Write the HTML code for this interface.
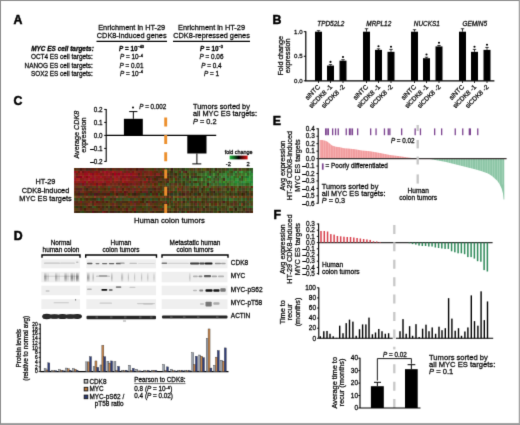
<!DOCTYPE html>
<html><head><meta charset="utf-8"><style>
html,body{margin:0;padding:0;background:#fff;}
body{width:520px;height:425px;overflow:hidden;position:relative;}
svg{position:absolute;left:0;top:0;font-family:"Liberation Sans", sans-serif;will-change:transform;}
text{stroke:currentColor;stroke-width:0.26px;}
</style></head><body>
<svg width="520" height="425" viewBox="0 0 520 425">
<defs><filter id="gbl" x="0" y="0" width="520" height="425" filterUnits="userSpaceOnUse" color-interpolation-filters="sRGB"><feConvolveMatrix order="3" kernelMatrix="0.0183 0.1353 0.0183 0.1353 1 0.1353 0.0183 0.1353 0.0183" divisor="1.6146" edgeMode="duplicate"/></filter></defs>
<g filter="url(#gbl)">
<rect x="0" y="0" width="520" height="425" fill="#fff"/>
<text x="13.4" y="24.4" font-size="12.3" font-weight="bold" fill="#000" style="stroke-width:0.5px">A</text>
<text x="131.7" y="30.4" font-size="7.35" text-anchor="middle" fill="#1a1a1a">Enrichment in HT-29</text>
<text x="131.7" y="37.8" font-size="7.35" text-anchor="middle" fill="#1a1a1a">CDK8-induced genes</text>
<text x="211.5" y="30.4" font-size="7.35" text-anchor="middle" fill="#1a1a1a">Enrichment in HT-29</text>
<text x="211.5" y="37.8" font-size="7.35" text-anchor="middle" fill="#1a1a1a">CDK8-repressed genes</text>
<line x1="96.50" y1="41.30" x2="167.00" y2="41.30" stroke="#000" stroke-width="1.3"/>
<line x1="173.00" y1="41.30" x2="250.00" y2="41.30" stroke="#000" stroke-width="1.3"/>
<text x="93.8" y="51.0" font-size="6.45" text-anchor="end" font-weight="bold" font-style="italic" fill="#000">MYC ES cell targets:</text>
<text x="92.8" y="59.400000000000006" font-size="6.4" text-anchor="end" fill="#1a1a1a">OCT4 ES cell targets:</text>
<text x="92.8" y="67.8" font-size="6.4" text-anchor="end" fill="#1a1a1a">NANOG ES cell targets:</text>
<text x="92.8" y="76.0" font-size="6.4" text-anchor="end" fill="#1a1a1a">SOX2 ES cell targets:</text>
<text x="131.5" y="51.0" font-size="6.35" text-anchor="middle" font-weight="bold" fill="#000"><tspan font-style="italic">P</tspan> = 10<tspan dy="-2.6" font-size="3.9">–40</tspan></text>
<text x="131.5" y="59.2" font-size="6.35" text-anchor="middle" fill="#1a1a1a"><tspan font-style="italic">P</tspan> = 10<tspan dy="-2.6" font-size="3.9">–4</tspan></text>
<text x="131.5" y="67.6" font-size="6.35" text-anchor="middle" fill="#1a1a1a"><tspan font-style="italic">P</tspan> = 0.01</text>
<text x="131.5" y="75.8" font-size="6.35" text-anchor="middle" fill="#1a1a1a"><tspan font-style="italic">P</tspan> = 10<tspan dy="-2.6" font-size="3.9">–4</tspan></text>
<text x="211.5" y="51.0" font-size="6.35" text-anchor="middle" font-weight="bold" fill="#000"><tspan font-style="italic">P</tspan> = 10<tspan dy="-2.6" font-size="3.9">–3</tspan></text>
<text x="211.5" y="59.2" font-size="6.35" text-anchor="middle" fill="#1a1a1a"><tspan font-style="italic">P</tspan> = 0.06</text>
<text x="211.5" y="67.6" font-size="6.35" text-anchor="middle" fill="#1a1a1a"><tspan font-style="italic">P</tspan> = 0.4</text>
<text x="211.5" y="75.8" font-size="6.35" text-anchor="middle" fill="#1a1a1a"><tspan font-style="italic">P</tspan> = 1</text>
<text x="272.5" y="24.0" font-size="12.3" font-weight="bold" fill="#000" style="stroke-width:0.5px">B</text>
<line x1="305.80" y1="31.20" x2="305.80" y2="80.80" stroke="#000" stroke-width="1.2"/>
<line x1="305.20" y1="80.80" x2="494.40" y2="80.80" stroke="#000" stroke-width="1.2"/>
<line x1="303.80" y1="31.70" x2="305.80" y2="31.70" stroke="#000" stroke-width="1"/>
<text x="302.6" y="33.8" font-size="6.1" text-anchor="end" fill="#1a1a1a">1.0</text>
<line x1="303.80" y1="56.25" x2="305.80" y2="56.25" stroke="#000" stroke-width="1"/>
<text x="302.6" y="58.35" font-size="6.1" text-anchor="end" fill="#1a1a1a">0.5</text>
<line x1="303.80" y1="80.80" x2="305.80" y2="80.80" stroke="#000" stroke-width="1"/>
<text x="302.6" y="82.89999999999999" font-size="6.1" text-anchor="end" fill="#1a1a1a">0.0</text>
<text transform="translate(282.7,55.8) rotate(-90)" font-size="7.2" text-anchor="middle" fill="#1a1a1a">Fold change</text>
<text transform="translate(289.7,55.8) rotate(-90)" font-size="7.2" text-anchor="middle" fill="#1a1a1a">expression</text>
<text x="330.8" y="25.5" font-size="6.4" text-anchor="middle" font-style="italic" fill="#1a1a1a">TPD52L2</text>
<rect x="315.00" y="31.70" width="7.00" height="49.10" fill="#000"/>
<line x1="318.50" y1="30.72" x2="318.50" y2="31.70" stroke="#000" stroke-width="0.8"/>
<line x1="316.80" y1="30.72" x2="320.20" y2="30.72" stroke="#000" stroke-width="0.8"/>
<line x1="318.50" y1="80.80" x2="318.50" y2="83.00" stroke="#000" stroke-width="0.8"/>
<text transform="translate(320.5,87.4) rotate(-45)" font-size="6.55" text-anchor="end" fill="#1a1a1a">siNTC</text>
<rect x="327.00" y="65.58" width="7.00" height="15.22" fill="#000"/>
<line x1="330.50" y1="64.60" x2="330.50" y2="65.58" stroke="#000" stroke-width="0.8"/>
<line x1="328.80" y1="64.60" x2="332.20" y2="64.60" stroke="#000" stroke-width="0.8"/>
<circle cx="330.50" cy="61.90" r="1.05" fill="#000"/>
<line x1="330.50" y1="80.80" x2="330.50" y2="83.00" stroke="#000" stroke-width="0.8"/>
<text transform="translate(332.5,87.4) rotate(-45)" font-size="6.55" text-anchor="end" fill="#1a1a1a">siCDK8 -1</text>
<rect x="339.50" y="60.67" width="7.00" height="20.13" fill="#000"/>
<line x1="343.00" y1="59.69" x2="343.00" y2="60.67" stroke="#000" stroke-width="0.8"/>
<line x1="341.30" y1="59.69" x2="344.70" y2="59.69" stroke="#000" stroke-width="0.8"/>
<circle cx="343.00" cy="56.99" r="1.05" fill="#000"/>
<line x1="343.00" y1="80.80" x2="343.00" y2="83.00" stroke="#000" stroke-width="0.8"/>
<text transform="translate(345.0,87.4) rotate(-45)" font-size="6.55" text-anchor="end" fill="#1a1a1a">siCDK8 -2</text>
<text x="378.8" y="25.5" font-size="6.4" text-anchor="middle" font-style="italic" fill="#1a1a1a">MRPL12</text>
<rect x="363.00" y="31.70" width="7.00" height="49.10" fill="#000"/>
<line x1="366.50" y1="28.75" x2="366.50" y2="31.70" stroke="#000" stroke-width="0.8"/>
<line x1="364.80" y1="28.75" x2="368.20" y2="28.75" stroke="#000" stroke-width="0.8"/>
<line x1="366.50" y1="80.80" x2="366.50" y2="83.00" stroke="#000" stroke-width="0.8"/>
<text transform="translate(368.5,87.4) rotate(-45)" font-size="6.55" text-anchor="end" fill="#1a1a1a">siNTC</text>
<rect x="375.00" y="49.87" width="7.00" height="30.93" fill="#000"/>
<line x1="378.50" y1="48.88" x2="378.50" y2="49.87" stroke="#000" stroke-width="0.8"/>
<line x1="376.80" y1="48.88" x2="380.20" y2="48.88" stroke="#000" stroke-width="0.8"/>
<circle cx="378.50" cy="46.18" r="1.05" fill="#000"/>
<line x1="378.50" y1="80.80" x2="378.50" y2="83.00" stroke="#000" stroke-width="0.8"/>
<text transform="translate(380.5,87.4) rotate(-45)" font-size="6.55" text-anchor="end" fill="#1a1a1a">siCDK8 -1</text>
<rect x="387.50" y="51.83" width="7.00" height="28.97" fill="#000"/>
<line x1="391.00" y1="49.38" x2="391.00" y2="51.83" stroke="#000" stroke-width="0.8"/>
<line x1="389.30" y1="49.38" x2="392.70" y2="49.38" stroke="#000" stroke-width="0.8"/>
<circle cx="391.00" cy="46.68" r="1.05" fill="#000"/>
<line x1="391.00" y1="80.80" x2="391.00" y2="83.00" stroke="#000" stroke-width="0.8"/>
<text transform="translate(393.0,87.4) rotate(-45)" font-size="6.55" text-anchor="end" fill="#1a1a1a">siCDK8 -2</text>
<text x="426.8" y="25.5" font-size="6.4" text-anchor="middle" font-style="italic" fill="#1a1a1a">NUCKS1</text>
<rect x="411.00" y="31.70" width="7.00" height="49.10" fill="#000"/>
<line x1="414.50" y1="29.74" x2="414.50" y2="31.70" stroke="#000" stroke-width="0.8"/>
<line x1="412.80" y1="29.74" x2="416.20" y2="29.74" stroke="#000" stroke-width="0.8"/>
<line x1="414.50" y1="80.80" x2="414.50" y2="83.00" stroke="#000" stroke-width="0.8"/>
<text transform="translate(416.5,87.4) rotate(-45)" font-size="6.55" text-anchor="end" fill="#1a1a1a">siNTC</text>
<rect x="423.00" y="58.21" width="7.00" height="22.59" fill="#000"/>
<line x1="426.50" y1="57.23" x2="426.50" y2="58.21" stroke="#000" stroke-width="0.8"/>
<line x1="424.80" y1="57.23" x2="428.20" y2="57.23" stroke="#000" stroke-width="0.8"/>
<circle cx="426.50" cy="54.53" r="1.05" fill="#000"/>
<line x1="426.50" y1="80.80" x2="426.50" y2="83.00" stroke="#000" stroke-width="0.8"/>
<text transform="translate(428.5,87.4) rotate(-45)" font-size="6.55" text-anchor="end" fill="#1a1a1a">siCDK8 -1</text>
<rect x="435.50" y="46.43" width="7.00" height="34.37" fill="#000"/>
<line x1="439.00" y1="45.45" x2="439.00" y2="46.43" stroke="#000" stroke-width="0.8"/>
<line x1="437.30" y1="45.45" x2="440.70" y2="45.45" stroke="#000" stroke-width="0.8"/>
<circle cx="439.00" cy="42.75" r="1.05" fill="#000"/>
<line x1="439.00" y1="80.80" x2="439.00" y2="83.00" stroke="#000" stroke-width="0.8"/>
<text transform="translate(441.0,87.4) rotate(-45)" font-size="6.55" text-anchor="end" fill="#1a1a1a">siCDK8 -2</text>
<text x="474.8" y="25.5" font-size="6.4" text-anchor="middle" font-style="italic" fill="#1a1a1a">GEMIN5</text>
<rect x="459.00" y="31.70" width="7.00" height="49.10" fill="#000"/>
<line x1="462.50" y1="28.75" x2="462.50" y2="31.70" stroke="#000" stroke-width="0.8"/>
<line x1="460.80" y1="28.75" x2="464.20" y2="28.75" stroke="#000" stroke-width="0.8"/>
<line x1="462.50" y1="80.80" x2="462.50" y2="83.00" stroke="#000" stroke-width="0.8"/>
<text transform="translate(464.5,87.4) rotate(-45)" font-size="6.55" text-anchor="end" fill="#1a1a1a">siNTC</text>
<rect x="471.00" y="51.83" width="7.00" height="28.97" fill="#000"/>
<line x1="474.50" y1="49.38" x2="474.50" y2="51.83" stroke="#000" stroke-width="0.8"/>
<line x1="472.80" y1="49.38" x2="476.20" y2="49.38" stroke="#000" stroke-width="0.8"/>
<circle cx="474.50" cy="46.68" r="1.05" fill="#000"/>
<line x1="474.50" y1="80.80" x2="474.50" y2="83.00" stroke="#000" stroke-width="0.8"/>
<text transform="translate(476.5,87.4) rotate(-45)" font-size="6.55" text-anchor="end" fill="#1a1a1a">siCDK8 -1</text>
<rect x="483.50" y="49.87" width="7.00" height="30.93" fill="#000"/>
<line x1="487.00" y1="47.41" x2="487.00" y2="49.87" stroke="#000" stroke-width="0.8"/>
<line x1="485.30" y1="47.41" x2="488.70" y2="47.41" stroke="#000" stroke-width="0.8"/>
<circle cx="487.00" cy="44.71" r="1.05" fill="#000"/>
<line x1="487.00" y1="80.80" x2="487.00" y2="83.00" stroke="#000" stroke-width="0.8"/>
<text transform="translate(489.0,87.4) rotate(-45)" font-size="6.55" text-anchor="end" fill="#1a1a1a">siCDK8 -2</text>
<text x="13.5" y="105.4" font-size="12.3" font-weight="bold" fill="#000" style="stroke-width:0.5px">C</text>
<line x1="106.20" y1="109.00" x2="106.20" y2="161.80" stroke="#000" stroke-width="1.1"/>
<line x1="104.20" y1="109.40" x2="106.20" y2="109.40" stroke="#000" stroke-width="1"/>
<text x="102.6" y="111.5" font-size="6.3" text-anchor="end" fill="#1a1a1a">0.2</text>
<line x1="104.20" y1="122.40" x2="106.20" y2="122.40" stroke="#000" stroke-width="1"/>
<text x="102.6" y="124.5" font-size="6.3" text-anchor="end" fill="#1a1a1a">0.1</text>
<line x1="104.20" y1="135.40" x2="106.20" y2="135.40" stroke="#000" stroke-width="1"/>
<text x="102.6" y="137.5" font-size="6.3" text-anchor="end" fill="#1a1a1a">0.0</text>
<line x1="104.20" y1="148.40" x2="106.20" y2="148.40" stroke="#000" stroke-width="1"/>
<text x="102.6" y="150.5" font-size="6.3" text-anchor="end" fill="#1a1a1a">–0.1</text>
<line x1="104.20" y1="161.40" x2="106.20" y2="161.40" stroke="#000" stroke-width="1"/>
<text x="102.6" y="163.5" font-size="6.3" text-anchor="end" fill="#1a1a1a">–0.2</text>
<line x1="106.20" y1="135.40" x2="216.20" y2="135.40" stroke="#000" stroke-width="1.1"/>
<rect x="123.90" y="118.80" width="18.90" height="16.60" fill="#000"/>
<line x1="133.35" y1="111.60" x2="133.35" y2="118.80" stroke="#000" stroke-width="1"/>
<line x1="129.20" y1="111.60" x2="137.40" y2="111.60" stroke="#000" stroke-width="1"/>
<rect x="187.30" y="135.40" width="19.20" height="18.10" fill="#000"/>
<line x1="196.90" y1="153.50" x2="196.90" y2="163.90" stroke="#000" stroke-width="1"/>
<line x1="192.30" y1="163.90" x2="201.30" y2="163.90" stroke="#000" stroke-width="1"/>
<circle cx="133" cy="107.4" r="1.0" fill="#000"/>
<text x="139.2" y="108.5" font-size="6.3" fill="#1a1a1a"><tspan font-style="italic">P</tspan> = 0.002</text>
<text transform="translate(79.2,134.7) rotate(-90)" font-size="7.2" text-anchor="middle" fill="#1a1a1a">Average <tspan font-style="italic">CDK8</tspan></text>
<text transform="translate(86.0,135.0) rotate(-90)" font-size="7.3" text-anchor="middle" fill="#1a1a1a">expression</text>
<defs><filter id="hb" x="0" y="0" width="100%" height="100%"><feGaussianBlur stdDeviation="0.4"/></filter></defs><g filter="url(#hb)"><g shape-rendering="crispEdges">
<rect x="74.00" y="168.00" width="2.04" height="2.55" fill="rgb(84,42,16)"/>
<rect x="75.99" y="168.00" width="2.04" height="2.55" fill="rgb(92,54,25)"/>
<rect x="77.98" y="168.00" width="2.04" height="2.55" fill="rgb(82,46,26)"/>
<rect x="79.97" y="168.00" width="2.04" height="2.55" fill="rgb(76,25,17)"/>
<rect x="81.96" y="168.00" width="2.04" height="2.55" fill="rgb(94,35,24)"/>
<rect x="83.94" y="168.00" width="2.04" height="2.55" fill="rgb(102,40,30)"/>
<rect x="85.93" y="168.00" width="2.04" height="2.55" fill="rgb(71,40,24)"/>
<rect x="87.92" y="168.00" width="2.04" height="2.55" fill="rgb(81,34,30)"/>
<rect x="89.91" y="168.00" width="2.04" height="2.55" fill="rgb(79,35,21)"/>
<rect x="91.90" y="168.00" width="2.04" height="2.55" fill="rgb(98,27,16)"/>
<rect x="93.89" y="168.00" width="2.04" height="2.55" fill="rgb(83,44,27)"/>
<rect x="95.88" y="168.00" width="2.04" height="2.55" fill="rgb(107,45,16)"/>
<rect x="97.87" y="168.00" width="2.04" height="2.55" fill="rgb(89,27,15)"/>
<rect x="99.86" y="168.00" width="2.04" height="2.55" fill="rgb(71,39,25)"/>
<rect x="101.84" y="168.00" width="2.04" height="2.55" fill="rgb(94,20,27)"/>
<rect x="103.83" y="168.00" width="2.04" height="2.55" fill="rgb(76,48,20)"/>
<rect x="105.82" y="168.00" width="2.04" height="2.55" fill="rgb(102,47,26)"/>
<rect x="107.81" y="168.00" width="2.04" height="2.55" fill="rgb(96,38,24)"/>
<rect x="109.80" y="168.00" width="2.04" height="2.55" fill="rgb(65,42,21)"/>
<rect x="111.79" y="168.00" width="2.04" height="2.55" fill="rgb(107,34,20)"/>
<rect x="113.78" y="168.00" width="2.04" height="2.55" fill="rgb(93,51,19)"/>
<rect x="115.77" y="168.00" width="2.04" height="2.55" fill="rgb(85,42,29)"/>
<rect x="117.76" y="168.00" width="2.04" height="2.55" fill="rgb(95,32,22)"/>
<rect x="119.74" y="168.00" width="2.04" height="2.55" fill="rgb(80,58,15)"/>
<rect x="121.73" y="168.00" width="2.04" height="2.55" fill="rgb(85,54,24)"/>
<rect x="123.72" y="168.00" width="2.04" height="2.55" fill="rgb(91,40,24)"/>
<rect x="125.71" y="168.00" width="2.04" height="2.55" fill="rgb(98,43,37)"/>
<rect x="127.70" y="168.00" width="2.04" height="2.55" fill="rgb(84,38,28)"/>
<rect x="129.69" y="168.00" width="2.04" height="2.55" fill="rgb(93,27,14)"/>
<rect x="131.68" y="168.00" width="2.04" height="2.55" fill="rgb(89,40,27)"/>
<rect x="133.67" y="168.00" width="2.04" height="2.55" fill="rgb(100,41,17)"/>
<rect x="135.66" y="168.00" width="2.04" height="2.55" fill="rgb(78,23,17)"/>
<rect x="137.64" y="168.00" width="2.04" height="2.55" fill="rgb(89,40,27)"/>
<rect x="139.63" y="168.00" width="2.04" height="2.55" fill="rgb(93,27,25)"/>
<rect x="141.62" y="168.00" width="2.04" height="2.55" fill="rgb(95,21,25)"/>
<rect x="143.61" y="168.00" width="2.04" height="2.55" fill="rgb(72,59,25)"/>
<rect x="145.60" y="168.00" width="2.04" height="2.55" fill="rgb(86,52,29)"/>
<rect x="147.59" y="168.00" width="2.04" height="2.55" fill="rgb(78,64,23)"/>
<rect x="149.58" y="168.00" width="2.04" height="2.55" fill="rgb(79,53,11)"/>
<rect x="151.57" y="168.00" width="2.04" height="2.55" fill="rgb(59,61,17)"/>
<rect x="153.56" y="168.00" width="2.04" height="2.55" fill="rgb(101,38,23)"/>
<rect x="155.54" y="168.00" width="2.04" height="2.55" fill="rgb(78,59,37)"/>
<rect x="157.53" y="168.00" width="2.04" height="2.55" fill="rgb(66,52,20)"/>
<rect x="159.52" y="168.00" width="2.04" height="2.55" fill="rgb(69,69,16)"/>
<rect x="161.51" y="168.00" width="2.04" height="2.55" fill="rgb(98,48,19)"/>
<rect x="163.50" y="168.00" width="2.04" height="2.55" fill="rgb(79,54,19)"/>
<rect x="165.49" y="168.00" width="2.04" height="2.55" fill="rgb(41,94,37)"/>
<rect x="167.48" y="168.00" width="2.04" height="2.55" fill="rgb(68,62,34)"/>
<rect x="169.47" y="168.00" width="2.04" height="2.55" fill="rgb(81,68,19)"/>
<rect x="171.46" y="168.00" width="2.04" height="2.55" fill="rgb(57,25,25)"/>
<rect x="173.44" y="168.00" width="2.04" height="2.55" fill="rgb(58,74,25)"/>
<rect x="175.43" y="168.00" width="2.04" height="2.55" fill="rgb(76,61,31)"/>
<rect x="177.42" y="168.00" width="2.04" height="2.55" fill="rgb(51,63,10)"/>
<rect x="179.41" y="168.00" width="2.04" height="2.55" fill="rgb(73,69,33)"/>
<rect x="181.40" y="168.00" width="2.04" height="2.55" fill="rgb(45,46,26)"/>
<rect x="183.39" y="168.00" width="2.04" height="2.55" fill="rgb(49,55,25)"/>
<rect x="185.38" y="168.00" width="2.04" height="2.55" fill="rgb(45,81,27)"/>
<rect x="187.37" y="168.00" width="2.04" height="2.55" fill="rgb(59,76,30)"/>
<rect x="189.36" y="168.00" width="2.04" height="2.55" fill="rgb(66,59,26)"/>
<rect x="191.34" y="168.00" width="2.04" height="2.55" fill="rgb(77,63,10)"/>
<rect x="193.33" y="168.00" width="2.04" height="2.55" fill="rgb(72,50,36)"/>
<rect x="195.32" y="168.00" width="2.04" height="2.55" fill="rgb(76,85,41)"/>
<rect x="197.31" y="168.00" width="2.04" height="2.55" fill="rgb(82,49,14)"/>
<rect x="199.30" y="168.00" width="2.04" height="2.55" fill="rgb(69,66,25)"/>
<rect x="201.29" y="168.00" width="2.04" height="2.55" fill="rgb(62,81,26)"/>
<rect x="203.28" y="168.00" width="2.04" height="2.55" fill="rgb(85,86,15)"/>
<rect x="205.27" y="168.00" width="2.04" height="2.55" fill="rgb(79,60,22)"/>
<rect x="207.26" y="168.00" width="2.04" height="2.55" fill="rgb(60,55,16)"/>
<rect x="209.24" y="168.00" width="2.04" height="2.55" fill="rgb(69,50,25)"/>
<rect x="211.23" y="168.00" width="2.04" height="2.55" fill="rgb(52,78,32)"/>
<rect x="213.22" y="168.00" width="2.04" height="2.55" fill="rgb(59,93,46)"/>
<rect x="215.21" y="168.00" width="2.04" height="2.55" fill="rgb(60,37,15)"/>
<rect x="217.20" y="168.00" width="2.04" height="2.55" fill="rgb(59,70,31)"/>
<rect x="219.19" y="168.00" width="2.04" height="2.55" fill="rgb(68,62,31)"/>
<rect x="221.18" y="168.00" width="2.04" height="2.55" fill="rgb(51,67,26)"/>
<rect x="223.17" y="168.00" width="2.04" height="2.55" fill="rgb(62,66,18)"/>
<rect x="225.16" y="168.00" width="2.04" height="2.55" fill="rgb(72,65,30)"/>
<rect x="227.14" y="168.00" width="2.04" height="2.55" fill="rgb(46,80,38)"/>
<rect x="229.13" y="168.00" width="2.04" height="2.55" fill="rgb(38,100,32)"/>
<rect x="231.12" y="168.00" width="2.04" height="2.55" fill="rgb(53,98,38)"/>
<rect x="233.11" y="168.00" width="2.04" height="2.55" fill="rgb(70,55,32)"/>
<rect x="235.10" y="168.00" width="2.04" height="2.55" fill="rgb(62,59,29)"/>
<rect x="237.09" y="168.00" width="2.04" height="2.55" fill="rgb(70,86,30)"/>
<rect x="239.08" y="168.00" width="2.04" height="2.55" fill="rgb(84,49,41)"/>
<rect x="241.07" y="168.00" width="2.04" height="2.55" fill="rgb(71,81,24)"/>
<rect x="243.06" y="168.00" width="2.04" height="2.55" fill="rgb(70,78,29)"/>
<rect x="245.04" y="168.00" width="2.04" height="2.55" fill="rgb(67,63,23)"/>
<rect x="247.03" y="168.00" width="2.04" height="2.55" fill="rgb(50,62,14)"/>
<rect x="249.02" y="168.00" width="2.04" height="2.55" fill="rgb(42,86,36)"/>
<rect x="251.01" y="168.00" width="2.04" height="2.55" fill="rgb(47,90,34)"/>
<rect x="74.00" y="170.50" width="2.04" height="2.55" fill="rgb(150,9,35)"/>
<rect x="75.99" y="170.50" width="2.04" height="2.55" fill="rgb(151,26,17)"/>
<rect x="77.98" y="170.50" width="2.04" height="2.55" fill="rgb(104,26,25)"/>
<rect x="79.97" y="170.50" width="2.04" height="2.55" fill="rgb(153,38,38)"/>
<rect x="81.96" y="170.50" width="2.04" height="2.55" fill="rgb(110,25,25)"/>
<rect x="83.94" y="170.50" width="2.04" height="2.55" fill="rgb(132,19,29)"/>
<rect x="85.93" y="170.50" width="2.04" height="2.55" fill="rgb(137,21,33)"/>
<rect x="87.92" y="170.50" width="2.04" height="2.55" fill="rgb(143,21,10)"/>
<rect x="89.91" y="170.50" width="2.04" height="2.55" fill="rgb(112,33,27)"/>
<rect x="91.90" y="170.50" width="2.04" height="2.55" fill="rgb(113,37,30)"/>
<rect x="93.89" y="170.50" width="2.04" height="2.55" fill="rgb(139,25,33)"/>
<rect x="95.88" y="170.50" width="2.04" height="2.55" fill="rgb(136,21,24)"/>
<rect x="97.87" y="170.50" width="2.04" height="2.55" fill="rgb(115,33,29)"/>
<rect x="99.86" y="170.50" width="2.04" height="2.55" fill="rgb(135,50,32)"/>
<rect x="101.84" y="170.50" width="2.04" height="2.55" fill="rgb(146,23,34)"/>
<rect x="103.83" y="170.50" width="2.04" height="2.55" fill="rgb(161,29,37)"/>
<rect x="105.82" y="170.50" width="2.04" height="2.55" fill="rgb(152,15,37)"/>
<rect x="107.81" y="170.50" width="2.04" height="2.55" fill="rgb(135,32,26)"/>
<rect x="109.80" y="170.50" width="2.04" height="2.55" fill="rgb(146,23,34)"/>
<rect x="111.79" y="170.50" width="2.04" height="2.55" fill="rgb(163,33,30)"/>
<rect x="113.78" y="170.50" width="2.04" height="2.55" fill="rgb(152,19,33)"/>
<rect x="115.77" y="170.50" width="2.04" height="2.55" fill="rgb(133,38,27)"/>
<rect x="117.76" y="170.50" width="2.04" height="2.55" fill="rgb(126,38,38)"/>
<rect x="119.74" y="170.50" width="2.04" height="2.55" fill="rgb(167,22,35)"/>
<rect x="121.73" y="170.50" width="2.04" height="2.55" fill="rgb(112,43,36)"/>
<rect x="123.72" y="170.50" width="2.04" height="2.55" fill="rgb(102,42,22)"/>
<rect x="125.71" y="170.50" width="2.04" height="2.55" fill="rgb(134,19,28)"/>
<rect x="127.70" y="170.50" width="2.04" height="2.55" fill="rgb(109,39,23)"/>
<rect x="129.69" y="170.50" width="2.04" height="2.55" fill="rgb(112,45,31)"/>
<rect x="131.68" y="170.50" width="2.04" height="2.55" fill="rgb(122,23,24)"/>
<rect x="133.67" y="170.50" width="2.04" height="2.55" fill="rgb(137,46,23)"/>
<rect x="135.66" y="170.50" width="2.04" height="2.55" fill="rgb(118,44,32)"/>
<rect x="137.64" y="170.50" width="2.04" height="2.55" fill="rgb(123,36,27)"/>
<rect x="139.63" y="170.50" width="2.04" height="2.55" fill="rgb(126,28,20)"/>
<rect x="141.62" y="170.50" width="2.04" height="2.55" fill="rgb(93,48,29)"/>
<rect x="143.61" y="170.50" width="2.04" height="2.55" fill="rgb(116,26,26)"/>
<rect x="145.60" y="170.50" width="2.04" height="2.55" fill="rgb(113,39,19)"/>
<rect x="147.59" y="170.50" width="2.04" height="2.55" fill="rgb(116,46,27)"/>
<rect x="149.58" y="170.50" width="2.04" height="2.55" fill="rgb(132,27,27)"/>
<rect x="151.57" y="170.50" width="2.04" height="2.55" fill="rgb(101,47,10)"/>
<rect x="153.56" y="170.50" width="2.04" height="2.55" fill="rgb(104,40,13)"/>
<rect x="155.54" y="170.50" width="2.04" height="2.55" fill="rgb(85,45,15)"/>
<rect x="157.53" y="170.50" width="2.04" height="2.55" fill="rgb(78,64,26)"/>
<rect x="159.52" y="170.50" width="2.04" height="2.55" fill="rgb(113,36,29)"/>
<rect x="161.51" y="170.50" width="2.04" height="2.55" fill="rgb(64,66,16)"/>
<rect x="163.50" y="170.50" width="2.04" height="2.55" fill="rgb(69,49,19)"/>
<rect x="165.49" y="170.50" width="2.04" height="2.55" fill="rgb(82,58,30)"/>
<rect x="167.48" y="170.50" width="2.04" height="2.55" fill="rgb(67,78,24)"/>
<rect x="169.47" y="170.50" width="2.04" height="2.55" fill="rgb(55,56,17)"/>
<rect x="171.46" y="170.50" width="2.04" height="2.55" fill="rgb(53,49,21)"/>
<rect x="173.44" y="170.50" width="2.04" height="2.55" fill="rgb(66,69,32)"/>
<rect x="175.43" y="170.50" width="2.04" height="2.55" fill="rgb(55,102,36)"/>
<rect x="177.42" y="170.50" width="2.04" height="2.55" fill="rgb(66,69,18)"/>
<rect x="179.41" y="170.50" width="2.04" height="2.55" fill="rgb(95,41,30)"/>
<rect x="181.40" y="170.50" width="2.04" height="2.55" fill="rgb(59,102,42)"/>
<rect x="183.39" y="170.50" width="2.04" height="2.55" fill="rgb(99,47,26)"/>
<rect x="185.38" y="170.50" width="2.04" height="2.55" fill="rgb(73,22,26)"/>
<rect x="187.37" y="170.50" width="2.04" height="2.55" fill="rgb(80,86,32)"/>
<rect x="189.36" y="170.50" width="2.04" height="2.55" fill="rgb(52,94,35)"/>
<rect x="191.34" y="170.50" width="2.04" height="2.55" fill="rgb(65,82,30)"/>
<rect x="193.33" y="170.50" width="2.04" height="2.55" fill="rgb(53,78,30)"/>
<rect x="195.32" y="170.50" width="2.04" height="2.55" fill="rgb(65,95,53)"/>
<rect x="197.31" y="170.50" width="2.04" height="2.55" fill="rgb(67,81,21)"/>
<rect x="199.30" y="170.50" width="2.04" height="2.55" fill="rgb(60,71,27)"/>
<rect x="201.29" y="170.50" width="2.04" height="2.55" fill="rgb(59,62,27)"/>
<rect x="203.28" y="170.50" width="2.04" height="2.55" fill="rgb(67,81,43)"/>
<rect x="205.27" y="170.50" width="2.04" height="2.55" fill="rgb(72,103,49)"/>
<rect x="207.26" y="170.50" width="2.04" height="2.55" fill="rgb(53,113,51)"/>
<rect x="209.24" y="170.50" width="2.04" height="2.55" fill="rgb(65,52,13)"/>
<rect x="211.23" y="170.50" width="2.04" height="2.55" fill="rgb(60,93,24)"/>
<rect x="213.22" y="170.50" width="2.04" height="2.55" fill="rgb(53,81,30)"/>
<rect x="215.21" y="170.50" width="2.04" height="2.55" fill="rgb(56,88,44)"/>
<rect x="217.20" y="170.50" width="2.04" height="2.55" fill="rgb(65,107,32)"/>
<rect x="219.19" y="170.50" width="2.04" height="2.55" fill="rgb(68,61,28)"/>
<rect x="221.18" y="170.50" width="2.04" height="2.55" fill="rgb(61,81,35)"/>
<rect x="223.17" y="170.50" width="2.04" height="2.55" fill="rgb(50,87,20)"/>
<rect x="225.16" y="170.50" width="2.04" height="2.55" fill="rgb(54,112,39)"/>
<rect x="227.14" y="170.50" width="2.04" height="2.55" fill="rgb(45,121,52)"/>
<rect x="229.13" y="170.50" width="2.04" height="2.55" fill="rgb(66,88,19)"/>
<rect x="231.12" y="170.50" width="2.04" height="2.55" fill="rgb(60,77,19)"/>
<rect x="233.11" y="170.50" width="2.04" height="2.55" fill="rgb(40,109,50)"/>
<rect x="235.10" y="170.50" width="2.04" height="2.55" fill="rgb(52,150,60)"/>
<rect x="237.09" y="170.50" width="2.04" height="2.55" fill="rgb(62,88,40)"/>
<rect x="239.08" y="170.50" width="2.04" height="2.55" fill="rgb(58,142,52)"/>
<rect x="241.07" y="170.50" width="2.04" height="2.55" fill="rgb(45,154,60)"/>
<rect x="243.06" y="170.50" width="2.04" height="2.55" fill="rgb(61,110,40)"/>
<rect x="245.04" y="170.50" width="2.04" height="2.55" fill="rgb(52,102,39)"/>
<rect x="247.03" y="170.50" width="2.04" height="2.55" fill="rgb(46,116,45)"/>
<rect x="249.02" y="170.50" width="2.04" height="2.55" fill="rgb(49,145,62)"/>
<rect x="251.01" y="170.50" width="2.04" height="2.55" fill="rgb(57,95,55)"/>
<rect x="74.00" y="173.00" width="2.04" height="2.55" fill="rgb(139,38,46)"/>
<rect x="75.99" y="173.00" width="2.04" height="2.55" fill="rgb(107,37,19)"/>
<rect x="77.98" y="173.00" width="2.04" height="2.55" fill="rgb(140,28,18)"/>
<rect x="79.97" y="173.00" width="2.04" height="2.55" fill="rgb(153,30,30)"/>
<rect x="81.96" y="173.00" width="2.04" height="2.55" fill="rgb(132,36,21)"/>
<rect x="83.94" y="173.00" width="2.04" height="2.55" fill="rgb(156,9,28)"/>
<rect x="85.93" y="173.00" width="2.04" height="2.55" fill="rgb(158,9,32)"/>
<rect x="87.92" y="173.00" width="2.04" height="2.55" fill="rgb(146,37,33)"/>
<rect x="89.91" y="173.00" width="2.04" height="2.55" fill="rgb(160,16,31)"/>
<rect x="91.90" y="173.00" width="2.04" height="2.55" fill="rgb(134,16,36)"/>
<rect x="93.89" y="173.00" width="2.04" height="2.55" fill="rgb(153,28,23)"/>
<rect x="95.88" y="173.00" width="2.04" height="2.55" fill="rgb(150,25,15)"/>
<rect x="97.87" y="173.00" width="2.04" height="2.55" fill="rgb(152,22,32)"/>
<rect x="99.86" y="173.00" width="2.04" height="2.55" fill="rgb(134,21,24)"/>
<rect x="101.84" y="173.00" width="2.04" height="2.55" fill="rgb(118,39,20)"/>
<rect x="103.83" y="173.00" width="2.04" height="2.55" fill="rgb(154,26,32)"/>
<rect x="105.82" y="173.00" width="2.04" height="2.55" fill="rgb(145,23,26)"/>
<rect x="107.81" y="173.00" width="2.04" height="2.55" fill="rgb(154,34,34)"/>
<rect x="109.80" y="173.00" width="2.04" height="2.55" fill="rgb(138,23,27)"/>
<rect x="111.79" y="173.00" width="2.04" height="2.55" fill="rgb(113,27,25)"/>
<rect x="113.78" y="173.00" width="2.04" height="2.55" fill="rgb(166,3,28)"/>
<rect x="115.77" y="173.00" width="2.04" height="2.55" fill="rgb(133,23,27)"/>
<rect x="117.76" y="173.00" width="2.04" height="2.55" fill="rgb(155,6,35)"/>
<rect x="119.74" y="173.00" width="2.04" height="2.55" fill="rgb(147,26,26)"/>
<rect x="121.73" y="173.00" width="2.04" height="2.55" fill="rgb(132,22,31)"/>
<rect x="123.72" y="173.00" width="2.04" height="2.55" fill="rgb(151,26,31)"/>
<rect x="125.71" y="173.00" width="2.04" height="2.55" fill="rgb(146,22,38)"/>
<rect x="127.70" y="173.00" width="2.04" height="2.55" fill="rgb(158,24,26)"/>
<rect x="129.69" y="173.00" width="2.04" height="2.55" fill="rgb(139,15,47)"/>
<rect x="131.68" y="173.00" width="2.04" height="2.55" fill="rgb(146,23,24)"/>
<rect x="133.67" y="173.00" width="2.04" height="2.55" fill="rgb(144,31,25)"/>
<rect x="135.66" y="173.00" width="2.04" height="2.55" fill="rgb(132,29,23)"/>
<rect x="137.64" y="173.00" width="2.04" height="2.55" fill="rgb(83,36,22)"/>
<rect x="139.63" y="173.00" width="2.04" height="2.55" fill="rgb(127,28,22)"/>
<rect x="141.62" y="173.00" width="2.04" height="2.55" fill="rgb(84,48,20)"/>
<rect x="143.61" y="173.00" width="2.04" height="2.55" fill="rgb(116,45,31)"/>
<rect x="145.60" y="173.00" width="2.04" height="2.55" fill="rgb(116,39,22)"/>
<rect x="147.59" y="173.00" width="2.04" height="2.55" fill="rgb(112,50,30)"/>
<rect x="149.58" y="173.00" width="2.04" height="2.55" fill="rgb(134,27,23)"/>
<rect x="151.57" y="173.00" width="2.04" height="2.55" fill="rgb(112,39,24)"/>
<rect x="153.56" y="173.00" width="2.04" height="2.55" fill="rgb(90,40,21)"/>
<rect x="155.54" y="173.00" width="2.04" height="2.55" fill="rgb(134,32,32)"/>
<rect x="157.53" y="173.00" width="2.04" height="2.55" fill="rgb(126,38,30)"/>
<rect x="159.52" y="173.00" width="2.04" height="2.55" fill="rgb(88,38,21)"/>
<rect x="161.51" y="173.00" width="2.04" height="2.55" fill="rgb(79,50,35)"/>
<rect x="163.50" y="173.00" width="2.04" height="2.55" fill="rgb(76,58,23)"/>
<rect x="165.49" y="173.00" width="2.04" height="2.55" fill="rgb(69,40,21)"/>
<rect x="167.48" y="173.00" width="2.04" height="2.55" fill="rgb(79,40,31)"/>
<rect x="169.47" y="173.00" width="2.04" height="2.55" fill="rgb(61,58,18)"/>
<rect x="171.46" y="173.00" width="2.04" height="2.55" fill="rgb(57,60,34)"/>
<rect x="173.44" y="173.00" width="2.04" height="2.55" fill="rgb(75,46,20)"/>
<rect x="175.43" y="173.00" width="2.04" height="2.55" fill="rgb(55,47,14)"/>
<rect x="177.42" y="173.00" width="2.04" height="2.55" fill="rgb(69,64,12)"/>
<rect x="179.41" y="173.00" width="2.04" height="2.55" fill="rgb(40,75,37)"/>
<rect x="181.40" y="173.00" width="2.04" height="2.55" fill="rgb(48,84,26)"/>
<rect x="183.39" y="173.00" width="2.04" height="2.55" fill="rgb(72,91,37)"/>
<rect x="185.38" y="173.00" width="2.04" height="2.55" fill="rgb(76,78,24)"/>
<rect x="187.37" y="173.00" width="2.04" height="2.55" fill="rgb(65,60,16)"/>
<rect x="189.36" y="173.00" width="2.04" height="2.55" fill="rgb(66,91,25)"/>
<rect x="191.34" y="173.00" width="2.04" height="2.55" fill="rgb(61,66,27)"/>
<rect x="193.33" y="173.00" width="2.04" height="2.55" fill="rgb(82,48,22)"/>
<rect x="195.32" y="173.00" width="2.04" height="2.55" fill="rgb(57,72,22)"/>
<rect x="197.31" y="173.00" width="2.04" height="2.55" fill="rgb(58,99,38)"/>
<rect x="199.30" y="173.00" width="2.04" height="2.55" fill="rgb(61,107,40)"/>
<rect x="201.29" y="173.00" width="2.04" height="2.55" fill="rgb(64,102,47)"/>
<rect x="203.28" y="173.00" width="2.04" height="2.55" fill="rgb(54,105,40)"/>
<rect x="205.27" y="173.00" width="2.04" height="2.55" fill="rgb(48,136,44)"/>
<rect x="207.26" y="173.00" width="2.04" height="2.55" fill="rgb(55,100,34)"/>
<rect x="209.24" y="173.00" width="2.04" height="2.55" fill="rgb(60,62,40)"/>
<rect x="211.23" y="173.00" width="2.04" height="2.55" fill="rgb(56,101,45)"/>
<rect x="213.22" y="173.00" width="2.04" height="2.55" fill="rgb(62,138,47)"/>
<rect x="215.21" y="173.00" width="2.04" height="2.55" fill="rgb(50,94,40)"/>
<rect x="217.20" y="173.00" width="2.04" height="2.55" fill="rgb(64,60,24)"/>
<rect x="219.19" y="173.00" width="2.04" height="2.55" fill="rgb(54,122,44)"/>
<rect x="221.18" y="173.00" width="2.04" height="2.55" fill="rgb(55,108,46)"/>
<rect x="223.17" y="173.00" width="2.04" height="2.55" fill="rgb(59,124,55)"/>
<rect x="225.16" y="173.00" width="2.04" height="2.55" fill="rgb(44,136,53)"/>
<rect x="227.14" y="173.00" width="2.04" height="2.55" fill="rgb(76,91,28)"/>
<rect x="229.13" y="173.00" width="2.04" height="2.55" fill="rgb(63,93,45)"/>
<rect x="231.12" y="173.00" width="2.04" height="2.55" fill="rgb(56,100,44)"/>
<rect x="233.11" y="173.00" width="2.04" height="2.55" fill="rgb(50,132,50)"/>
<rect x="235.10" y="173.00" width="2.04" height="2.55" fill="rgb(54,96,42)"/>
<rect x="237.09" y="173.00" width="2.04" height="2.55" fill="rgb(72,95,38)"/>
<rect x="239.08" y="173.00" width="2.04" height="2.55" fill="rgb(67,107,35)"/>
<rect x="241.07" y="173.00" width="2.04" height="2.55" fill="rgb(67,114,42)"/>
<rect x="243.06" y="173.00" width="2.04" height="2.55" fill="rgb(57,117,38)"/>
<rect x="245.04" y="173.00" width="2.04" height="2.55" fill="rgb(51,149,45)"/>
<rect x="247.03" y="173.00" width="2.04" height="2.55" fill="rgb(57,96,36)"/>
<rect x="249.02" y="173.00" width="2.04" height="2.55" fill="rgb(46,127,56)"/>
<rect x="251.01" y="173.00" width="2.04" height="2.55" fill="rgb(43,142,51)"/>
<rect x="74.00" y="175.50" width="2.04" height="2.55" fill="rgb(149,38,32)"/>
<rect x="75.99" y="175.50" width="2.04" height="2.55" fill="rgb(117,25,30)"/>
<rect x="77.98" y="175.50" width="2.04" height="2.55" fill="rgb(129,12,32)"/>
<rect x="79.97" y="175.50" width="2.04" height="2.55" fill="rgb(145,4,31)"/>
<rect x="81.96" y="175.50" width="2.04" height="2.55" fill="rgb(158,34,38)"/>
<rect x="83.94" y="175.50" width="2.04" height="2.55" fill="rgb(148,21,27)"/>
<rect x="85.93" y="175.50" width="2.04" height="2.55" fill="rgb(126,24,12)"/>
<rect x="87.92" y="175.50" width="2.04" height="2.55" fill="rgb(162,15,37)"/>
<rect x="89.91" y="175.50" width="2.04" height="2.55" fill="rgb(151,37,31)"/>
<rect x="91.90" y="175.50" width="2.04" height="2.55" fill="rgb(153,19,36)"/>
<rect x="93.89" y="175.50" width="2.04" height="2.55" fill="rgb(141,41,37)"/>
<rect x="95.88" y="175.50" width="2.04" height="2.55" fill="rgb(152,24,32)"/>
<rect x="97.87" y="175.50" width="2.04" height="2.55" fill="rgb(156,21,22)"/>
<rect x="99.86" y="175.50" width="2.04" height="2.55" fill="rgb(169,18,38)"/>
<rect x="101.84" y="175.50" width="2.04" height="2.55" fill="rgb(146,23,26)"/>
<rect x="103.83" y="175.50" width="2.04" height="2.55" fill="rgb(138,31,25)"/>
<rect x="105.82" y="175.50" width="2.04" height="2.55" fill="rgb(132,32,40)"/>
<rect x="107.81" y="175.50" width="2.04" height="2.55" fill="rgb(151,21,36)"/>
<rect x="109.80" y="175.50" width="2.04" height="2.55" fill="rgb(119,30,39)"/>
<rect x="111.79" y="175.50" width="2.04" height="2.55" fill="rgb(137,50,23)"/>
<rect x="113.78" y="175.50" width="2.04" height="2.55" fill="rgb(152,31,49)"/>
<rect x="115.77" y="175.50" width="2.04" height="2.55" fill="rgb(143,26,31)"/>
<rect x="117.76" y="175.50" width="2.04" height="2.55" fill="rgb(146,38,42)"/>
<rect x="119.74" y="175.50" width="2.04" height="2.55" fill="rgb(140,27,20)"/>
<rect x="121.73" y="175.50" width="2.04" height="2.55" fill="rgb(126,18,30)"/>
<rect x="123.72" y="175.50" width="2.04" height="2.55" fill="rgb(149,8,35)"/>
<rect x="125.71" y="175.50" width="2.04" height="2.55" fill="rgb(128,33,24)"/>
<rect x="127.70" y="175.50" width="2.04" height="2.55" fill="rgb(142,17,29)"/>
<rect x="129.69" y="175.50" width="2.04" height="2.55" fill="rgb(115,38,15)"/>
<rect x="131.68" y="175.50" width="2.04" height="2.55" fill="rgb(128,20,33)"/>
<rect x="133.67" y="175.50" width="2.04" height="2.55" fill="rgb(132,18,37)"/>
<rect x="135.66" y="175.50" width="2.04" height="2.55" fill="rgb(118,18,45)"/>
<rect x="137.64" y="175.50" width="2.04" height="2.55" fill="rgb(105,36,22)"/>
<rect x="139.63" y="175.50" width="2.04" height="2.55" fill="rgb(108,34,29)"/>
<rect x="141.62" y="175.50" width="2.04" height="2.55" fill="rgb(88,50,14)"/>
<rect x="143.61" y="175.50" width="2.04" height="2.55" fill="rgb(120,36,21)"/>
<rect x="145.60" y="175.50" width="2.04" height="2.55" fill="rgb(74,40,16)"/>
<rect x="147.59" y="175.50" width="2.04" height="2.55" fill="rgb(81,43,30)"/>
<rect x="149.58" y="175.50" width="2.04" height="2.55" fill="rgb(87,49,27)"/>
<rect x="151.57" y="175.50" width="2.04" height="2.55" fill="rgb(84,54,23)"/>
<rect x="153.56" y="175.50" width="2.04" height="2.55" fill="rgb(105,24,33)"/>
<rect x="155.54" y="175.50" width="2.04" height="2.55" fill="rgb(64,45,11)"/>
<rect x="157.53" y="175.50" width="2.04" height="2.55" fill="rgb(71,40,21)"/>
<rect x="159.52" y="175.50" width="2.04" height="2.55" fill="rgb(70,52,5)"/>
<rect x="161.51" y="175.50" width="2.04" height="2.55" fill="rgb(70,43,16)"/>
<rect x="163.50" y="175.50" width="2.04" height="2.55" fill="rgb(72,50,27)"/>
<rect x="165.49" y="175.50" width="2.04" height="2.55" fill="rgb(67,84,35)"/>
<rect x="167.48" y="175.50" width="2.04" height="2.55" fill="rgb(61,58,17)"/>
<rect x="169.47" y="175.50" width="2.04" height="2.55" fill="rgb(66,36,29)"/>
<rect x="171.46" y="175.50" width="2.04" height="2.55" fill="rgb(65,58,20)"/>
<rect x="173.44" y="175.50" width="2.04" height="2.55" fill="rgb(75,60,36)"/>
<rect x="175.43" y="175.50" width="2.04" height="2.55" fill="rgb(105,52,26)"/>
<rect x="177.42" y="175.50" width="2.04" height="2.55" fill="rgb(61,66,39)"/>
<rect x="179.41" y="175.50" width="2.04" height="2.55" fill="rgb(50,58,20)"/>
<rect x="181.40" y="175.50" width="2.04" height="2.55" fill="rgb(39,100,37)"/>
<rect x="183.39" y="175.50" width="2.04" height="2.55" fill="rgb(91,51,24)"/>
<rect x="185.38" y="175.50" width="2.04" height="2.55" fill="rgb(56,84,36)"/>
<rect x="187.37" y="175.50" width="2.04" height="2.55" fill="rgb(72,41,27)"/>
<rect x="189.36" y="175.50" width="2.04" height="2.55" fill="rgb(64,123,37)"/>
<rect x="191.34" y="175.50" width="2.04" height="2.55" fill="rgb(58,52,32)"/>
<rect x="193.33" y="175.50" width="2.04" height="2.55" fill="rgb(60,49,38)"/>
<rect x="195.32" y="175.50" width="2.04" height="2.55" fill="rgb(49,63,35)"/>
<rect x="197.31" y="175.50" width="2.04" height="2.55" fill="rgb(60,47,7)"/>
<rect x="199.30" y="175.50" width="2.04" height="2.55" fill="rgb(67,63,20)"/>
<rect x="201.29" y="175.50" width="2.04" height="2.55" fill="rgb(62,91,27)"/>
<rect x="203.28" y="175.50" width="2.04" height="2.55" fill="rgb(51,100,38)"/>
<rect x="205.27" y="175.50" width="2.04" height="2.55" fill="rgb(53,82,40)"/>
<rect x="207.26" y="175.50" width="2.04" height="2.55" fill="rgb(33,133,54)"/>
<rect x="209.24" y="175.50" width="2.04" height="2.55" fill="rgb(49,153,59)"/>
<rect x="211.23" y="175.50" width="2.04" height="2.55" fill="rgb(45,108,45)"/>
<rect x="213.22" y="175.50" width="2.04" height="2.55" fill="rgb(69,101,54)"/>
<rect x="215.21" y="175.50" width="2.04" height="2.55" fill="rgb(53,76,27)"/>
<rect x="217.20" y="175.50" width="2.04" height="2.55" fill="rgb(47,93,37)"/>
<rect x="219.19" y="175.50" width="2.04" height="2.55" fill="rgb(70,95,46)"/>
<rect x="221.18" y="175.50" width="2.04" height="2.55" fill="rgb(54,137,59)"/>
<rect x="223.17" y="175.50" width="2.04" height="2.55" fill="rgb(66,118,42)"/>
<rect x="225.16" y="175.50" width="2.04" height="2.55" fill="rgb(45,135,73)"/>
<rect x="227.14" y="175.50" width="2.04" height="2.55" fill="rgb(54,101,39)"/>
<rect x="229.13" y="175.50" width="2.04" height="2.55" fill="rgb(62,114,53)"/>
<rect x="231.12" y="175.50" width="2.04" height="2.55" fill="rgb(45,151,62)"/>
<rect x="233.11" y="175.50" width="2.04" height="2.55" fill="rgb(38,114,30)"/>
<rect x="235.10" y="175.50" width="2.04" height="2.55" fill="rgb(53,107,40)"/>
<rect x="237.09" y="175.50" width="2.04" height="2.55" fill="rgb(71,99,25)"/>
<rect x="239.08" y="175.50" width="2.04" height="2.55" fill="rgb(37,146,59)"/>
<rect x="241.07" y="175.50" width="2.04" height="2.55" fill="rgb(62,67,25)"/>
<rect x="243.06" y="175.50" width="2.04" height="2.55" fill="rgb(58,113,42)"/>
<rect x="245.04" y="175.50" width="2.04" height="2.55" fill="rgb(36,110,53)"/>
<rect x="247.03" y="175.50" width="2.04" height="2.55" fill="rgb(31,129,45)"/>
<rect x="249.02" y="175.50" width="2.04" height="2.55" fill="rgb(48,153,57)"/>
<rect x="251.01" y="175.50" width="2.04" height="2.55" fill="rgb(49,128,53)"/>
<rect x="74.00" y="178.00" width="2.04" height="2.55" fill="rgb(149,18,45)"/>
<rect x="75.99" y="178.00" width="2.04" height="2.55" fill="rgb(168,36,20)"/>
<rect x="77.98" y="178.00" width="2.04" height="2.55" fill="rgb(165,38,36)"/>
<rect x="79.97" y="178.00" width="2.04" height="2.55" fill="rgb(129,33,20)"/>
<rect x="81.96" y="178.00" width="2.04" height="2.55" fill="rgb(143,27,26)"/>
<rect x="83.94" y="178.00" width="2.04" height="2.55" fill="rgb(141,38,36)"/>
<rect x="85.93" y="178.00" width="2.04" height="2.55" fill="rgb(155,22,35)"/>
<rect x="87.92" y="178.00" width="2.04" height="2.55" fill="rgb(165,36,42)"/>
<rect x="89.91" y="178.00" width="2.04" height="2.55" fill="rgb(150,24,25)"/>
<rect x="91.90" y="178.00" width="2.04" height="2.55" fill="rgb(155,9,46)"/>
<rect x="93.89" y="178.00" width="2.04" height="2.55" fill="rgb(156,26,32)"/>
<rect x="95.88" y="178.00" width="2.04" height="2.55" fill="rgb(138,26,29)"/>
<rect x="97.87" y="178.00" width="2.04" height="2.55" fill="rgb(152,22,34)"/>
<rect x="99.86" y="178.00" width="2.04" height="2.55" fill="rgb(135,38,25)"/>
<rect x="101.84" y="178.00" width="2.04" height="2.55" fill="rgb(142,37,27)"/>
<rect x="103.83" y="178.00" width="2.04" height="2.55" fill="rgb(136,25,23)"/>
<rect x="105.82" y="178.00" width="2.04" height="2.55" fill="rgb(136,23,33)"/>
<rect x="107.81" y="178.00" width="2.04" height="2.55" fill="rgb(125,33,20)"/>
<rect x="109.80" y="178.00" width="2.04" height="2.55" fill="rgb(146,18,36)"/>
<rect x="111.79" y="178.00" width="2.04" height="2.55" fill="rgb(113,41,21)"/>
<rect x="113.78" y="178.00" width="2.04" height="2.55" fill="rgb(157,34,27)"/>
<rect x="115.77" y="178.00" width="2.04" height="2.55" fill="rgb(158,30,30)"/>
<rect x="117.76" y="178.00" width="2.04" height="2.55" fill="rgb(132,43,33)"/>
<rect x="119.74" y="178.00" width="2.04" height="2.55" fill="rgb(118,27,32)"/>
<rect x="121.73" y="178.00" width="2.04" height="2.55" fill="rgb(160,26,22)"/>
<rect x="123.72" y="178.00" width="2.04" height="2.55" fill="rgb(140,30,27)"/>
<rect x="125.71" y="178.00" width="2.04" height="2.55" fill="rgb(146,41,33)"/>
<rect x="127.70" y="178.00" width="2.04" height="2.55" fill="rgb(138,34,30)"/>
<rect x="129.69" y="178.00" width="2.04" height="2.55" fill="rgb(116,30,33)"/>
<rect x="131.68" y="178.00" width="2.04" height="2.55" fill="rgb(116,30,27)"/>
<rect x="133.67" y="178.00" width="2.04" height="2.55" fill="rgb(128,36,17)"/>
<rect x="135.66" y="178.00" width="2.04" height="2.55" fill="rgb(119,42,22)"/>
<rect x="137.64" y="178.00" width="2.04" height="2.55" fill="rgb(140,28,33)"/>
<rect x="139.63" y="178.00" width="2.04" height="2.55" fill="rgb(112,39,18)"/>
<rect x="141.62" y="178.00" width="2.04" height="2.55" fill="rgb(105,47,33)"/>
<rect x="143.61" y="178.00" width="2.04" height="2.55" fill="rgb(68,60,25)"/>
<rect x="145.60" y="178.00" width="2.04" height="2.55" fill="rgb(151,29,25)"/>
<rect x="147.59" y="178.00" width="2.04" height="2.55" fill="rgb(89,34,26)"/>
<rect x="149.58" y="178.00" width="2.04" height="2.55" fill="rgb(122,35,34)"/>
<rect x="151.57" y="178.00" width="2.04" height="2.55" fill="rgb(75,50,22)"/>
<rect x="153.56" y="178.00" width="2.04" height="2.55" fill="rgb(77,40,6)"/>
<rect x="155.54" y="178.00" width="2.04" height="2.55" fill="rgb(69,40,19)"/>
<rect x="157.53" y="178.00" width="2.04" height="2.55" fill="rgb(92,49,30)"/>
<rect x="159.52" y="178.00" width="2.04" height="2.55" fill="rgb(99,47,33)"/>
<rect x="161.51" y="178.00" width="2.04" height="2.55" fill="rgb(68,58,20)"/>
<rect x="163.50" y="178.00" width="2.04" height="2.55" fill="rgb(92,50,27)"/>
<rect x="165.49" y="178.00" width="2.04" height="2.55" fill="rgb(70,41,24)"/>
<rect x="167.48" y="178.00" width="2.04" height="2.55" fill="rgb(94,35,17)"/>
<rect x="169.47" y="178.00" width="2.04" height="2.55" fill="rgb(72,73,19)"/>
<rect x="171.46" y="178.00" width="2.04" height="2.55" fill="rgb(83,56,19)"/>
<rect x="173.44" y="178.00" width="2.04" height="2.55" fill="rgb(53,105,30)"/>
<rect x="175.43" y="178.00" width="2.04" height="2.55" fill="rgb(89,51,17)"/>
<rect x="177.42" y="178.00" width="2.04" height="2.55" fill="rgb(62,56,25)"/>
<rect x="179.41" y="178.00" width="2.04" height="2.55" fill="rgb(74,70,32)"/>
<rect x="181.40" y="178.00" width="2.04" height="2.55" fill="rgb(58,85,41)"/>
<rect x="183.39" y="178.00" width="2.04" height="2.55" fill="rgb(44,99,30)"/>
<rect x="185.38" y="178.00" width="2.04" height="2.55" fill="rgb(64,68,28)"/>
<rect x="187.37" y="178.00" width="2.04" height="2.55" fill="rgb(52,64,32)"/>
<rect x="189.36" y="178.00" width="2.04" height="2.55" fill="rgb(57,89,34)"/>
<rect x="191.34" y="178.00" width="2.04" height="2.55" fill="rgb(57,97,32)"/>
<rect x="193.33" y="178.00" width="2.04" height="2.55" fill="rgb(57,113,46)"/>
<rect x="195.32" y="178.00" width="2.04" height="2.55" fill="rgb(48,134,56)"/>
<rect x="197.31" y="178.00" width="2.04" height="2.55" fill="rgb(68,76,36)"/>
<rect x="199.30" y="178.00" width="2.04" height="2.55" fill="rgb(53,109,40)"/>
<rect x="201.29" y="178.00" width="2.04" height="2.55" fill="rgb(59,137,46)"/>
<rect x="203.28" y="178.00" width="2.04" height="2.55" fill="rgb(62,85,37)"/>
<rect x="205.27" y="178.00" width="2.04" height="2.55" fill="rgb(47,121,43)"/>
<rect x="207.26" y="178.00" width="2.04" height="2.55" fill="rgb(73,76,23)"/>
<rect x="209.24" y="178.00" width="2.04" height="2.55" fill="rgb(57,94,22)"/>
<rect x="211.23" y="178.00" width="2.04" height="2.55" fill="rgb(59,115,52)"/>
<rect x="213.22" y="178.00" width="2.04" height="2.55" fill="rgb(46,86,37)"/>
<rect x="215.21" y="178.00" width="2.04" height="2.55" fill="rgb(72,92,38)"/>
<rect x="217.20" y="178.00" width="2.04" height="2.55" fill="rgb(67,66,39)"/>
<rect x="219.19" y="178.00" width="2.04" height="2.55" fill="rgb(59,119,49)"/>
<rect x="221.18" y="178.00" width="2.04" height="2.55" fill="rgb(53,103,29)"/>
<rect x="223.17" y="178.00" width="2.04" height="2.55" fill="rgb(62,51,31)"/>
<rect x="225.16" y="178.00" width="2.04" height="2.55" fill="rgb(69,128,55)"/>
<rect x="227.14" y="178.00" width="2.04" height="2.55" fill="rgb(40,136,56)"/>
<rect x="229.13" y="178.00" width="2.04" height="2.55" fill="rgb(40,118,42)"/>
<rect x="231.12" y="178.00" width="2.04" height="2.55" fill="rgb(56,133,48)"/>
<rect x="233.11" y="178.00" width="2.04" height="2.55" fill="rgb(44,112,35)"/>
<rect x="235.10" y="178.00" width="2.04" height="2.55" fill="rgb(48,149,51)"/>
<rect x="237.09" y="178.00" width="2.04" height="2.55" fill="rgb(50,137,63)"/>
<rect x="239.08" y="178.00" width="2.04" height="2.55" fill="rgb(51,95,42)"/>
<rect x="241.07" y="178.00" width="2.04" height="2.55" fill="rgb(50,81,26)"/>
<rect x="243.06" y="178.00" width="2.04" height="2.55" fill="rgb(54,134,41)"/>
<rect x="245.04" y="178.00" width="2.04" height="2.55" fill="rgb(66,137,42)"/>
<rect x="247.03" y="178.00" width="2.04" height="2.55" fill="rgb(44,150,64)"/>
<rect x="249.02" y="178.00" width="2.04" height="2.55" fill="rgb(40,154,42)"/>
<rect x="251.01" y="178.00" width="2.04" height="2.55" fill="rgb(53,132,56)"/>
<rect x="74.00" y="180.50" width="2.04" height="2.55" fill="rgb(148,20,23)"/>
<rect x="75.99" y="180.50" width="2.04" height="2.55" fill="rgb(143,34,37)"/>
<rect x="77.98" y="180.50" width="2.04" height="2.55" fill="rgb(140,36,29)"/>
<rect x="79.97" y="180.50" width="2.04" height="2.55" fill="rgb(144,28,38)"/>
<rect x="81.96" y="180.50" width="2.04" height="2.55" fill="rgb(154,21,18)"/>
<rect x="83.94" y="180.50" width="2.04" height="2.55" fill="rgb(148,16,39)"/>
<rect x="85.93" y="180.50" width="2.04" height="2.55" fill="rgb(121,62,23)"/>
<rect x="87.92" y="180.50" width="2.04" height="2.55" fill="rgb(144,23,23)"/>
<rect x="89.91" y="180.50" width="2.04" height="2.55" fill="rgb(148,25,26)"/>
<rect x="91.90" y="180.50" width="2.04" height="2.55" fill="rgb(132,21,27)"/>
<rect x="93.89" y="180.50" width="2.04" height="2.55" fill="rgb(133,44,25)"/>
<rect x="95.88" y="180.50" width="2.04" height="2.55" fill="rgb(137,33,40)"/>
<rect x="97.87" y="180.50" width="2.04" height="2.55" fill="rgb(140,43,24)"/>
<rect x="99.86" y="180.50" width="2.04" height="2.55" fill="rgb(154,20,34)"/>
<rect x="101.84" y="180.50" width="2.04" height="2.55" fill="rgb(151,36,41)"/>
<rect x="103.83" y="180.50" width="2.04" height="2.55" fill="rgb(118,44,33)"/>
<rect x="105.82" y="180.50" width="2.04" height="2.55" fill="rgb(148,18,21)"/>
<rect x="107.81" y="180.50" width="2.04" height="2.55" fill="rgb(146,25,24)"/>
<rect x="109.80" y="180.50" width="2.04" height="2.55" fill="rgb(143,38,26)"/>
<rect x="111.79" y="180.50" width="2.04" height="2.55" fill="rgb(111,39,29)"/>
<rect x="113.78" y="180.50" width="2.04" height="2.55" fill="rgb(141,35,26)"/>
<rect x="115.77" y="180.50" width="2.04" height="2.55" fill="rgb(124,32,23)"/>
<rect x="117.76" y="180.50" width="2.04" height="2.55" fill="rgb(114,38,32)"/>
<rect x="119.74" y="180.50" width="2.04" height="2.55" fill="rgb(112,41,17)"/>
<rect x="121.73" y="180.50" width="2.04" height="2.55" fill="rgb(161,31,34)"/>
<rect x="123.72" y="180.50" width="2.04" height="2.55" fill="rgb(149,19,23)"/>
<rect x="125.71" y="180.50" width="2.04" height="2.55" fill="rgb(136,29,35)"/>
<rect x="127.70" y="180.50" width="2.04" height="2.55" fill="rgb(128,37,16)"/>
<rect x="129.69" y="180.50" width="2.04" height="2.55" fill="rgb(129,36,18)"/>
<rect x="131.68" y="180.50" width="2.04" height="2.55" fill="rgb(139,29,27)"/>
<rect x="133.67" y="180.50" width="2.04" height="2.55" fill="rgb(116,42,35)"/>
<rect x="135.66" y="180.50" width="2.04" height="2.55" fill="rgb(117,38,28)"/>
<rect x="137.64" y="180.50" width="2.04" height="2.55" fill="rgb(110,41,23)"/>
<rect x="139.63" y="180.50" width="2.04" height="2.55" fill="rgb(96,34,22)"/>
<rect x="141.62" y="180.50" width="2.04" height="2.55" fill="rgb(126,42,33)"/>
<rect x="143.61" y="180.50" width="2.04" height="2.55" fill="rgb(140,18,23)"/>
<rect x="145.60" y="180.50" width="2.04" height="2.55" fill="rgb(116,36,29)"/>
<rect x="147.59" y="180.50" width="2.04" height="2.55" fill="rgb(74,50,25)"/>
<rect x="149.58" y="180.50" width="2.04" height="2.55" fill="rgb(114,47,22)"/>
<rect x="151.57" y="180.50" width="2.04" height="2.55" fill="rgb(100,38,26)"/>
<rect x="153.56" y="180.50" width="2.04" height="2.55" fill="rgb(101,42,32)"/>
<rect x="155.54" y="180.50" width="2.04" height="2.55" fill="rgb(103,52,31)"/>
<rect x="157.53" y="180.50" width="2.04" height="2.55" fill="rgb(68,50,29)"/>
<rect x="159.52" y="180.50" width="2.04" height="2.55" fill="rgb(53,52,17)"/>
<rect x="161.51" y="180.50" width="2.04" height="2.55" fill="rgb(86,53,24)"/>
<rect x="163.50" y="180.50" width="2.04" height="2.55" fill="rgb(76,75,13)"/>
<rect x="165.49" y="180.50" width="2.04" height="2.55" fill="rgb(96,42,22)"/>
<rect x="167.48" y="180.50" width="2.04" height="2.55" fill="rgb(70,43,28)"/>
<rect x="169.47" y="180.50" width="2.04" height="2.55" fill="rgb(69,89,25)"/>
<rect x="171.46" y="180.50" width="2.04" height="2.55" fill="rgb(56,88,20)"/>
<rect x="173.44" y="180.50" width="2.04" height="2.55" fill="rgb(61,93,32)"/>
<rect x="175.43" y="180.50" width="2.04" height="2.55" fill="rgb(57,52,33)"/>
<rect x="177.42" y="180.50" width="2.04" height="2.55" fill="rgb(60,64,25)"/>
<rect x="179.41" y="180.50" width="2.04" height="2.55" fill="rgb(57,77,23)"/>
<rect x="181.40" y="180.50" width="2.04" height="2.55" fill="rgb(63,82,29)"/>
<rect x="183.39" y="180.50" width="2.04" height="2.55" fill="rgb(53,59,19)"/>
<rect x="185.38" y="180.50" width="2.04" height="2.55" fill="rgb(60,84,35)"/>
<rect x="187.37" y="180.50" width="2.04" height="2.55" fill="rgb(68,86,25)"/>
<rect x="189.36" y="180.50" width="2.04" height="2.55" fill="rgb(81,45,21)"/>
<rect x="191.34" y="180.50" width="2.04" height="2.55" fill="rgb(48,89,44)"/>
<rect x="193.33" y="180.50" width="2.04" height="2.55" fill="rgb(59,58,17)"/>
<rect x="195.32" y="180.50" width="2.04" height="2.55" fill="rgb(71,51,15)"/>
<rect x="197.31" y="180.50" width="2.04" height="2.55" fill="rgb(62,73,19)"/>
<rect x="199.30" y="180.50" width="2.04" height="2.55" fill="rgb(56,84,34)"/>
<rect x="201.29" y="180.50" width="2.04" height="2.55" fill="rgb(71,84,29)"/>
<rect x="203.28" y="180.50" width="2.04" height="2.55" fill="rgb(56,79,35)"/>
<rect x="205.27" y="180.50" width="2.04" height="2.55" fill="rgb(72,102,36)"/>
<rect x="207.26" y="180.50" width="2.04" height="2.55" fill="rgb(54,93,46)"/>
<rect x="209.24" y="180.50" width="2.04" height="2.55" fill="rgb(47,133,64)"/>
<rect x="211.23" y="180.50" width="2.04" height="2.55" fill="rgb(74,104,45)"/>
<rect x="213.22" y="180.50" width="2.04" height="2.55" fill="rgb(60,76,31)"/>
<rect x="215.21" y="180.50" width="2.04" height="2.55" fill="rgb(58,125,46)"/>
<rect x="217.20" y="180.50" width="2.04" height="2.55" fill="rgb(58,99,49)"/>
<rect x="219.19" y="180.50" width="2.04" height="2.55" fill="rgb(49,142,43)"/>
<rect x="221.18" y="180.50" width="2.04" height="2.55" fill="rgb(61,107,33)"/>
<rect x="223.17" y="180.50" width="2.04" height="2.55" fill="rgb(55,146,40)"/>
<rect x="225.16" y="180.50" width="2.04" height="2.55" fill="rgb(48,116,34)"/>
<rect x="227.14" y="180.50" width="2.04" height="2.55" fill="rgb(74,125,45)"/>
<rect x="229.13" y="180.50" width="2.04" height="2.55" fill="rgb(65,103,45)"/>
<rect x="231.12" y="180.50" width="2.04" height="2.55" fill="rgb(70,121,54)"/>
<rect x="233.11" y="180.50" width="2.04" height="2.55" fill="rgb(58,131,56)"/>
<rect x="235.10" y="180.50" width="2.04" height="2.55" fill="rgb(33,145,55)"/>
<rect x="237.09" y="180.50" width="2.04" height="2.55" fill="rgb(37,132,52)"/>
<rect x="239.08" y="180.50" width="2.04" height="2.55" fill="rgb(66,129,45)"/>
<rect x="241.07" y="180.50" width="2.04" height="2.55" fill="rgb(50,136,61)"/>
<rect x="243.06" y="180.50" width="2.04" height="2.55" fill="rgb(54,150,71)"/>
<rect x="245.04" y="180.50" width="2.04" height="2.55" fill="rgb(49,143,44)"/>
<rect x="247.03" y="180.50" width="2.04" height="2.55" fill="rgb(53,137,50)"/>
<rect x="249.02" y="180.50" width="2.04" height="2.55" fill="rgb(28,142,57)"/>
<rect x="251.01" y="180.50" width="2.04" height="2.55" fill="rgb(42,132,59)"/>
<rect x="74.00" y="183.00" width="2.04" height="2.55" fill="rgb(111,35,30)"/>
<rect x="75.99" y="183.00" width="2.04" height="2.55" fill="rgb(120,35,17)"/>
<rect x="77.98" y="183.00" width="2.04" height="2.55" fill="rgb(104,37,28)"/>
<rect x="79.97" y="183.00" width="2.04" height="2.55" fill="rgb(96,45,37)"/>
<rect x="81.96" y="183.00" width="2.04" height="2.55" fill="rgb(119,22,19)"/>
<rect x="83.94" y="183.00" width="2.04" height="2.55" fill="rgb(125,28,46)"/>
<rect x="85.93" y="183.00" width="2.04" height="2.55" fill="rgb(110,42,23)"/>
<rect x="87.92" y="183.00" width="2.04" height="2.55" fill="rgb(136,34,33)"/>
<rect x="89.91" y="183.00" width="2.04" height="2.55" fill="rgb(112,35,23)"/>
<rect x="91.90" y="183.00" width="2.04" height="2.55" fill="rgb(129,31,25)"/>
<rect x="93.89" y="183.00" width="2.04" height="2.55" fill="rgb(147,23,10)"/>
<rect x="95.88" y="183.00" width="2.04" height="2.55" fill="rgb(106,23,29)"/>
<rect x="97.87" y="183.00" width="2.04" height="2.55" fill="rgb(146,25,29)"/>
<rect x="99.86" y="183.00" width="2.04" height="2.55" fill="rgb(133,31,23)"/>
<rect x="101.84" y="183.00" width="2.04" height="2.55" fill="rgb(104,28,23)"/>
<rect x="103.83" y="183.00" width="2.04" height="2.55" fill="rgb(95,31,23)"/>
<rect x="105.82" y="183.00" width="2.04" height="2.55" fill="rgb(132,27,30)"/>
<rect x="107.81" y="183.00" width="2.04" height="2.55" fill="rgb(136,36,28)"/>
<rect x="109.80" y="183.00" width="2.04" height="2.55" fill="rgb(110,38,25)"/>
<rect x="111.79" y="183.00" width="2.04" height="2.55" fill="rgb(114,51,29)"/>
<rect x="113.78" y="183.00" width="2.04" height="2.55" fill="rgb(111,38,26)"/>
<rect x="115.77" y="183.00" width="2.04" height="2.55" fill="rgb(121,41,28)"/>
<rect x="117.76" y="183.00" width="2.04" height="2.55" fill="rgb(96,38,25)"/>
<rect x="119.74" y="183.00" width="2.04" height="2.55" fill="rgb(126,33,20)"/>
<rect x="121.73" y="183.00" width="2.04" height="2.55" fill="rgb(88,34,18)"/>
<rect x="123.72" y="183.00" width="2.04" height="2.55" fill="rgb(106,32,13)"/>
<rect x="125.71" y="183.00" width="2.04" height="2.55" fill="rgb(124,9,20)"/>
<rect x="127.70" y="183.00" width="2.04" height="2.55" fill="rgb(119,28,26)"/>
<rect x="129.69" y="183.00" width="2.04" height="2.55" fill="rgb(94,36,28)"/>
<rect x="131.68" y="183.00" width="2.04" height="2.55" fill="rgb(111,38,26)"/>
<rect x="133.67" y="183.00" width="2.04" height="2.55" fill="rgb(128,30,34)"/>
<rect x="135.66" y="183.00" width="2.04" height="2.55" fill="rgb(109,38,9)"/>
<rect x="137.64" y="183.00" width="2.04" height="2.55" fill="rgb(112,32,33)"/>
<rect x="139.63" y="183.00" width="2.04" height="2.55" fill="rgb(96,37,16)"/>
<rect x="141.62" y="183.00" width="2.04" height="2.55" fill="rgb(106,60,35)"/>
<rect x="143.61" y="183.00" width="2.04" height="2.55" fill="rgb(115,41,27)"/>
<rect x="145.60" y="183.00" width="2.04" height="2.55" fill="rgb(84,55,25)"/>
<rect x="147.59" y="183.00" width="2.04" height="2.55" fill="rgb(112,38,29)"/>
<rect x="149.58" y="183.00" width="2.04" height="2.55" fill="rgb(79,61,23)"/>
<rect x="151.57" y="183.00" width="2.04" height="2.55" fill="rgb(122,47,22)"/>
<rect x="153.56" y="183.00" width="2.04" height="2.55" fill="rgb(76,48,6)"/>
<rect x="155.54" y="183.00" width="2.04" height="2.55" fill="rgb(95,43,19)"/>
<rect x="157.53" y="183.00" width="2.04" height="2.55" fill="rgb(60,89,21)"/>
<rect x="159.52" y="183.00" width="2.04" height="2.55" fill="rgb(93,58,7)"/>
<rect x="161.51" y="183.00" width="2.04" height="2.55" fill="rgb(84,63,36)"/>
<rect x="163.50" y="183.00" width="2.04" height="2.55" fill="rgb(84,57,25)"/>
<rect x="165.49" y="183.00" width="2.04" height="2.55" fill="rgb(54,68,18)"/>
<rect x="167.48" y="183.00" width="2.04" height="2.55" fill="rgb(59,96,49)"/>
<rect x="169.47" y="183.00" width="2.04" height="2.55" fill="rgb(58,58,20)"/>
<rect x="171.46" y="183.00" width="2.04" height="2.55" fill="rgb(90,61,41)"/>
<rect x="173.44" y="183.00" width="2.04" height="2.55" fill="rgb(82,57,27)"/>
<rect x="175.43" y="183.00" width="2.04" height="2.55" fill="rgb(94,47,23)"/>
<rect x="177.42" y="183.00" width="2.04" height="2.55" fill="rgb(73,78,36)"/>
<rect x="179.41" y="183.00" width="2.04" height="2.55" fill="rgb(93,46,30)"/>
<rect x="181.40" y="183.00" width="2.04" height="2.55" fill="rgb(73,73,21)"/>
<rect x="183.39" y="183.00" width="2.04" height="2.55" fill="rgb(65,53,13)"/>
<rect x="185.38" y="183.00" width="2.04" height="2.55" fill="rgb(46,78,45)"/>
<rect x="187.37" y="183.00" width="2.04" height="2.55" fill="rgb(55,80,47)"/>
<rect x="189.36" y="183.00" width="2.04" height="2.55" fill="rgb(59,94,37)"/>
<rect x="191.34" y="183.00" width="2.04" height="2.55" fill="rgb(46,77,40)"/>
<rect x="193.33" y="183.00" width="2.04" height="2.55" fill="rgb(63,94,43)"/>
<rect x="195.32" y="183.00" width="2.04" height="2.55" fill="rgb(54,109,37)"/>
<rect x="197.31" y="183.00" width="2.04" height="2.55" fill="rgb(43,116,50)"/>
<rect x="199.30" y="183.00" width="2.04" height="2.55" fill="rgb(58,67,22)"/>
<rect x="201.29" y="183.00" width="2.04" height="2.55" fill="rgb(70,80,33)"/>
<rect x="203.28" y="183.00" width="2.04" height="2.55" fill="rgb(47,106,36)"/>
<rect x="205.27" y="183.00" width="2.04" height="2.55" fill="rgb(51,117,40)"/>
<rect x="207.26" y="183.00" width="2.04" height="2.55" fill="rgb(66,39,18)"/>
<rect x="209.24" y="183.00" width="2.04" height="2.55" fill="rgb(70,87,27)"/>
<rect x="211.23" y="183.00" width="2.04" height="2.55" fill="rgb(54,104,50)"/>
<rect x="213.22" y="183.00" width="2.04" height="2.55" fill="rgb(61,109,49)"/>
<rect x="215.21" y="183.00" width="2.04" height="2.55" fill="rgb(59,102,36)"/>
<rect x="217.20" y="183.00" width="2.04" height="2.55" fill="rgb(68,94,38)"/>
<rect x="219.19" y="183.00" width="2.04" height="2.55" fill="rgb(48,104,62)"/>
<rect x="221.18" y="183.00" width="2.04" height="2.55" fill="rgb(36,110,42)"/>
<rect x="223.17" y="183.00" width="2.04" height="2.55" fill="rgb(43,108,43)"/>
<rect x="225.16" y="183.00" width="2.04" height="2.55" fill="rgb(57,116,48)"/>
<rect x="227.14" y="183.00" width="2.04" height="2.55" fill="rgb(66,80,26)"/>
<rect x="229.13" y="183.00" width="2.04" height="2.55" fill="rgb(60,109,35)"/>
<rect x="231.12" y="183.00" width="2.04" height="2.55" fill="rgb(57,138,43)"/>
<rect x="233.11" y="183.00" width="2.04" height="2.55" fill="rgb(49,114,42)"/>
<rect x="235.10" y="183.00" width="2.04" height="2.55" fill="rgb(50,129,43)"/>
<rect x="237.09" y="183.00" width="2.04" height="2.55" fill="rgb(61,126,61)"/>
<rect x="239.08" y="183.00" width="2.04" height="2.55" fill="rgb(54,116,48)"/>
<rect x="241.07" y="183.00" width="2.04" height="2.55" fill="rgb(40,111,53)"/>
<rect x="243.06" y="183.00" width="2.04" height="2.55" fill="rgb(61,122,53)"/>
<rect x="245.04" y="183.00" width="2.04" height="2.55" fill="rgb(35,106,33)"/>
<rect x="247.03" y="183.00" width="2.04" height="2.55" fill="rgb(48,102,31)"/>
<rect x="249.02" y="183.00" width="2.04" height="2.55" fill="rgb(48,113,49)"/>
<rect x="251.01" y="183.00" width="2.04" height="2.55" fill="rgb(55,150,60)"/>
<rect x="74.00" y="185.50" width="2.04" height="2.55" fill="rgb(107,46,38)"/>
<rect x="75.99" y="185.50" width="2.04" height="2.55" fill="rgb(98,62,31)"/>
<rect x="77.98" y="185.50" width="2.04" height="2.55" fill="rgb(102,63,29)"/>
<rect x="79.97" y="185.50" width="2.04" height="2.55" fill="rgb(99,75,26)"/>
<rect x="81.96" y="185.50" width="2.04" height="2.55" fill="rgb(101,65,34)"/>
<rect x="83.94" y="185.50" width="2.04" height="2.55" fill="rgb(79,61,25)"/>
<rect x="85.93" y="185.50" width="2.04" height="2.55" fill="rgb(115,39,27)"/>
<rect x="87.92" y="185.50" width="2.04" height="2.55" fill="rgb(98,42,27)"/>
<rect x="89.91" y="185.50" width="2.04" height="2.55" fill="rgb(87,53,32)"/>
<rect x="91.90" y="185.50" width="2.04" height="2.55" fill="rgb(99,55,26)"/>
<rect x="93.89" y="185.50" width="2.04" height="2.55" fill="rgb(85,70,22)"/>
<rect x="95.88" y="185.50" width="2.04" height="2.55" fill="rgb(113,36,35)"/>
<rect x="97.87" y="185.50" width="2.04" height="2.55" fill="rgb(94,78,30)"/>
<rect x="99.86" y="185.50" width="2.04" height="2.55" fill="rgb(96,54,25)"/>
<rect x="101.84" y="185.50" width="2.04" height="2.55" fill="rgb(115,40,23)"/>
<rect x="103.83" y="185.50" width="2.04" height="2.55" fill="rgb(87,65,23)"/>
<rect x="105.82" y="185.50" width="2.04" height="2.55" fill="rgb(109,53,31)"/>
<rect x="107.81" y="185.50" width="2.04" height="2.55" fill="rgb(76,77,46)"/>
<rect x="109.80" y="185.50" width="2.04" height="2.55" fill="rgb(104,58,38)"/>
<rect x="111.79" y="185.50" width="2.04" height="2.55" fill="rgb(110,47,24)"/>
<rect x="113.78" y="185.50" width="2.04" height="2.55" fill="rgb(96,54,28)"/>
<rect x="115.77" y="185.50" width="2.04" height="2.55" fill="rgb(80,61,29)"/>
<rect x="117.76" y="185.50" width="2.04" height="2.55" fill="rgb(94,74,34)"/>
<rect x="119.74" y="185.50" width="2.04" height="2.55" fill="rgb(100,51,24)"/>
<rect x="121.73" y="185.50" width="2.04" height="2.55" fill="rgb(121,42,34)"/>
<rect x="123.72" y="185.50" width="2.04" height="2.55" fill="rgb(98,57,17)"/>
<rect x="125.71" y="185.50" width="2.04" height="2.55" fill="rgb(90,55,20)"/>
<rect x="127.70" y="185.50" width="2.04" height="2.55" fill="rgb(94,59,41)"/>
<rect x="129.69" y="185.50" width="2.04" height="2.55" fill="rgb(102,51,11)"/>
<rect x="131.68" y="185.50" width="2.04" height="2.55" fill="rgb(87,63,24)"/>
<rect x="133.67" y="185.50" width="2.04" height="2.55" fill="rgb(96,75,33)"/>
<rect x="135.66" y="185.50" width="2.04" height="2.55" fill="rgb(120,46,28)"/>
<rect x="137.64" y="185.50" width="2.04" height="2.55" fill="rgb(71,67,37)"/>
<rect x="139.63" y="185.50" width="2.04" height="2.55" fill="rgb(111,68,36)"/>
<rect x="141.62" y="185.50" width="2.04" height="2.55" fill="rgb(90,60,35)"/>
<rect x="143.61" y="185.50" width="2.04" height="2.55" fill="rgb(131,49,22)"/>
<rect x="145.60" y="185.50" width="2.04" height="2.55" fill="rgb(102,56,19)"/>
<rect x="147.59" y="185.50" width="2.04" height="2.55" fill="rgb(103,66,35)"/>
<rect x="149.58" y="185.50" width="2.04" height="2.55" fill="rgb(85,74,29)"/>
<rect x="151.57" y="185.50" width="2.04" height="2.55" fill="rgb(112,42,27)"/>
<rect x="153.56" y="185.50" width="2.04" height="2.55" fill="rgb(111,51,20)"/>
<rect x="155.54" y="185.50" width="2.04" height="2.55" fill="rgb(97,69,32)"/>
<rect x="157.53" y="185.50" width="2.04" height="2.55" fill="rgb(97,55,30)"/>
<rect x="159.52" y="185.50" width="2.04" height="2.55" fill="rgb(77,48,17)"/>
<rect x="161.51" y="185.50" width="2.04" height="2.55" fill="rgb(84,68,27)"/>
<rect x="163.50" y="185.50" width="2.04" height="2.55" fill="rgb(71,58,17)"/>
<rect x="165.49" y="185.50" width="2.04" height="2.55" fill="rgb(86,53,31)"/>
<rect x="167.48" y="185.50" width="2.04" height="2.55" fill="rgb(83,64,38)"/>
<rect x="169.47" y="185.50" width="2.04" height="2.55" fill="rgb(78,65,27)"/>
<rect x="171.46" y="185.50" width="2.04" height="2.55" fill="rgb(102,64,23)"/>
<rect x="173.44" y="185.50" width="2.04" height="2.55" fill="rgb(84,64,32)"/>
<rect x="175.43" y="185.50" width="2.04" height="2.55" fill="rgb(92,91,24)"/>
<rect x="177.42" y="185.50" width="2.04" height="2.55" fill="rgb(104,63,39)"/>
<rect x="179.41" y="185.50" width="2.04" height="2.55" fill="rgb(79,75,13)"/>
<rect x="181.40" y="185.50" width="2.04" height="2.55" fill="rgb(102,40,19)"/>
<rect x="183.39" y="185.50" width="2.04" height="2.55" fill="rgb(77,79,27)"/>
<rect x="185.38" y="185.50" width="2.04" height="2.55" fill="rgb(100,54,38)"/>
<rect x="187.37" y="185.50" width="2.04" height="2.55" fill="rgb(96,70,33)"/>
<rect x="189.36" y="185.50" width="2.04" height="2.55" fill="rgb(67,77,27)"/>
<rect x="191.34" y="185.50" width="2.04" height="2.55" fill="rgb(76,88,24)"/>
<rect x="193.33" y="185.50" width="2.04" height="2.55" fill="rgb(98,53,19)"/>
<rect x="195.32" y="185.50" width="2.04" height="2.55" fill="rgb(80,96,25)"/>
<rect x="197.31" y="185.50" width="2.04" height="2.55" fill="rgb(99,58,29)"/>
<rect x="199.30" y="185.50" width="2.04" height="2.55" fill="rgb(69,77,36)"/>
<rect x="201.29" y="185.50" width="2.04" height="2.55" fill="rgb(87,84,41)"/>
<rect x="203.28" y="185.50" width="2.04" height="2.55" fill="rgb(75,53,14)"/>
<rect x="205.27" y="185.50" width="2.04" height="2.55" fill="rgb(113,66,31)"/>
<rect x="207.26" y="185.50" width="2.04" height="2.55" fill="rgb(93,66,42)"/>
<rect x="209.24" y="185.50" width="2.04" height="2.55" fill="rgb(60,98,45)"/>
<rect x="211.23" y="185.50" width="2.04" height="2.55" fill="rgb(86,78,27)"/>
<rect x="213.22" y="185.50" width="2.04" height="2.55" fill="rgb(90,84,16)"/>
<rect x="215.21" y="185.50" width="2.04" height="2.55" fill="rgb(91,68,31)"/>
<rect x="217.20" y="185.50" width="2.04" height="2.55" fill="rgb(70,67,32)"/>
<rect x="219.19" y="185.50" width="2.04" height="2.55" fill="rgb(93,70,42)"/>
<rect x="221.18" y="185.50" width="2.04" height="2.55" fill="rgb(83,82,25)"/>
<rect x="223.17" y="185.50" width="2.04" height="2.55" fill="rgb(84,64,46)"/>
<rect x="225.16" y="185.50" width="2.04" height="2.55" fill="rgb(100,51,17)"/>
<rect x="227.14" y="185.50" width="2.04" height="2.55" fill="rgb(86,68,27)"/>
<rect x="229.13" y="185.50" width="2.04" height="2.55" fill="rgb(99,72,37)"/>
<rect x="231.12" y="185.50" width="2.04" height="2.55" fill="rgb(87,49,32)"/>
<rect x="233.11" y="185.50" width="2.04" height="2.55" fill="rgb(76,72,24)"/>
<rect x="235.10" y="185.50" width="2.04" height="2.55" fill="rgb(90,84,23)"/>
<rect x="237.09" y="185.50" width="2.04" height="2.55" fill="rgb(87,91,41)"/>
<rect x="239.08" y="185.50" width="2.04" height="2.55" fill="rgb(66,58,17)"/>
<rect x="241.07" y="185.50" width="2.04" height="2.55" fill="rgb(94,62,27)"/>
<rect x="243.06" y="185.50" width="2.04" height="2.55" fill="rgb(81,80,40)"/>
<rect x="245.04" y="185.50" width="2.04" height="2.55" fill="rgb(107,56,31)"/>
<rect x="247.03" y="185.50" width="2.04" height="2.55" fill="rgb(84,80,34)"/>
<rect x="249.02" y="185.50" width="2.04" height="2.55" fill="rgb(89,86,40)"/>
<rect x="251.01" y="185.50" width="2.04" height="2.55" fill="rgb(96,38,14)"/>
<rect x="74.00" y="188.00" width="2.04" height="2.55" fill="rgb(100,37,15)"/>
<rect x="75.99" y="188.00" width="2.04" height="2.55" fill="rgb(86,34,35)"/>
<rect x="77.98" y="188.00" width="2.04" height="2.55" fill="rgb(83,41,23)"/>
<rect x="79.97" y="188.00" width="2.04" height="2.55" fill="rgb(91,36,38)"/>
<rect x="81.96" y="188.00" width="2.04" height="2.55" fill="rgb(111,49,26)"/>
<rect x="83.94" y="188.00" width="2.04" height="2.55" fill="rgb(75,49,23)"/>
<rect x="85.93" y="188.00" width="2.04" height="2.55" fill="rgb(60,37,20)"/>
<rect x="87.92" y="188.00" width="2.04" height="2.55" fill="rgb(88,50,31)"/>
<rect x="89.91" y="188.00" width="2.04" height="2.55" fill="rgb(107,48,15)"/>
<rect x="91.90" y="188.00" width="2.04" height="2.55" fill="rgb(78,42,27)"/>
<rect x="93.89" y="188.00" width="2.04" height="2.55" fill="rgb(103,39,22)"/>
<rect x="95.88" y="188.00" width="2.04" height="2.55" fill="rgb(80,41,33)"/>
<rect x="97.87" y="188.00" width="2.04" height="2.55" fill="rgb(109,42,23)"/>
<rect x="99.86" y="188.00" width="2.04" height="2.55" fill="rgb(82,55,12)"/>
<rect x="101.84" y="188.00" width="2.04" height="2.55" fill="rgb(80,52,17)"/>
<rect x="103.83" y="188.00" width="2.04" height="2.55" fill="rgb(80,38,14)"/>
<rect x="105.82" y="188.00" width="2.04" height="2.55" fill="rgb(101,49,17)"/>
<rect x="107.81" y="188.00" width="2.04" height="2.55" fill="rgb(63,64,23)"/>
<rect x="109.80" y="188.00" width="2.04" height="2.55" fill="rgb(114,35,27)"/>
<rect x="111.79" y="188.00" width="2.04" height="2.55" fill="rgb(116,32,23)"/>
<rect x="113.78" y="188.00" width="2.04" height="2.55" fill="rgb(134,38,24)"/>
<rect x="115.77" y="188.00" width="2.04" height="2.55" fill="rgb(92,45,34)"/>
<rect x="117.76" y="188.00" width="2.04" height="2.55" fill="rgb(117,41,40)"/>
<rect x="119.74" y="188.00" width="2.04" height="2.55" fill="rgb(110,44,28)"/>
<rect x="121.73" y="188.00" width="2.04" height="2.55" fill="rgb(68,40,11)"/>
<rect x="123.72" y="188.00" width="2.04" height="2.55" fill="rgb(112,57,24)"/>
<rect x="125.71" y="188.00" width="2.04" height="2.55" fill="rgb(114,36,22)"/>
<rect x="127.70" y="188.00" width="2.04" height="2.55" fill="rgb(98,34,15)"/>
<rect x="129.69" y="188.00" width="2.04" height="2.55" fill="rgb(89,50,28)"/>
<rect x="131.68" y="188.00" width="2.04" height="2.55" fill="rgb(118,32,35)"/>
<rect x="133.67" y="188.00" width="2.04" height="2.55" fill="rgb(93,42,37)"/>
<rect x="135.66" y="188.00" width="2.04" height="2.55" fill="rgb(96,54,16)"/>
<rect x="137.64" y="188.00" width="2.04" height="2.55" fill="rgb(119,43,23)"/>
<rect x="139.63" y="188.00" width="2.04" height="2.55" fill="rgb(75,56,29)"/>
<rect x="141.62" y="188.00" width="2.04" height="2.55" fill="rgb(109,41,16)"/>
<rect x="143.61" y="188.00" width="2.04" height="2.55" fill="rgb(112,40,29)"/>
<rect x="145.60" y="188.00" width="2.04" height="2.55" fill="rgb(89,51,38)"/>
<rect x="147.59" y="188.00" width="2.04" height="2.55" fill="rgb(66,49,21)"/>
<rect x="149.58" y="188.00" width="2.04" height="2.55" fill="rgb(67,57,36)"/>
<rect x="151.57" y="188.00" width="2.04" height="2.55" fill="rgb(69,50,21)"/>
<rect x="153.56" y="188.00" width="2.04" height="2.55" fill="rgb(80,31,21)"/>
<rect x="155.54" y="188.00" width="2.04" height="2.55" fill="rgb(94,48,23)"/>
<rect x="157.53" y="188.00" width="2.04" height="2.55" fill="rgb(87,39,28)"/>
<rect x="159.52" y="188.00" width="2.04" height="2.55" fill="rgb(77,48,14)"/>
<rect x="161.51" y="188.00" width="2.04" height="2.55" fill="rgb(68,74,33)"/>
<rect x="163.50" y="188.00" width="2.04" height="2.55" fill="rgb(82,61,27)"/>
<rect x="165.49" y="188.00" width="2.04" height="2.55" fill="rgb(61,61,25)"/>
<rect x="167.48" y="188.00" width="2.04" height="2.55" fill="rgb(75,42,23)"/>
<rect x="169.47" y="188.00" width="2.04" height="2.55" fill="rgb(61,66,19)"/>
<rect x="171.46" y="188.00" width="2.04" height="2.55" fill="rgb(88,69,27)"/>
<rect x="173.44" y="188.00" width="2.04" height="2.55" fill="rgb(97,70,31)"/>
<rect x="175.43" y="188.00" width="2.04" height="2.55" fill="rgb(46,84,32)"/>
<rect x="177.42" y="188.00" width="2.04" height="2.55" fill="rgb(102,40,25)"/>
<rect x="179.41" y="188.00" width="2.04" height="2.55" fill="rgb(120,49,21)"/>
<rect x="181.40" y="188.00" width="2.04" height="2.55" fill="rgb(80,47,21)"/>
<rect x="183.39" y="188.00" width="2.04" height="2.55" fill="rgb(77,71,39)"/>
<rect x="185.38" y="188.00" width="2.04" height="2.55" fill="rgb(95,61,36)"/>
<rect x="187.37" y="188.00" width="2.04" height="2.55" fill="rgb(78,72,29)"/>
<rect x="189.36" y="188.00" width="2.04" height="2.55" fill="rgb(52,73,34)"/>
<rect x="191.34" y="188.00" width="2.04" height="2.55" fill="rgb(62,47,19)"/>
<rect x="193.33" y="188.00" width="2.04" height="2.55" fill="rgb(73,43,18)"/>
<rect x="195.32" y="188.00" width="2.04" height="2.55" fill="rgb(62,48,22)"/>
<rect x="197.31" y="188.00" width="2.04" height="2.55" fill="rgb(83,48,20)"/>
<rect x="199.30" y="188.00" width="2.04" height="2.55" fill="rgb(59,90,41)"/>
<rect x="201.29" y="188.00" width="2.04" height="2.55" fill="rgb(49,43,22)"/>
<rect x="203.28" y="188.00" width="2.04" height="2.55" fill="rgb(72,59,16)"/>
<rect x="205.27" y="188.00" width="2.04" height="2.55" fill="rgb(54,85,22)"/>
<rect x="207.26" y="188.00" width="2.04" height="2.55" fill="rgb(46,105,30)"/>
<rect x="209.24" y="188.00" width="2.04" height="2.55" fill="rgb(60,48,11)"/>
<rect x="211.23" y="188.00" width="2.04" height="2.55" fill="rgb(98,44,27)"/>
<rect x="213.22" y="188.00" width="2.04" height="2.55" fill="rgb(70,69,32)"/>
<rect x="215.21" y="188.00" width="2.04" height="2.55" fill="rgb(80,68,19)"/>
<rect x="217.20" y="188.00" width="2.04" height="2.55" fill="rgb(82,35,21)"/>
<rect x="219.19" y="188.00" width="2.04" height="2.55" fill="rgb(82,64,13)"/>
<rect x="221.18" y="188.00" width="2.04" height="2.55" fill="rgb(77,67,35)"/>
<rect x="223.17" y="188.00" width="2.04" height="2.55" fill="rgb(81,84,44)"/>
<rect x="225.16" y="188.00" width="2.04" height="2.55" fill="rgb(74,81,23)"/>
<rect x="227.14" y="188.00" width="2.04" height="2.55" fill="rgb(54,54,35)"/>
<rect x="229.13" y="188.00" width="2.04" height="2.55" fill="rgb(59,84,28)"/>
<rect x="231.12" y="188.00" width="2.04" height="2.55" fill="rgb(97,43,4)"/>
<rect x="233.11" y="188.00" width="2.04" height="2.55" fill="rgb(71,51,24)"/>
<rect x="235.10" y="188.00" width="2.04" height="2.55" fill="rgb(64,109,40)"/>
<rect x="237.09" y="188.00" width="2.04" height="2.55" fill="rgb(82,63,18)"/>
<rect x="239.08" y="188.00" width="2.04" height="2.55" fill="rgb(49,80,34)"/>
<rect x="241.07" y="188.00" width="2.04" height="2.55" fill="rgb(64,68,32)"/>
<rect x="243.06" y="188.00" width="2.04" height="2.55" fill="rgb(78,58,36)"/>
<rect x="245.04" y="188.00" width="2.04" height="2.55" fill="rgb(67,73,24)"/>
<rect x="247.03" y="188.00" width="2.04" height="2.55" fill="rgb(58,94,32)"/>
<rect x="249.02" y="188.00" width="2.04" height="2.55" fill="rgb(67,62,34)"/>
<rect x="251.01" y="188.00" width="2.04" height="2.55" fill="rgb(51,102,38)"/>
<rect x="74.00" y="190.50" width="2.04" height="2.55" fill="rgb(95,29,21)"/>
<rect x="75.99" y="190.50" width="2.04" height="2.55" fill="rgb(89,52,22)"/>
<rect x="77.98" y="190.50" width="2.04" height="2.55" fill="rgb(76,43,33)"/>
<rect x="79.97" y="190.50" width="2.04" height="2.55" fill="rgb(117,42,35)"/>
<rect x="81.96" y="190.50" width="2.04" height="2.55" fill="rgb(114,50,24)"/>
<rect x="83.94" y="190.50" width="2.04" height="2.55" fill="rgb(105,40,30)"/>
<rect x="85.93" y="190.50" width="2.04" height="2.55" fill="rgb(93,42,17)"/>
<rect x="87.92" y="190.50" width="2.04" height="2.55" fill="rgb(94,36,21)"/>
<rect x="89.91" y="190.50" width="2.04" height="2.55" fill="rgb(71,42,16)"/>
<rect x="91.90" y="190.50" width="2.04" height="2.55" fill="rgb(93,37,23)"/>
<rect x="93.89" y="190.50" width="2.04" height="2.55" fill="rgb(85,52,24)"/>
<rect x="95.88" y="190.50" width="2.04" height="2.55" fill="rgb(100,45,19)"/>
<rect x="97.87" y="190.50" width="2.04" height="2.55" fill="rgb(103,31,37)"/>
<rect x="99.86" y="190.50" width="2.04" height="2.55" fill="rgb(66,63,19)"/>
<rect x="101.84" y="190.50" width="2.04" height="2.55" fill="rgb(99,41,29)"/>
<rect x="103.83" y="190.50" width="2.04" height="2.55" fill="rgb(99,44,23)"/>
<rect x="105.82" y="190.50" width="2.04" height="2.55" fill="rgb(84,57,20)"/>
<rect x="107.81" y="190.50" width="2.04" height="2.55" fill="rgb(102,46,26)"/>
<rect x="109.80" y="190.50" width="2.04" height="2.55" fill="rgb(84,42,19)"/>
<rect x="111.79" y="190.50" width="2.04" height="2.55" fill="rgb(82,40,15)"/>
<rect x="113.78" y="190.50" width="2.04" height="2.55" fill="rgb(124,40,31)"/>
<rect x="115.77" y="190.50" width="2.04" height="2.55" fill="rgb(81,49,32)"/>
<rect x="117.76" y="190.50" width="2.04" height="2.55" fill="rgb(96,41,19)"/>
<rect x="119.74" y="190.50" width="2.04" height="2.55" fill="rgb(108,29,16)"/>
<rect x="121.73" y="190.50" width="2.04" height="2.55" fill="rgb(95,53,23)"/>
<rect x="123.72" y="190.50" width="2.04" height="2.55" fill="rgb(104,8,24)"/>
<rect x="125.71" y="190.50" width="2.04" height="2.55" fill="rgb(84,38,29)"/>
<rect x="127.70" y="190.50" width="2.04" height="2.55" fill="rgb(111,41,30)"/>
<rect x="129.69" y="190.50" width="2.04" height="2.55" fill="rgb(92,53,30)"/>
<rect x="131.68" y="190.50" width="2.04" height="2.55" fill="rgb(118,42,35)"/>
<rect x="133.67" y="190.50" width="2.04" height="2.55" fill="rgb(66,52,32)"/>
<rect x="135.66" y="190.50" width="2.04" height="2.55" fill="rgb(119,27,25)"/>
<rect x="137.64" y="190.50" width="2.04" height="2.55" fill="rgb(91,45,16)"/>
<rect x="139.63" y="190.50" width="2.04" height="2.55" fill="rgb(79,33,7)"/>
<rect x="141.62" y="190.50" width="2.04" height="2.55" fill="rgb(103,36,38)"/>
<rect x="143.61" y="190.50" width="2.04" height="2.55" fill="rgb(97,40,29)"/>
<rect x="145.60" y="190.50" width="2.04" height="2.55" fill="rgb(105,36,32)"/>
<rect x="147.59" y="190.50" width="2.04" height="2.55" fill="rgb(54,60,26)"/>
<rect x="149.58" y="190.50" width="2.04" height="2.55" fill="rgb(68,30,23)"/>
<rect x="151.57" y="190.50" width="2.04" height="2.55" fill="rgb(96,51,23)"/>
<rect x="153.56" y="190.50" width="2.04" height="2.55" fill="rgb(71,51,9)"/>
<rect x="155.54" y="190.50" width="2.04" height="2.55" fill="rgb(89,48,18)"/>
<rect x="157.53" y="190.50" width="2.04" height="2.55" fill="rgb(66,49,14)"/>
<rect x="159.52" y="190.50" width="2.04" height="2.55" fill="rgb(58,75,22)"/>
<rect x="161.51" y="190.50" width="2.04" height="2.55" fill="rgb(88,50,8)"/>
<rect x="163.50" y="190.50" width="2.04" height="2.55" fill="rgb(95,43,18)"/>
<rect x="165.49" y="190.50" width="2.04" height="2.55" fill="rgb(60,57,22)"/>
<rect x="167.48" y="190.50" width="2.04" height="2.55" fill="rgb(89,40,27)"/>
<rect x="169.47" y="190.50" width="2.04" height="2.55" fill="rgb(102,42,17)"/>
<rect x="171.46" y="190.50" width="2.04" height="2.55" fill="rgb(90,38,22)"/>
<rect x="173.44" y="190.50" width="2.04" height="2.55" fill="rgb(52,61,20)"/>
<rect x="175.43" y="190.50" width="2.04" height="2.55" fill="rgb(47,73,13)"/>
<rect x="177.42" y="190.50" width="2.04" height="2.55" fill="rgb(86,58,29)"/>
<rect x="179.41" y="190.50" width="2.04" height="2.55" fill="rgb(60,68,26)"/>
<rect x="181.40" y="190.50" width="2.04" height="2.55" fill="rgb(88,38,23)"/>
<rect x="183.39" y="190.50" width="2.04" height="2.55" fill="rgb(84,57,22)"/>
<rect x="185.38" y="190.50" width="2.04" height="2.55" fill="rgb(79,58,36)"/>
<rect x="187.37" y="190.50" width="2.04" height="2.55" fill="rgb(93,40,31)"/>
<rect x="189.36" y="190.50" width="2.04" height="2.55" fill="rgb(67,62,27)"/>
<rect x="191.34" y="190.50" width="2.04" height="2.55" fill="rgb(73,42,13)"/>
<rect x="193.33" y="190.50" width="2.04" height="2.55" fill="rgb(78,54,20)"/>
<rect x="195.32" y="190.50" width="2.04" height="2.55" fill="rgb(71,60,24)"/>
<rect x="197.31" y="190.50" width="2.04" height="2.55" fill="rgb(58,50,25)"/>
<rect x="199.30" y="190.50" width="2.04" height="2.55" fill="rgb(73,89,44)"/>
<rect x="201.29" y="190.50" width="2.04" height="2.55" fill="rgb(66,45,14)"/>
<rect x="203.28" y="190.50" width="2.04" height="2.55" fill="rgb(69,71,28)"/>
<rect x="205.27" y="190.50" width="2.04" height="2.55" fill="rgb(60,69,13)"/>
<rect x="207.26" y="190.50" width="2.04" height="2.55" fill="rgb(78,67,32)"/>
<rect x="209.24" y="190.50" width="2.04" height="2.55" fill="rgb(43,60,29)"/>
<rect x="211.23" y="190.50" width="2.04" height="2.55" fill="rgb(68,48,24)"/>
<rect x="213.22" y="190.50" width="2.04" height="2.55" fill="rgb(55,29,20)"/>
<rect x="215.21" y="190.50" width="2.04" height="2.55" fill="rgb(68,79,31)"/>
<rect x="217.20" y="190.50" width="2.04" height="2.55" fill="rgb(64,52,34)"/>
<rect x="219.19" y="190.50" width="2.04" height="2.55" fill="rgb(59,77,33)"/>
<rect x="221.18" y="190.50" width="2.04" height="2.55" fill="rgb(59,66,30)"/>
<rect x="223.17" y="190.50" width="2.04" height="2.55" fill="rgb(73,63,28)"/>
<rect x="225.16" y="190.50" width="2.04" height="2.55" fill="rgb(56,70,22)"/>
<rect x="227.14" y="190.50" width="2.04" height="2.55" fill="rgb(59,103,27)"/>
<rect x="229.13" y="190.50" width="2.04" height="2.55" fill="rgb(52,67,25)"/>
<rect x="231.12" y="190.50" width="2.04" height="2.55" fill="rgb(79,68,32)"/>
<rect x="233.11" y="190.50" width="2.04" height="2.55" fill="rgb(69,74,28)"/>
<rect x="235.10" y="190.50" width="2.04" height="2.55" fill="rgb(71,95,42)"/>
<rect x="237.09" y="190.50" width="2.04" height="2.55" fill="rgb(72,46,23)"/>
<rect x="239.08" y="190.50" width="2.04" height="2.55" fill="rgb(78,61,20)"/>
<rect x="241.07" y="190.50" width="2.04" height="2.55" fill="rgb(74,58,27)"/>
<rect x="243.06" y="190.50" width="2.04" height="2.55" fill="rgb(70,54,33)"/>
<rect x="245.04" y="190.50" width="2.04" height="2.55" fill="rgb(59,42,15)"/>
<rect x="247.03" y="190.50" width="2.04" height="2.55" fill="rgb(56,68,23)"/>
<rect x="249.02" y="190.50" width="2.04" height="2.55" fill="rgb(95,67,22)"/>
<rect x="251.01" y="190.50" width="2.04" height="2.55" fill="rgb(75,55,20)"/>
<rect x="74.00" y="193.00" width="2.04" height="2.55" fill="rgb(77,47,16)"/>
<rect x="75.99" y="193.00" width="2.04" height="2.55" fill="rgb(76,40,11)"/>
<rect x="77.98" y="193.00" width="2.04" height="2.55" fill="rgb(79,25,27)"/>
<rect x="79.97" y="193.00" width="2.04" height="2.55" fill="rgb(60,46,27)"/>
<rect x="81.96" y="193.00" width="2.04" height="2.55" fill="rgb(61,50,22)"/>
<rect x="83.94" y="193.00" width="2.04" height="2.55" fill="rgb(99,35,13)"/>
<rect x="85.93" y="193.00" width="2.04" height="2.55" fill="rgb(87,30,21)"/>
<rect x="87.92" y="193.00" width="2.04" height="2.55" fill="rgb(53,58,19)"/>
<rect x="89.91" y="193.00" width="2.04" height="2.55" fill="rgb(63,37,21)"/>
<rect x="91.90" y="193.00" width="2.04" height="2.55" fill="rgb(54,55,19)"/>
<rect x="93.89" y="193.00" width="2.04" height="2.55" fill="rgb(81,23,34)"/>
<rect x="95.88" y="193.00" width="2.04" height="2.55" fill="rgb(68,28,28)"/>
<rect x="97.87" y="193.00" width="2.04" height="2.55" fill="rgb(68,41,17)"/>
<rect x="99.86" y="193.00" width="2.04" height="2.55" fill="rgb(74,41,14)"/>
<rect x="101.84" y="193.00" width="2.04" height="2.55" fill="rgb(72,36,13)"/>
<rect x="103.83" y="193.00" width="2.04" height="2.55" fill="rgb(58,40,30)"/>
<rect x="105.82" y="193.00" width="2.04" height="2.55" fill="rgb(86,28,14)"/>
<rect x="107.81" y="193.00" width="2.04" height="2.55" fill="rgb(90,20,14)"/>
<rect x="109.80" y="193.00" width="2.04" height="2.55" fill="rgb(44,61,19)"/>
<rect x="111.79" y="193.00" width="2.04" height="2.55" fill="rgb(61,53,14)"/>
<rect x="113.78" y="193.00" width="2.04" height="2.55" fill="rgb(103,44,13)"/>
<rect x="115.77" y="193.00" width="2.04" height="2.55" fill="rgb(75,24,17)"/>
<rect x="117.76" y="193.00" width="2.04" height="2.55" fill="rgb(67,49,19)"/>
<rect x="119.74" y="193.00" width="2.04" height="2.55" fill="rgb(59,48,25)"/>
<rect x="121.73" y="193.00" width="2.04" height="2.55" fill="rgb(54,46,10)"/>
<rect x="123.72" y="193.00" width="2.04" height="2.55" fill="rgb(96,27,22)"/>
<rect x="125.71" y="193.00" width="2.04" height="2.55" fill="rgb(104,44,25)"/>
<rect x="127.70" y="193.00" width="2.04" height="2.55" fill="rgb(61,50,6)"/>
<rect x="129.69" y="193.00" width="2.04" height="2.55" fill="rgb(68,65,11)"/>
<rect x="131.68" y="193.00" width="2.04" height="2.55" fill="rgb(66,34,21)"/>
<rect x="133.67" y="193.00" width="2.04" height="2.55" fill="rgb(50,35,9)"/>
<rect x="135.66" y="193.00" width="2.04" height="2.55" fill="rgb(79,32,23)"/>
<rect x="137.64" y="193.00" width="2.04" height="2.55" fill="rgb(67,45,16)"/>
<rect x="139.63" y="193.00" width="2.04" height="2.55" fill="rgb(61,60,25)"/>
<rect x="141.62" y="193.00" width="2.04" height="2.55" fill="rgb(50,73,23)"/>
<rect x="143.61" y="193.00" width="2.04" height="2.55" fill="rgb(42,63,39)"/>
<rect x="145.60" y="193.00" width="2.04" height="2.55" fill="rgb(74,39,21)"/>
<rect x="147.59" y="193.00" width="2.04" height="2.55" fill="rgb(58,49,25)"/>
<rect x="149.58" y="193.00" width="2.04" height="2.55" fill="rgb(38,86,29)"/>
<rect x="151.57" y="193.00" width="2.04" height="2.55" fill="rgb(80,38,16)"/>
<rect x="153.56" y="193.00" width="2.04" height="2.55" fill="rgb(74,47,16)"/>
<rect x="155.54" y="193.00" width="2.04" height="2.55" fill="rgb(85,23,27)"/>
<rect x="157.53" y="193.00" width="2.04" height="2.55" fill="rgb(48,82,29)"/>
<rect x="159.52" y="193.00" width="2.04" height="2.55" fill="rgb(62,44,2)"/>
<rect x="161.51" y="193.00" width="2.04" height="2.55" fill="rgb(55,61,21)"/>
<rect x="163.50" y="193.00" width="2.04" height="2.55" fill="rgb(75,62,25)"/>
<rect x="165.49" y="193.00" width="2.04" height="2.55" fill="rgb(60,43,23)"/>
<rect x="167.48" y="193.00" width="2.04" height="2.55" fill="rgb(56,41,17)"/>
<rect x="169.47" y="193.00" width="2.04" height="2.55" fill="rgb(55,51,25)"/>
<rect x="171.46" y="193.00" width="2.04" height="2.55" fill="rgb(41,58,40)"/>
<rect x="173.44" y="193.00" width="2.04" height="2.55" fill="rgb(55,64,34)"/>
<rect x="175.43" y="193.00" width="2.04" height="2.55" fill="rgb(62,57,27)"/>
<rect x="177.42" y="193.00" width="2.04" height="2.55" fill="rgb(60,78,38)"/>
<rect x="179.41" y="193.00" width="2.04" height="2.55" fill="rgb(52,47,28)"/>
<rect x="181.40" y="193.00" width="2.04" height="2.55" fill="rgb(50,47,7)"/>
<rect x="183.39" y="193.00" width="2.04" height="2.55" fill="rgb(75,28,30)"/>
<rect x="185.38" y="193.00" width="2.04" height="2.55" fill="rgb(79,47,33)"/>
<rect x="187.37" y="193.00" width="2.04" height="2.55" fill="rgb(72,49,21)"/>
<rect x="189.36" y="193.00" width="2.04" height="2.55" fill="rgb(65,38,3)"/>
<rect x="191.34" y="193.00" width="2.04" height="2.55" fill="rgb(77,60,28)"/>
<rect x="193.33" y="193.00" width="2.04" height="2.55" fill="rgb(49,47,26)"/>
<rect x="195.32" y="193.00" width="2.04" height="2.55" fill="rgb(35,69,26)"/>
<rect x="197.31" y="193.00" width="2.04" height="2.55" fill="rgb(57,38,22)"/>
<rect x="199.30" y="193.00" width="2.04" height="2.55" fill="rgb(72,38,2)"/>
<rect x="201.29" y="193.00" width="2.04" height="2.55" fill="rgb(60,83,32)"/>
<rect x="203.28" y="193.00" width="2.04" height="2.55" fill="rgb(79,54,20)"/>
<rect x="205.27" y="193.00" width="2.04" height="2.55" fill="rgb(56,58,28)"/>
<rect x="207.26" y="193.00" width="2.04" height="2.55" fill="rgb(58,32,22)"/>
<rect x="209.24" y="193.00" width="2.04" height="2.55" fill="rgb(59,59,22)"/>
<rect x="211.23" y="193.00" width="2.04" height="2.55" fill="rgb(71,57,17)"/>
<rect x="213.22" y="193.00" width="2.04" height="2.55" fill="rgb(55,54,32)"/>
<rect x="215.21" y="193.00" width="2.04" height="2.55" fill="rgb(52,64,21)"/>
<rect x="217.20" y="193.00" width="2.04" height="2.55" fill="rgb(49,68,14)"/>
<rect x="219.19" y="193.00" width="2.04" height="2.55" fill="rgb(78,45,19)"/>
<rect x="221.18" y="193.00" width="2.04" height="2.55" fill="rgb(70,55,28)"/>
<rect x="223.17" y="193.00" width="2.04" height="2.55" fill="rgb(61,76,43)"/>
<rect x="225.16" y="193.00" width="2.04" height="2.55" fill="rgb(74,69,18)"/>
<rect x="227.14" y="193.00" width="2.04" height="2.55" fill="rgb(59,63,16)"/>
<rect x="229.13" y="193.00" width="2.04" height="2.55" fill="rgb(60,41,15)"/>
<rect x="231.12" y="193.00" width="2.04" height="2.55" fill="rgb(57,63,22)"/>
<rect x="233.11" y="193.00" width="2.04" height="2.55" fill="rgb(66,50,21)"/>
<rect x="235.10" y="193.00" width="2.04" height="2.55" fill="rgb(44,72,30)"/>
<rect x="237.09" y="193.00" width="2.04" height="2.55" fill="rgb(50,49,10)"/>
<rect x="239.08" y="193.00" width="2.04" height="2.55" fill="rgb(81,45,29)"/>
<rect x="241.07" y="193.00" width="2.04" height="2.55" fill="rgb(39,43,2)"/>
<rect x="243.06" y="193.00" width="2.04" height="2.55" fill="rgb(69,39,14)"/>
<rect x="245.04" y="193.00" width="2.04" height="2.55" fill="rgb(64,55,22)"/>
<rect x="247.03" y="193.00" width="2.04" height="2.55" fill="rgb(47,61,37)"/>
<rect x="249.02" y="193.00" width="2.04" height="2.55" fill="rgb(79,50,20)"/>
<rect x="251.01" y="193.00" width="2.04" height="2.55" fill="rgb(52,52,10)"/>
<rect x="74.00" y="195.50" width="2.04" height="2.55" fill="rgb(110,86,36)"/>
<rect x="75.99" y="195.50" width="2.04" height="2.55" fill="rgb(111,67,34)"/>
<rect x="77.98" y="195.50" width="2.04" height="2.55" fill="rgb(118,53,34)"/>
<rect x="79.97" y="195.50" width="2.04" height="2.55" fill="rgb(104,84,29)"/>
<rect x="81.96" y="195.50" width="2.04" height="2.55" fill="rgb(93,59,39)"/>
<rect x="83.94" y="195.50" width="2.04" height="2.55" fill="rgb(115,62,27)"/>
<rect x="85.93" y="195.50" width="2.04" height="2.55" fill="rgb(111,81,41)"/>
<rect x="87.92" y="195.50" width="2.04" height="2.55" fill="rgb(116,56,33)"/>
<rect x="89.91" y="195.50" width="2.04" height="2.55" fill="rgb(95,81,20)"/>
<rect x="91.90" y="195.50" width="2.04" height="2.55" fill="rgb(93,70,23)"/>
<rect x="93.89" y="195.50" width="2.04" height="2.55" fill="rgb(145,56,39)"/>
<rect x="95.88" y="195.50" width="2.04" height="2.55" fill="rgb(96,66,28)"/>
<rect x="97.87" y="195.50" width="2.04" height="2.55" fill="rgb(110,59,42)"/>
<rect x="99.86" y="195.50" width="2.04" height="2.55" fill="rgb(101,53,19)"/>
<rect x="101.84" y="195.50" width="2.04" height="2.55" fill="rgb(106,62,23)"/>
<rect x="103.83" y="195.50" width="2.04" height="2.55" fill="rgb(157,56,34)"/>
<rect x="105.82" y="195.50" width="2.04" height="2.55" fill="rgb(92,66,34)"/>
<rect x="107.81" y="195.50" width="2.04" height="2.55" fill="rgb(72,83,29)"/>
<rect x="109.80" y="195.50" width="2.04" height="2.55" fill="rgb(112,67,35)"/>
<rect x="111.79" y="195.50" width="2.04" height="2.55" fill="rgb(102,52,37)"/>
<rect x="113.78" y="195.50" width="2.04" height="2.55" fill="rgb(90,78,37)"/>
<rect x="115.77" y="195.50" width="2.04" height="2.55" fill="rgb(144,67,50)"/>
<rect x="117.76" y="195.50" width="2.04" height="2.55" fill="rgb(101,68,28)"/>
<rect x="119.74" y="195.50" width="2.04" height="2.55" fill="rgb(93,82,39)"/>
<rect x="121.73" y="195.50" width="2.04" height="2.55" fill="rgb(101,76,52)"/>
<rect x="123.72" y="195.50" width="2.04" height="2.55" fill="rgb(105,74,29)"/>
<rect x="125.71" y="195.50" width="2.04" height="2.55" fill="rgb(85,71,26)"/>
<rect x="127.70" y="195.50" width="2.04" height="2.55" fill="rgb(117,54,24)"/>
<rect x="129.69" y="195.50" width="2.04" height="2.55" fill="rgb(110,64,25)"/>
<rect x="131.68" y="195.50" width="2.04" height="2.55" fill="rgb(115,60,34)"/>
<rect x="133.67" y="195.50" width="2.04" height="2.55" fill="rgb(102,57,35)"/>
<rect x="135.66" y="195.50" width="2.04" height="2.55" fill="rgb(112,60,24)"/>
<rect x="137.64" y="195.50" width="2.04" height="2.55" fill="rgb(74,68,35)"/>
<rect x="139.63" y="195.50" width="2.04" height="2.55" fill="rgb(99,75,32)"/>
<rect x="141.62" y="195.50" width="2.04" height="2.55" fill="rgb(117,68,16)"/>
<rect x="143.61" y="195.50" width="2.04" height="2.55" fill="rgb(104,65,35)"/>
<rect x="145.60" y="195.50" width="2.04" height="2.55" fill="rgb(111,58,33)"/>
<rect x="147.59" y="195.50" width="2.04" height="2.55" fill="rgb(100,75,39)"/>
<rect x="149.58" y="195.50" width="2.04" height="2.55" fill="rgb(116,67,31)"/>
<rect x="151.57" y="195.50" width="2.04" height="2.55" fill="rgb(86,81,28)"/>
<rect x="153.56" y="195.50" width="2.04" height="2.55" fill="rgb(95,66,29)"/>
<rect x="155.54" y="195.50" width="2.04" height="2.55" fill="rgb(116,55,10)"/>
<rect x="157.53" y="195.50" width="2.04" height="2.55" fill="rgb(98,69,22)"/>
<rect x="159.52" y="195.50" width="2.04" height="2.55" fill="rgb(109,68,33)"/>
<rect x="161.51" y="195.50" width="2.04" height="2.55" fill="rgb(133,62,27)"/>
<rect x="163.50" y="195.50" width="2.04" height="2.55" fill="rgb(87,67,22)"/>
<rect x="165.49" y="195.50" width="2.04" height="2.55" fill="rgb(112,57,26)"/>
<rect x="167.48" y="195.50" width="2.04" height="2.55" fill="rgb(84,47,18)"/>
<rect x="169.47" y="195.50" width="2.04" height="2.55" fill="rgb(120,60,31)"/>
<rect x="171.46" y="195.50" width="2.04" height="2.55" fill="rgb(86,53,35)"/>
<rect x="173.44" y="195.50" width="2.04" height="2.55" fill="rgb(98,105,35)"/>
<rect x="175.43" y="195.50" width="2.04" height="2.55" fill="rgb(113,81,24)"/>
<rect x="177.42" y="195.50" width="2.04" height="2.55" fill="rgb(120,68,26)"/>
<rect x="179.41" y="195.50" width="2.04" height="2.55" fill="rgb(111,57,42)"/>
<rect x="181.40" y="195.50" width="2.04" height="2.55" fill="rgb(117,58,36)"/>
<rect x="183.39" y="195.50" width="2.04" height="2.55" fill="rgb(102,96,33)"/>
<rect x="185.38" y="195.50" width="2.04" height="2.55" fill="rgb(102,73,26)"/>
<rect x="187.37" y="195.50" width="2.04" height="2.55" fill="rgb(100,60,37)"/>
<rect x="189.36" y="195.50" width="2.04" height="2.55" fill="rgb(89,80,29)"/>
<rect x="191.34" y="195.50" width="2.04" height="2.55" fill="rgb(85,74,22)"/>
<rect x="193.33" y="195.50" width="2.04" height="2.55" fill="rgb(106,79,32)"/>
<rect x="195.32" y="195.50" width="2.04" height="2.55" fill="rgb(92,51,30)"/>
<rect x="197.31" y="195.50" width="2.04" height="2.55" fill="rgb(101,77,24)"/>
<rect x="199.30" y="195.50" width="2.04" height="2.55" fill="rgb(105,64,42)"/>
<rect x="201.29" y="195.50" width="2.04" height="2.55" fill="rgb(75,71,32)"/>
<rect x="203.28" y="195.50" width="2.04" height="2.55" fill="rgb(98,75,26)"/>
<rect x="205.27" y="195.50" width="2.04" height="2.55" fill="rgb(74,80,32)"/>
<rect x="207.26" y="195.50" width="2.04" height="2.55" fill="rgb(91,63,30)"/>
<rect x="209.24" y="195.50" width="2.04" height="2.55" fill="rgb(100,63,41)"/>
<rect x="211.23" y="195.50" width="2.04" height="2.55" fill="rgb(84,87,55)"/>
<rect x="213.22" y="195.50" width="2.04" height="2.55" fill="rgb(97,86,33)"/>
<rect x="215.21" y="195.50" width="2.04" height="2.55" fill="rgb(91,82,38)"/>
<rect x="217.20" y="195.50" width="2.04" height="2.55" fill="rgb(99,76,20)"/>
<rect x="219.19" y="195.50" width="2.04" height="2.55" fill="rgb(89,71,28)"/>
<rect x="221.18" y="195.50" width="2.04" height="2.55" fill="rgb(87,83,26)"/>
<rect x="223.17" y="195.50" width="2.04" height="2.55" fill="rgb(103,72,30)"/>
<rect x="225.16" y="195.50" width="2.04" height="2.55" fill="rgb(93,93,37)"/>
<rect x="227.14" y="195.50" width="2.04" height="2.55" fill="rgb(80,74,32)"/>
<rect x="229.13" y="195.50" width="2.04" height="2.55" fill="rgb(96,81,39)"/>
<rect x="231.12" y="195.50" width="2.04" height="2.55" fill="rgb(102,56,39)"/>
<rect x="233.11" y="195.50" width="2.04" height="2.55" fill="rgb(130,85,35)"/>
<rect x="235.10" y="195.50" width="2.04" height="2.55" fill="rgb(108,67,17)"/>
<rect x="237.09" y="195.50" width="2.04" height="2.55" fill="rgb(87,85,41)"/>
<rect x="239.08" y="195.50" width="2.04" height="2.55" fill="rgb(107,72,16)"/>
<rect x="241.07" y="195.50" width="2.04" height="2.55" fill="rgb(90,84,35)"/>
<rect x="243.06" y="195.50" width="2.04" height="2.55" fill="rgb(104,54,29)"/>
<rect x="245.04" y="195.50" width="2.04" height="2.55" fill="rgb(97,76,26)"/>
<rect x="247.03" y="195.50" width="2.04" height="2.55" fill="rgb(94,60,19)"/>
<rect x="249.02" y="195.50" width="2.04" height="2.55" fill="rgb(89,66,19)"/>
<rect x="251.01" y="195.50" width="2.04" height="2.55" fill="rgb(126,63,36)"/>
<rect x="74.00" y="198.00" width="2.04" height="2.55" fill="rgb(52,74,34)"/>
<rect x="75.99" y="198.00" width="2.04" height="2.55" fill="rgb(75,56,24)"/>
<rect x="77.98" y="198.00" width="2.04" height="2.55" fill="rgb(66,81,36)"/>
<rect x="79.97" y="198.00" width="2.04" height="2.55" fill="rgb(60,52,14)"/>
<rect x="81.96" y="198.00" width="2.04" height="2.55" fill="rgb(61,85,16)"/>
<rect x="83.94" y="198.00" width="2.04" height="2.55" fill="rgb(69,49,19)"/>
<rect x="85.93" y="198.00" width="2.04" height="2.55" fill="rgb(75,32,16)"/>
<rect x="87.92" y="198.00" width="2.04" height="2.55" fill="rgb(76,53,17)"/>
<rect x="89.91" y="198.00" width="2.04" height="2.55" fill="rgb(54,57,17)"/>
<rect x="91.90" y="198.00" width="2.04" height="2.55" fill="rgb(57,44,22)"/>
<rect x="93.89" y="198.00" width="2.04" height="2.55" fill="rgb(66,41,11)"/>
<rect x="95.88" y="198.00" width="2.04" height="2.55" fill="rgb(50,63,34)"/>
<rect x="97.87" y="198.00" width="2.04" height="2.55" fill="rgb(45,89,45)"/>
<rect x="99.86" y="198.00" width="2.04" height="2.55" fill="rgb(55,59,23)"/>
<rect x="101.84" y="198.00" width="2.04" height="2.55" fill="rgb(93,28,24)"/>
<rect x="103.83" y="198.00" width="2.04" height="2.55" fill="rgb(56,81,28)"/>
<rect x="105.82" y="198.00" width="2.04" height="2.55" fill="rgb(56,80,38)"/>
<rect x="107.81" y="198.00" width="2.04" height="2.55" fill="rgb(61,73,28)"/>
<rect x="109.80" y="198.00" width="2.04" height="2.55" fill="rgb(61,47,23)"/>
<rect x="111.79" y="198.00" width="2.04" height="2.55" fill="rgb(80,56,11)"/>
<rect x="113.78" y="198.00" width="2.04" height="2.55" fill="rgb(75,38,31)"/>
<rect x="115.77" y="198.00" width="2.04" height="2.55" fill="rgb(52,84,36)"/>
<rect x="117.76" y="198.00" width="2.04" height="2.55" fill="rgb(55,76,28)"/>
<rect x="119.74" y="198.00" width="2.04" height="2.55" fill="rgb(51,82,46)"/>
<rect x="121.73" y="198.00" width="2.04" height="2.55" fill="rgb(74,62,24)"/>
<rect x="123.72" y="198.00" width="2.04" height="2.55" fill="rgb(63,80,27)"/>
<rect x="125.71" y="198.00" width="2.04" height="2.55" fill="rgb(67,80,30)"/>
<rect x="127.70" y="198.00" width="2.04" height="2.55" fill="rgb(53,88,46)"/>
<rect x="129.69" y="198.00" width="2.04" height="2.55" fill="rgb(50,65,32)"/>
<rect x="131.68" y="198.00" width="2.04" height="2.55" fill="rgb(54,70,36)"/>
<rect x="133.67" y="198.00" width="2.04" height="2.55" fill="rgb(72,84,27)"/>
<rect x="135.66" y="198.00" width="2.04" height="2.55" fill="rgb(59,75,36)"/>
<rect x="137.64" y="198.00" width="2.04" height="2.55" fill="rgb(82,54,12)"/>
<rect x="139.63" y="198.00" width="2.04" height="2.55" fill="rgb(53,68,20)"/>
<rect x="141.62" y="198.00" width="2.04" height="2.55" fill="rgb(61,30,9)"/>
<rect x="143.61" y="198.00" width="2.04" height="2.55" fill="rgb(65,58,25)"/>
<rect x="145.60" y="198.00" width="2.04" height="2.55" fill="rgb(60,86,25)"/>
<rect x="147.59" y="198.00" width="2.04" height="2.55" fill="rgb(73,61,30)"/>
<rect x="149.58" y="198.00" width="2.04" height="2.55" fill="rgb(40,83,48)"/>
<rect x="151.57" y="198.00" width="2.04" height="2.55" fill="rgb(63,62,15)"/>
<rect x="153.56" y="198.00" width="2.04" height="2.55" fill="rgb(56,72,30)"/>
<rect x="155.54" y="198.00" width="2.04" height="2.55" fill="rgb(47,74,36)"/>
<rect x="157.53" y="198.00" width="2.04" height="2.55" fill="rgb(69,45,10)"/>
<rect x="159.52" y="198.00" width="2.04" height="2.55" fill="rgb(76,82,30)"/>
<rect x="161.51" y="198.00" width="2.04" height="2.55" fill="rgb(61,73,22)"/>
<rect x="163.50" y="198.00" width="2.04" height="2.55" fill="rgb(63,59,35)"/>
<rect x="165.49" y="198.00" width="2.04" height="2.55" fill="rgb(54,72,26)"/>
<rect x="167.48" y="198.00" width="2.04" height="2.55" fill="rgb(44,66,24)"/>
<rect x="169.47" y="198.00" width="2.04" height="2.55" fill="rgb(58,55,15)"/>
<rect x="171.46" y="198.00" width="2.04" height="2.55" fill="rgb(83,60,27)"/>
<rect x="173.44" y="198.00" width="2.04" height="2.55" fill="rgb(60,94,43)"/>
<rect x="175.43" y="198.00" width="2.04" height="2.55" fill="rgb(62,53,16)"/>
<rect x="177.42" y="198.00" width="2.04" height="2.55" fill="rgb(55,106,40)"/>
<rect x="179.41" y="198.00" width="2.04" height="2.55" fill="rgb(62,79,30)"/>
<rect x="181.40" y="198.00" width="2.04" height="2.55" fill="rgb(53,86,40)"/>
<rect x="183.39" y="198.00" width="2.04" height="2.55" fill="rgb(46,64,34)"/>
<rect x="185.38" y="198.00" width="2.04" height="2.55" fill="rgb(56,91,30)"/>
<rect x="187.37" y="198.00" width="2.04" height="2.55" fill="rgb(63,49,15)"/>
<rect x="189.36" y="198.00" width="2.04" height="2.55" fill="rgb(41,66,36)"/>
<rect x="191.34" y="198.00" width="2.04" height="2.55" fill="rgb(83,74,27)"/>
<rect x="193.33" y="198.00" width="2.04" height="2.55" fill="rgb(52,90,30)"/>
<rect x="195.32" y="198.00" width="2.04" height="2.55" fill="rgb(52,77,26)"/>
<rect x="197.31" y="198.00" width="2.04" height="2.55" fill="rgb(62,88,27)"/>
<rect x="199.30" y="198.00" width="2.04" height="2.55" fill="rgb(53,106,44)"/>
<rect x="201.29" y="198.00" width="2.04" height="2.55" fill="rgb(66,56,12)"/>
<rect x="203.28" y="198.00" width="2.04" height="2.55" fill="rgb(62,59,25)"/>
<rect x="205.27" y="198.00" width="2.04" height="2.55" fill="rgb(65,52,17)"/>
<rect x="207.26" y="198.00" width="2.04" height="2.55" fill="rgb(57,72,38)"/>
<rect x="209.24" y="198.00" width="2.04" height="2.55" fill="rgb(56,79,28)"/>
<rect x="211.23" y="198.00" width="2.04" height="2.55" fill="rgb(70,60,28)"/>
<rect x="213.22" y="198.00" width="2.04" height="2.55" fill="rgb(59,72,31)"/>
<rect x="215.21" y="198.00" width="2.04" height="2.55" fill="rgb(53,75,22)"/>
<rect x="217.20" y="198.00" width="2.04" height="2.55" fill="rgb(62,80,32)"/>
<rect x="219.19" y="198.00" width="2.04" height="2.55" fill="rgb(59,78,27)"/>
<rect x="221.18" y="198.00" width="2.04" height="2.55" fill="rgb(55,67,29)"/>
<rect x="223.17" y="198.00" width="2.04" height="2.55" fill="rgb(48,91,39)"/>
<rect x="225.16" y="198.00" width="2.04" height="2.55" fill="rgb(48,105,48)"/>
<rect x="227.14" y="198.00" width="2.04" height="2.55" fill="rgb(55,69,30)"/>
<rect x="229.13" y="198.00" width="2.04" height="2.55" fill="rgb(44,117,48)"/>
<rect x="231.12" y="198.00" width="2.04" height="2.55" fill="rgb(68,109,36)"/>
<rect x="233.11" y="198.00" width="2.04" height="2.55" fill="rgb(65,83,44)"/>
<rect x="235.10" y="198.00" width="2.04" height="2.55" fill="rgb(50,96,40)"/>
<rect x="237.09" y="198.00" width="2.04" height="2.55" fill="rgb(58,74,20)"/>
<rect x="239.08" y="198.00" width="2.04" height="2.55" fill="rgb(71,85,36)"/>
<rect x="241.07" y="198.00" width="2.04" height="2.55" fill="rgb(51,102,46)"/>
<rect x="243.06" y="198.00" width="2.04" height="2.55" fill="rgb(52,84,23)"/>
<rect x="245.04" y="198.00" width="2.04" height="2.55" fill="rgb(40,92,43)"/>
<rect x="247.03" y="198.00" width="2.04" height="2.55" fill="rgb(76,61,22)"/>
<rect x="249.02" y="198.00" width="2.04" height="2.55" fill="rgb(51,65,42)"/>
<rect x="251.01" y="198.00" width="2.04" height="2.55" fill="rgb(53,100,31)"/>
<rect x="74.00" y="200.50" width="2.04" height="2.55" fill="rgb(92,37,30)"/>
<rect x="75.99" y="200.50" width="2.04" height="2.55" fill="rgb(76,47,19)"/>
<rect x="77.98" y="200.50" width="2.04" height="2.55" fill="rgb(93,57,25)"/>
<rect x="79.97" y="200.50" width="2.04" height="2.55" fill="rgb(127,28,30)"/>
<rect x="81.96" y="200.50" width="2.04" height="2.55" fill="rgb(81,48,37)"/>
<rect x="83.94" y="200.50" width="2.04" height="2.55" fill="rgb(91,48,22)"/>
<rect x="85.93" y="200.50" width="2.04" height="2.55" fill="rgb(98,52,16)"/>
<rect x="87.92" y="200.50" width="2.04" height="2.55" fill="rgb(86,54,21)"/>
<rect x="89.91" y="200.50" width="2.04" height="2.55" fill="rgb(129,43,37)"/>
<rect x="91.90" y="200.50" width="2.04" height="2.55" fill="rgb(84,34,20)"/>
<rect x="93.89" y="200.50" width="2.04" height="2.55" fill="rgb(102,53,30)"/>
<rect x="95.88" y="200.50" width="2.04" height="2.55" fill="rgb(100,23,16)"/>
<rect x="97.87" y="200.50" width="2.04" height="2.55" fill="rgb(104,29,30)"/>
<rect x="99.86" y="200.50" width="2.04" height="2.55" fill="rgb(90,46,8)"/>
<rect x="101.84" y="200.50" width="2.04" height="2.55" fill="rgb(79,39,12)"/>
<rect x="103.83" y="200.50" width="2.04" height="2.55" fill="rgb(88,51,30)"/>
<rect x="105.82" y="200.50" width="2.04" height="2.55" fill="rgb(83,26,25)"/>
<rect x="107.81" y="200.50" width="2.04" height="2.55" fill="rgb(90,61,14)"/>
<rect x="109.80" y="200.50" width="2.04" height="2.55" fill="rgb(69,57,29)"/>
<rect x="111.79" y="200.50" width="2.04" height="2.55" fill="rgb(95,58,25)"/>
<rect x="113.78" y="200.50" width="2.04" height="2.55" fill="rgb(63,77,30)"/>
<rect x="115.77" y="200.50" width="2.04" height="2.55" fill="rgb(75,45,21)"/>
<rect x="117.76" y="200.50" width="2.04" height="2.55" fill="rgb(67,53,24)"/>
<rect x="119.74" y="200.50" width="2.04" height="2.55" fill="rgb(88,46,24)"/>
<rect x="121.73" y="200.50" width="2.04" height="2.55" fill="rgb(68,44,30)"/>
<rect x="123.72" y="200.50" width="2.04" height="2.55" fill="rgb(69,46,24)"/>
<rect x="125.71" y="200.50" width="2.04" height="2.55" fill="rgb(76,43,15)"/>
<rect x="127.70" y="200.50" width="2.04" height="2.55" fill="rgb(101,54,16)"/>
<rect x="129.69" y="200.50" width="2.04" height="2.55" fill="rgb(120,30,26)"/>
<rect x="131.68" y="200.50" width="2.04" height="2.55" fill="rgb(81,49,40)"/>
<rect x="133.67" y="200.50" width="2.04" height="2.55" fill="rgb(95,42,17)"/>
<rect x="135.66" y="200.50" width="2.04" height="2.55" fill="rgb(85,39,31)"/>
<rect x="137.64" y="200.50" width="2.04" height="2.55" fill="rgb(108,32,25)"/>
<rect x="139.63" y="200.50" width="2.04" height="2.55" fill="rgb(80,37,2)"/>
<rect x="141.62" y="200.50" width="2.04" height="2.55" fill="rgb(61,40,15)"/>
<rect x="143.61" y="200.50" width="2.04" height="2.55" fill="rgb(71,78,29)"/>
<rect x="145.60" y="200.50" width="2.04" height="2.55" fill="rgb(74,35,22)"/>
<rect x="147.59" y="200.50" width="2.04" height="2.55" fill="rgb(108,34,22)"/>
<rect x="149.58" y="200.50" width="2.04" height="2.55" fill="rgb(91,51,28)"/>
<rect x="151.57" y="200.50" width="2.04" height="2.55" fill="rgb(70,37,30)"/>
<rect x="153.56" y="200.50" width="2.04" height="2.55" fill="rgb(96,34,30)"/>
<rect x="155.54" y="200.50" width="2.04" height="2.55" fill="rgb(72,47,30)"/>
<rect x="157.53" y="200.50" width="2.04" height="2.55" fill="rgb(75,59,23)"/>
<rect x="159.52" y="200.50" width="2.04" height="2.55" fill="rgb(93,45,15)"/>
<rect x="161.51" y="200.50" width="2.04" height="2.55" fill="rgb(98,48,31)"/>
<rect x="163.50" y="200.50" width="2.04" height="2.55" fill="rgb(84,74,24)"/>
<rect x="165.49" y="200.50" width="2.04" height="2.55" fill="rgb(108,36,26)"/>
<rect x="167.48" y="200.50" width="2.04" height="2.55" fill="rgb(45,77,27)"/>
<rect x="169.47" y="200.50" width="2.04" height="2.55" fill="rgb(81,46,15)"/>
<rect x="171.46" y="200.50" width="2.04" height="2.55" fill="rgb(56,74,38)"/>
<rect x="173.44" y="200.50" width="2.04" height="2.55" fill="rgb(105,47,23)"/>
<rect x="175.43" y="200.50" width="2.04" height="2.55" fill="rgb(82,73,23)"/>
<rect x="177.42" y="200.50" width="2.04" height="2.55" fill="rgb(87,40,25)"/>
<rect x="179.41" y="200.50" width="2.04" height="2.55" fill="rgb(77,61,21)"/>
<rect x="181.40" y="200.50" width="2.04" height="2.55" fill="rgb(107,52,29)"/>
<rect x="183.39" y="200.50" width="2.04" height="2.55" fill="rgb(60,37,24)"/>
<rect x="185.38" y="200.50" width="2.04" height="2.55" fill="rgb(87,58,20)"/>
<rect x="187.37" y="200.50" width="2.04" height="2.55" fill="rgb(50,79,34)"/>
<rect x="189.36" y="200.50" width="2.04" height="2.55" fill="rgb(74,50,20)"/>
<rect x="191.34" y="200.50" width="2.04" height="2.55" fill="rgb(80,44,25)"/>
<rect x="193.33" y="200.50" width="2.04" height="2.55" fill="rgb(89,37,26)"/>
<rect x="195.32" y="200.50" width="2.04" height="2.55" fill="rgb(70,47,23)"/>
<rect x="197.31" y="200.50" width="2.04" height="2.55" fill="rgb(92,51,14)"/>
<rect x="199.30" y="200.50" width="2.04" height="2.55" fill="rgb(89,55,31)"/>
<rect x="201.29" y="200.50" width="2.04" height="2.55" fill="rgb(55,41,12)"/>
<rect x="203.28" y="200.50" width="2.04" height="2.55" fill="rgb(64,60,11)"/>
<rect x="205.27" y="200.50" width="2.04" height="2.55" fill="rgb(86,43,30)"/>
<rect x="207.26" y="200.50" width="2.04" height="2.55" fill="rgb(66,66,26)"/>
<rect x="209.24" y="200.50" width="2.04" height="2.55" fill="rgb(68,48,22)"/>
<rect x="211.23" y="200.50" width="2.04" height="2.55" fill="rgb(90,42,33)"/>
<rect x="213.22" y="200.50" width="2.04" height="2.55" fill="rgb(71,50,15)"/>
<rect x="215.21" y="200.50" width="2.04" height="2.55" fill="rgb(63,50,15)"/>
<rect x="217.20" y="200.50" width="2.04" height="2.55" fill="rgb(78,62,17)"/>
<rect x="219.19" y="200.50" width="2.04" height="2.55" fill="rgb(73,61,32)"/>
<rect x="221.18" y="200.50" width="2.04" height="2.55" fill="rgb(88,51,21)"/>
<rect x="223.17" y="200.50" width="2.04" height="2.55" fill="rgb(77,29,26)"/>
<rect x="225.16" y="200.50" width="2.04" height="2.55" fill="rgb(68,65,18)"/>
<rect x="227.14" y="200.50" width="2.04" height="2.55" fill="rgb(88,49,16)"/>
<rect x="229.13" y="200.50" width="2.04" height="2.55" fill="rgb(64,75,24)"/>
<rect x="231.12" y="200.50" width="2.04" height="2.55" fill="rgb(63,77,23)"/>
<rect x="233.11" y="200.50" width="2.04" height="2.55" fill="rgb(83,44,31)"/>
<rect x="235.10" y="200.50" width="2.04" height="2.55" fill="rgb(84,53,20)"/>
<rect x="237.09" y="200.50" width="2.04" height="2.55" fill="rgb(69,71,30)"/>
<rect x="239.08" y="200.50" width="2.04" height="2.55" fill="rgb(57,75,20)"/>
<rect x="241.07" y="200.50" width="2.04" height="2.55" fill="rgb(56,61,35)"/>
<rect x="243.06" y="200.50" width="2.04" height="2.55" fill="rgb(55,60,25)"/>
<rect x="245.04" y="200.50" width="2.04" height="2.55" fill="rgb(89,60,33)"/>
<rect x="247.03" y="200.50" width="2.04" height="2.55" fill="rgb(56,79,42)"/>
<rect x="249.02" y="200.50" width="2.04" height="2.55" fill="rgb(70,79,17)"/>
<rect x="251.01" y="200.50" width="2.04" height="2.55" fill="rgb(71,74,29)"/>
<rect x="74.00" y="203.00" width="2.04" height="2.55" fill="rgb(85,45,25)"/>
<rect x="75.99" y="203.00" width="2.04" height="2.55" fill="rgb(93,43,20)"/>
<rect x="77.98" y="203.00" width="2.04" height="2.55" fill="rgb(87,45,23)"/>
<rect x="79.97" y="203.00" width="2.04" height="2.55" fill="rgb(100,49,14)"/>
<rect x="81.96" y="203.00" width="2.04" height="2.55" fill="rgb(74,58,16)"/>
<rect x="83.94" y="203.00" width="2.04" height="2.55" fill="rgb(81,47,29)"/>
<rect x="85.93" y="203.00" width="2.04" height="2.55" fill="rgb(101,39,31)"/>
<rect x="87.92" y="203.00" width="2.04" height="2.55" fill="rgb(122,51,31)"/>
<rect x="89.91" y="203.00" width="2.04" height="2.55" fill="rgb(94,69,31)"/>
<rect x="91.90" y="203.00" width="2.04" height="2.55" fill="rgb(74,45,21)"/>
<rect x="93.89" y="203.00" width="2.04" height="2.55" fill="rgb(127,34,25)"/>
<rect x="95.88" y="203.00" width="2.04" height="2.55" fill="rgb(96,50,23)"/>
<rect x="97.87" y="203.00" width="2.04" height="2.55" fill="rgb(94,47,25)"/>
<rect x="99.86" y="203.00" width="2.04" height="2.55" fill="rgb(97,47,29)"/>
<rect x="101.84" y="203.00" width="2.04" height="2.55" fill="rgb(70,59,23)"/>
<rect x="103.83" y="203.00" width="2.04" height="2.55" fill="rgb(77,60,14)"/>
<rect x="105.82" y="203.00" width="2.04" height="2.55" fill="rgb(87,64,20)"/>
<rect x="107.81" y="203.00" width="2.04" height="2.55" fill="rgb(89,69,29)"/>
<rect x="109.80" y="203.00" width="2.04" height="2.55" fill="rgb(100,49,16)"/>
<rect x="111.79" y="203.00" width="2.04" height="2.55" fill="rgb(101,34,34)"/>
<rect x="113.78" y="203.00" width="2.04" height="2.55" fill="rgb(109,55,30)"/>
<rect x="115.77" y="203.00" width="2.04" height="2.55" fill="rgb(91,45,20)"/>
<rect x="117.76" y="203.00" width="2.04" height="2.55" fill="rgb(67,58,23)"/>
<rect x="119.74" y="203.00" width="2.04" height="2.55" fill="rgb(77,44,35)"/>
<rect x="121.73" y="203.00" width="2.04" height="2.55" fill="rgb(91,65,12)"/>
<rect x="123.72" y="203.00" width="2.04" height="2.55" fill="rgb(98,60,14)"/>
<rect x="125.71" y="203.00" width="2.04" height="2.55" fill="rgb(85,49,25)"/>
<rect x="127.70" y="203.00" width="2.04" height="2.55" fill="rgb(78,51,30)"/>
<rect x="129.69" y="203.00" width="2.04" height="2.55" fill="rgb(111,51,16)"/>
<rect x="131.68" y="203.00" width="2.04" height="2.55" fill="rgb(99,54,25)"/>
<rect x="133.67" y="203.00" width="2.04" height="2.55" fill="rgb(111,40,45)"/>
<rect x="135.66" y="203.00" width="2.04" height="2.55" fill="rgb(83,50,13)"/>
<rect x="137.64" y="203.00" width="2.04" height="2.55" fill="rgb(90,47,12)"/>
<rect x="139.63" y="203.00" width="2.04" height="2.55" fill="rgb(75,62,21)"/>
<rect x="141.62" y="203.00" width="2.04" height="2.55" fill="rgb(105,48,25)"/>
<rect x="143.61" y="203.00" width="2.04" height="2.55" fill="rgb(92,50,24)"/>
<rect x="145.60" y="203.00" width="2.04" height="2.55" fill="rgb(86,79,55)"/>
<rect x="147.59" y="203.00" width="2.04" height="2.55" fill="rgb(119,61,19)"/>
<rect x="149.58" y="203.00" width="2.04" height="2.55" fill="rgb(97,47,31)"/>
<rect x="151.57" y="203.00" width="2.04" height="2.55" fill="rgb(92,53,20)"/>
<rect x="153.56" y="203.00" width="2.04" height="2.55" fill="rgb(75,58,11)"/>
<rect x="155.54" y="203.00" width="2.04" height="2.55" fill="rgb(64,61,22)"/>
<rect x="157.53" y="203.00" width="2.04" height="2.55" fill="rgb(92,52,23)"/>
<rect x="159.52" y="203.00" width="2.04" height="2.55" fill="rgb(84,64,17)"/>
<rect x="161.51" y="203.00" width="2.04" height="2.55" fill="rgb(61,57,21)"/>
<rect x="163.50" y="203.00" width="2.04" height="2.55" fill="rgb(82,43,28)"/>
<rect x="165.49" y="203.00" width="2.04" height="2.55" fill="rgb(84,41,22)"/>
<rect x="167.48" y="203.00" width="2.04" height="2.55" fill="rgb(71,42,13)"/>
<rect x="169.47" y="203.00" width="2.04" height="2.55" fill="rgb(78,66,23)"/>
<rect x="171.46" y="203.00" width="2.04" height="2.55" fill="rgb(59,61,24)"/>
<rect x="173.44" y="203.00" width="2.04" height="2.55" fill="rgb(67,71,23)"/>
<rect x="175.43" y="203.00" width="2.04" height="2.55" fill="rgb(85,49,21)"/>
<rect x="177.42" y="203.00" width="2.04" height="2.55" fill="rgb(93,52,20)"/>
<rect x="179.41" y="203.00" width="2.04" height="2.55" fill="rgb(74,72,13)"/>
<rect x="181.40" y="203.00" width="2.04" height="2.55" fill="rgb(80,63,36)"/>
<rect x="183.39" y="203.00" width="2.04" height="2.55" fill="rgb(76,68,17)"/>
<rect x="185.38" y="203.00" width="2.04" height="2.55" fill="rgb(73,82,37)"/>
<rect x="187.37" y="203.00" width="2.04" height="2.55" fill="rgb(82,91,31)"/>
<rect x="189.36" y="203.00" width="2.04" height="2.55" fill="rgb(84,67,37)"/>
<rect x="191.34" y="203.00" width="2.04" height="2.55" fill="rgb(74,61,12)"/>
<rect x="193.33" y="203.00" width="2.04" height="2.55" fill="rgb(64,55,24)"/>
<rect x="195.32" y="203.00" width="2.04" height="2.55" fill="rgb(101,44,32)"/>
<rect x="197.31" y="203.00" width="2.04" height="2.55" fill="rgb(56,72,32)"/>
<rect x="199.30" y="203.00" width="2.04" height="2.55" fill="rgb(102,48,20)"/>
<rect x="201.29" y="203.00" width="2.04" height="2.55" fill="rgb(62,66,21)"/>
<rect x="203.28" y="203.00" width="2.04" height="2.55" fill="rgb(75,65,26)"/>
<rect x="205.27" y="203.00" width="2.04" height="2.55" fill="rgb(88,64,28)"/>
<rect x="207.26" y="203.00" width="2.04" height="2.55" fill="rgb(101,50,28)"/>
<rect x="209.24" y="203.00" width="2.04" height="2.55" fill="rgb(75,94,40)"/>
<rect x="211.23" y="203.00" width="2.04" height="2.55" fill="rgb(81,51,14)"/>
<rect x="213.22" y="203.00" width="2.04" height="2.55" fill="rgb(73,59,16)"/>
<rect x="215.21" y="203.00" width="2.04" height="2.55" fill="rgb(104,40,22)"/>
<rect x="217.20" y="203.00" width="2.04" height="2.55" fill="rgb(85,80,21)"/>
<rect x="219.19" y="203.00" width="2.04" height="2.55" fill="rgb(83,45,26)"/>
<rect x="221.18" y="203.00" width="2.04" height="2.55" fill="rgb(79,74,29)"/>
<rect x="223.17" y="203.00" width="2.04" height="2.55" fill="rgb(77,80,44)"/>
<rect x="225.16" y="203.00" width="2.04" height="2.55" fill="rgb(68,78,28)"/>
<rect x="227.14" y="203.00" width="2.04" height="2.55" fill="rgb(73,49,10)"/>
<rect x="229.13" y="203.00" width="2.04" height="2.55" fill="rgb(73,64,25)"/>
<rect x="231.12" y="203.00" width="2.04" height="2.55" fill="rgb(81,48,27)"/>
<rect x="233.11" y="203.00" width="2.04" height="2.55" fill="rgb(90,49,29)"/>
<rect x="235.10" y="203.00" width="2.04" height="2.55" fill="rgb(72,59,20)"/>
<rect x="237.09" y="203.00" width="2.04" height="2.55" fill="rgb(78,53,28)"/>
<rect x="239.08" y="203.00" width="2.04" height="2.55" fill="rgb(48,102,46)"/>
<rect x="241.07" y="203.00" width="2.04" height="2.55" fill="rgb(118,55,25)"/>
<rect x="243.06" y="203.00" width="2.04" height="2.55" fill="rgb(67,45,22)"/>
<rect x="245.04" y="203.00" width="2.04" height="2.55" fill="rgb(57,75,32)"/>
<rect x="247.03" y="203.00" width="2.04" height="2.55" fill="rgb(78,60,27)"/>
<rect x="249.02" y="203.00" width="2.04" height="2.55" fill="rgb(69,81,47)"/>
<rect x="251.01" y="203.00" width="2.04" height="2.55" fill="rgb(81,64,31)"/>
<rect x="74.00" y="205.50" width="2.04" height="2.55" fill="rgb(59,59,17)"/>
<rect x="75.99" y="205.50" width="2.04" height="2.55" fill="rgb(47,52,24)"/>
<rect x="77.98" y="205.50" width="2.04" height="2.55" fill="rgb(61,59,19)"/>
<rect x="79.97" y="205.50" width="2.04" height="2.55" fill="rgb(69,37,16)"/>
<rect x="81.96" y="205.50" width="2.04" height="2.55" fill="rgb(56,61,29)"/>
<rect x="83.94" y="205.50" width="2.04" height="2.55" fill="rgb(51,83,23)"/>
<rect x="85.93" y="205.50" width="2.04" height="2.55" fill="rgb(88,57,18)"/>
<rect x="87.92" y="205.50" width="2.04" height="2.55" fill="rgb(76,39,8)"/>
<rect x="89.91" y="205.50" width="2.04" height="2.55" fill="rgb(66,45,19)"/>
<rect x="91.90" y="205.50" width="2.04" height="2.55" fill="rgb(59,84,41)"/>
<rect x="93.89" y="205.50" width="2.04" height="2.55" fill="rgb(58,88,21)"/>
<rect x="95.88" y="205.50" width="2.04" height="2.55" fill="rgb(65,53,16)"/>
<rect x="97.87" y="205.50" width="2.04" height="2.55" fill="rgb(70,37,17)"/>
<rect x="99.86" y="205.50" width="2.04" height="2.55" fill="rgb(92,44,26)"/>
<rect x="101.84" y="205.50" width="2.04" height="2.55" fill="rgb(71,39,12)"/>
<rect x="103.83" y="205.50" width="2.04" height="2.55" fill="rgb(61,68,30)"/>
<rect x="105.82" y="205.50" width="2.04" height="2.55" fill="rgb(68,40,25)"/>
<rect x="107.81" y="205.50" width="2.04" height="2.55" fill="rgb(61,82,31)"/>
<rect x="109.80" y="205.50" width="2.04" height="2.55" fill="rgb(50,44,23)"/>
<rect x="111.79" y="205.50" width="2.04" height="2.55" fill="rgb(81,44,28)"/>
<rect x="113.78" y="205.50" width="2.04" height="2.55" fill="rgb(83,57,24)"/>
<rect x="115.77" y="205.50" width="2.04" height="2.55" fill="rgb(84,27,31)"/>
<rect x="117.76" y="205.50" width="2.04" height="2.55" fill="rgb(45,51,4)"/>
<rect x="119.74" y="205.50" width="2.04" height="2.55" fill="rgb(79,64,19)"/>
<rect x="121.73" y="205.50" width="2.04" height="2.55" fill="rgb(60,55,22)"/>
<rect x="123.72" y="205.50" width="2.04" height="2.55" fill="rgb(72,74,29)"/>
<rect x="125.71" y="205.50" width="2.04" height="2.55" fill="rgb(82,51,20)"/>
<rect x="127.70" y="205.50" width="2.04" height="2.55" fill="rgb(69,49,20)"/>
<rect x="129.69" y="205.50" width="2.04" height="2.55" fill="rgb(61,80,37)"/>
<rect x="131.68" y="205.50" width="2.04" height="2.55" fill="rgb(62,66,29)"/>
<rect x="133.67" y="205.50" width="2.04" height="2.55" fill="rgb(91,48,27)"/>
<rect x="135.66" y="205.50" width="2.04" height="2.55" fill="rgb(66,57,25)"/>
<rect x="137.64" y="205.50" width="2.04" height="2.55" fill="rgb(56,61,22)"/>
<rect x="139.63" y="205.50" width="2.04" height="2.55" fill="rgb(51,61,17)"/>
<rect x="141.62" y="205.50" width="2.04" height="2.55" fill="rgb(70,72,25)"/>
<rect x="143.61" y="205.50" width="2.04" height="2.55" fill="rgb(60,76,17)"/>
<rect x="145.60" y="205.50" width="2.04" height="2.55" fill="rgb(60,80,31)"/>
<rect x="147.59" y="205.50" width="2.04" height="2.55" fill="rgb(70,57,33)"/>
<rect x="149.58" y="205.50" width="2.04" height="2.55" fill="rgb(79,63,21)"/>
<rect x="151.57" y="205.50" width="2.04" height="2.55" fill="rgb(92,42,15)"/>
<rect x="153.56" y="205.50" width="2.04" height="2.55" fill="rgb(74,28,24)"/>
<rect x="155.54" y="205.50" width="2.04" height="2.55" fill="rgb(73,45,20)"/>
<rect x="157.53" y="205.50" width="2.04" height="2.55" fill="rgb(69,61,19)"/>
<rect x="159.52" y="205.50" width="2.04" height="2.55" fill="rgb(46,81,21)"/>
<rect x="161.51" y="205.50" width="2.04" height="2.55" fill="rgb(82,71,34)"/>
<rect x="163.50" y="205.50" width="2.04" height="2.55" fill="rgb(62,68,37)"/>
<rect x="165.49" y="205.50" width="2.04" height="2.55" fill="rgb(61,68,25)"/>
<rect x="167.48" y="205.50" width="2.04" height="2.55" fill="rgb(63,94,32)"/>
<rect x="169.47" y="205.50" width="2.04" height="2.55" fill="rgb(74,94,33)"/>
<rect x="171.46" y="205.50" width="2.04" height="2.55" fill="rgb(52,66,16)"/>
<rect x="173.44" y="205.50" width="2.04" height="2.55" fill="rgb(45,49,25)"/>
<rect x="175.43" y="205.50" width="2.04" height="2.55" fill="rgb(87,46,22)"/>
<rect x="177.42" y="205.50" width="2.04" height="2.55" fill="rgb(65,55,13)"/>
<rect x="179.41" y="205.50" width="2.04" height="2.55" fill="rgb(62,79,28)"/>
<rect x="181.40" y="205.50" width="2.04" height="2.55" fill="rgb(83,63,30)"/>
<rect x="183.39" y="205.50" width="2.04" height="2.55" fill="rgb(52,67,28)"/>
<rect x="185.38" y="205.50" width="2.04" height="2.55" fill="rgb(44,72,33)"/>
<rect x="187.37" y="205.50" width="2.04" height="2.55" fill="rgb(58,64,32)"/>
<rect x="189.36" y="205.50" width="2.04" height="2.55" fill="rgb(61,61,25)"/>
<rect x="191.34" y="205.50" width="2.04" height="2.55" fill="rgb(57,55,17)"/>
<rect x="193.33" y="205.50" width="2.04" height="2.55" fill="rgb(56,58,31)"/>
<rect x="195.32" y="205.50" width="2.04" height="2.55" fill="rgb(56,58,27)"/>
<rect x="197.31" y="205.50" width="2.04" height="2.55" fill="rgb(43,70,21)"/>
<rect x="199.30" y="205.50" width="2.04" height="2.55" fill="rgb(68,71,29)"/>
<rect x="201.29" y="205.50" width="2.04" height="2.55" fill="rgb(63,54,12)"/>
<rect x="203.28" y="205.50" width="2.04" height="2.55" fill="rgb(66,102,37)"/>
<rect x="205.27" y="205.50" width="2.04" height="2.55" fill="rgb(53,42,23)"/>
<rect x="207.26" y="205.50" width="2.04" height="2.55" fill="rgb(66,56,31)"/>
<rect x="209.24" y="205.50" width="2.04" height="2.55" fill="rgb(62,68,31)"/>
<rect x="211.23" y="205.50" width="2.04" height="2.55" fill="rgb(69,85,32)"/>
<rect x="213.22" y="205.50" width="2.04" height="2.55" fill="rgb(59,76,38)"/>
<rect x="215.21" y="205.50" width="2.04" height="2.55" fill="rgb(46,77,42)"/>
<rect x="217.20" y="205.50" width="2.04" height="2.55" fill="rgb(57,74,22)"/>
<rect x="219.19" y="205.50" width="2.04" height="2.55" fill="rgb(66,76,26)"/>
<rect x="221.18" y="205.50" width="2.04" height="2.55" fill="rgb(46,69,7)"/>
<rect x="223.17" y="205.50" width="2.04" height="2.55" fill="rgb(70,61,15)"/>
<rect x="225.16" y="205.50" width="2.04" height="2.55" fill="rgb(67,64,25)"/>
<rect x="227.14" y="205.50" width="2.04" height="2.55" fill="rgb(71,86,34)"/>
<rect x="229.13" y="205.50" width="2.04" height="2.55" fill="rgb(81,94,45)"/>
<rect x="231.12" y="205.50" width="2.04" height="2.55" fill="rgb(63,105,45)"/>
<rect x="233.11" y="205.50" width="2.04" height="2.55" fill="rgb(56,59,27)"/>
<rect x="235.10" y="205.50" width="2.04" height="2.55" fill="rgb(56,73,31)"/>
<rect x="237.09" y="205.50" width="2.04" height="2.55" fill="rgb(58,71,35)"/>
<rect x="239.08" y="205.50" width="2.04" height="2.55" fill="rgb(48,62,22)"/>
<rect x="241.07" y="205.50" width="2.04" height="2.55" fill="rgb(56,69,27)"/>
<rect x="243.06" y="205.50" width="2.04" height="2.55" fill="rgb(59,94,35)"/>
<rect x="245.04" y="205.50" width="2.04" height="2.55" fill="rgb(67,87,32)"/>
<rect x="247.03" y="205.50" width="2.04" height="2.55" fill="rgb(49,90,45)"/>
<rect x="249.02" y="205.50" width="2.04" height="2.55" fill="rgb(44,102,34)"/>
<rect x="251.01" y="205.50" width="2.04" height="2.55" fill="rgb(51,106,41)"/>
<rect x="74.00" y="208.00" width="2.04" height="2.55" fill="rgb(93,55,22)"/>
<rect x="75.99" y="208.00" width="2.04" height="2.55" fill="rgb(83,66,17)"/>
<rect x="77.98" y="208.00" width="2.04" height="2.55" fill="rgb(86,57,33)"/>
<rect x="79.97" y="208.00" width="2.04" height="2.55" fill="rgb(85,37,27)"/>
<rect x="81.96" y="208.00" width="2.04" height="2.55" fill="rgb(74,58,7)"/>
<rect x="83.94" y="208.00" width="2.04" height="2.55" fill="rgb(74,31,14)"/>
<rect x="85.93" y="208.00" width="2.04" height="2.55" fill="rgb(94,47,25)"/>
<rect x="87.92" y="208.00" width="2.04" height="2.55" fill="rgb(98,49,24)"/>
<rect x="89.91" y="208.00" width="2.04" height="2.55" fill="rgb(80,56,22)"/>
<rect x="91.90" y="208.00" width="2.04" height="2.55" fill="rgb(88,45,29)"/>
<rect x="93.89" y="208.00" width="2.04" height="2.55" fill="rgb(92,55,22)"/>
<rect x="95.88" y="208.00" width="2.04" height="2.55" fill="rgb(75,66,20)"/>
<rect x="97.87" y="208.00" width="2.04" height="2.55" fill="rgb(99,52,17)"/>
<rect x="99.86" y="208.00" width="2.04" height="2.55" fill="rgb(89,44,16)"/>
<rect x="101.84" y="208.00" width="2.04" height="2.55" fill="rgb(63,53,34)"/>
<rect x="103.83" y="208.00" width="2.04" height="2.55" fill="rgb(80,65,31)"/>
<rect x="105.82" y="208.00" width="2.04" height="2.55" fill="rgb(95,64,30)"/>
<rect x="107.81" y="208.00" width="2.04" height="2.55" fill="rgb(68,61,33)"/>
<rect x="109.80" y="208.00" width="2.04" height="2.55" fill="rgb(71,50,22)"/>
<rect x="111.79" y="208.00" width="2.04" height="2.55" fill="rgb(81,47,15)"/>
<rect x="113.78" y="208.00" width="2.04" height="2.55" fill="rgb(66,64,23)"/>
<rect x="115.77" y="208.00" width="2.04" height="2.55" fill="rgb(84,55,25)"/>
<rect x="117.76" y="208.00" width="2.04" height="2.55" fill="rgb(96,42,15)"/>
<rect x="119.74" y="208.00" width="2.04" height="2.55" fill="rgb(76,45,18)"/>
<rect x="121.73" y="208.00" width="2.04" height="2.55" fill="rgb(104,56,20)"/>
<rect x="123.72" y="208.00" width="2.04" height="2.55" fill="rgb(82,46,28)"/>
<rect x="125.71" y="208.00" width="2.04" height="2.55" fill="rgb(94,21,19)"/>
<rect x="127.70" y="208.00" width="2.04" height="2.55" fill="rgb(82,70,24)"/>
<rect x="129.69" y="208.00" width="2.04" height="2.55" fill="rgb(69,66,24)"/>
<rect x="131.68" y="208.00" width="2.04" height="2.55" fill="rgb(97,34,12)"/>
<rect x="133.67" y="208.00" width="2.04" height="2.55" fill="rgb(129,27,23)"/>
<rect x="135.66" y="208.00" width="2.04" height="2.55" fill="rgb(74,60,26)"/>
<rect x="137.64" y="208.00" width="2.04" height="2.55" fill="rgb(70,65,22)"/>
<rect x="139.63" y="208.00" width="2.04" height="2.55" fill="rgb(89,47,30)"/>
<rect x="141.62" y="208.00" width="2.04" height="2.55" fill="rgb(70,58,6)"/>
<rect x="143.61" y="208.00" width="2.04" height="2.55" fill="rgb(75,53,34)"/>
<rect x="145.60" y="208.00" width="2.04" height="2.55" fill="rgb(72,72,31)"/>
<rect x="147.59" y="208.00" width="2.04" height="2.55" fill="rgb(90,50,20)"/>
<rect x="149.58" y="208.00" width="2.04" height="2.55" fill="rgb(51,71,34)"/>
<rect x="151.57" y="208.00" width="2.04" height="2.55" fill="rgb(90,57,26)"/>
<rect x="153.56" y="208.00" width="2.04" height="2.55" fill="rgb(91,54,22)"/>
<rect x="155.54" y="208.00" width="2.04" height="2.55" fill="rgb(106,43,21)"/>
<rect x="157.53" y="208.00" width="2.04" height="2.55" fill="rgb(84,56,27)"/>
<rect x="159.52" y="208.00" width="2.04" height="2.55" fill="rgb(104,50,15)"/>
<rect x="161.51" y="208.00" width="2.04" height="2.55" fill="rgb(78,44,24)"/>
<rect x="163.50" y="208.00" width="2.04" height="2.55" fill="rgb(70,67,31)"/>
<rect x="165.49" y="208.00" width="2.04" height="2.55" fill="rgb(78,66,10)"/>
<rect x="167.48" y="208.00" width="2.04" height="2.55" fill="rgb(80,62,27)"/>
<rect x="169.47" y="208.00" width="2.04" height="2.55" fill="rgb(84,53,15)"/>
<rect x="171.46" y="208.00" width="2.04" height="2.55" fill="rgb(74,85,34)"/>
<rect x="173.44" y="208.00" width="2.04" height="2.55" fill="rgb(87,59,16)"/>
<rect x="175.43" y="208.00" width="2.04" height="2.55" fill="rgb(67,56,15)"/>
<rect x="177.42" y="208.00" width="2.04" height="2.55" fill="rgb(96,61,30)"/>
<rect x="179.41" y="208.00" width="2.04" height="2.55" fill="rgb(71,48,31)"/>
<rect x="181.40" y="208.00" width="2.04" height="2.55" fill="rgb(57,48,27)"/>
<rect x="183.39" y="208.00" width="2.04" height="2.55" fill="rgb(80,53,25)"/>
<rect x="185.38" y="208.00" width="2.04" height="2.55" fill="rgb(81,54,21)"/>
<rect x="187.37" y="208.00" width="2.04" height="2.55" fill="rgb(63,61,21)"/>
<rect x="189.36" y="208.00" width="2.04" height="2.55" fill="rgb(78,49,27)"/>
<rect x="191.34" y="208.00" width="2.04" height="2.55" fill="rgb(81,54,22)"/>
<rect x="193.33" y="208.00" width="2.04" height="2.55" fill="rgb(74,77,23)"/>
<rect x="195.32" y="208.00" width="2.04" height="2.55" fill="rgb(69,56,25)"/>
<rect x="197.31" y="208.00" width="2.04" height="2.55" fill="rgb(69,36,36)"/>
<rect x="199.30" y="208.00" width="2.04" height="2.55" fill="rgb(87,64,18)"/>
<rect x="201.29" y="208.00" width="2.04" height="2.55" fill="rgb(90,50,30)"/>
<rect x="203.28" y="208.00" width="2.04" height="2.55" fill="rgb(65,43,20)"/>
<rect x="205.27" y="208.00" width="2.04" height="2.55" fill="rgb(77,63,31)"/>
<rect x="207.26" y="208.00" width="2.04" height="2.55" fill="rgb(84,52,24)"/>
<rect x="209.24" y="208.00" width="2.04" height="2.55" fill="rgb(63,61,31)"/>
<rect x="211.23" y="208.00" width="2.04" height="2.55" fill="rgb(71,54,25)"/>
<rect x="213.22" y="208.00" width="2.04" height="2.55" fill="rgb(55,61,15)"/>
<rect x="215.21" y="208.00" width="2.04" height="2.55" fill="rgb(52,50,27)"/>
<rect x="217.20" y="208.00" width="2.04" height="2.55" fill="rgb(49,92,32)"/>
<rect x="219.19" y="208.00" width="2.04" height="2.55" fill="rgb(61,66,24)"/>
<rect x="221.18" y="208.00" width="2.04" height="2.55" fill="rgb(81,60,24)"/>
<rect x="223.17" y="208.00" width="2.04" height="2.55" fill="rgb(77,60,25)"/>
<rect x="225.16" y="208.00" width="2.04" height="2.55" fill="rgb(60,54,28)"/>
<rect x="227.14" y="208.00" width="2.04" height="2.55" fill="rgb(67,93,38)"/>
<rect x="229.13" y="208.00" width="2.04" height="2.55" fill="rgb(91,41,14)"/>
<rect x="231.12" y="208.00" width="2.04" height="2.55" fill="rgb(83,55,12)"/>
<rect x="233.11" y="208.00" width="2.04" height="2.55" fill="rgb(69,67,35)"/>
<rect x="235.10" y="208.00" width="2.04" height="2.55" fill="rgb(51,30,13)"/>
<rect x="237.09" y="208.00" width="2.04" height="2.55" fill="rgb(67,83,38)"/>
<rect x="239.08" y="208.00" width="2.04" height="2.55" fill="rgb(75,70,36)"/>
<rect x="241.07" y="208.00" width="2.04" height="2.55" fill="rgb(77,69,31)"/>
<rect x="243.06" y="208.00" width="2.04" height="2.55" fill="rgb(59,49,15)"/>
<rect x="245.04" y="208.00" width="2.04" height="2.55" fill="rgb(87,42,26)"/>
<rect x="247.03" y="208.00" width="2.04" height="2.55" fill="rgb(72,65,34)"/>
<rect x="249.02" y="208.00" width="2.04" height="2.55" fill="rgb(77,32,28)"/>
<rect x="251.01" y="208.00" width="2.04" height="2.55" fill="rgb(70,61,33)"/>
<rect x="74.00" y="210.50" width="2.04" height="2.55" fill="rgb(71,42,27)"/>
<rect x="75.99" y="210.50" width="2.04" height="2.55" fill="rgb(58,38,15)"/>
<rect x="77.98" y="210.50" width="2.04" height="2.55" fill="rgb(60,42,12)"/>
<rect x="79.97" y="210.50" width="2.04" height="2.55" fill="rgb(55,67,29)"/>
<rect x="81.96" y="210.50" width="2.04" height="2.55" fill="rgb(44,66,24)"/>
<rect x="83.94" y="210.50" width="2.04" height="2.55" fill="rgb(62,53,14)"/>
<rect x="85.93" y="210.50" width="2.04" height="2.55" fill="rgb(61,40,18)"/>
<rect x="87.92" y="210.50" width="2.04" height="2.55" fill="rgb(71,38,25)"/>
<rect x="89.91" y="210.50" width="2.04" height="2.55" fill="rgb(56,57,15)"/>
<rect x="91.90" y="210.50" width="2.04" height="2.55" fill="rgb(87,17,21)"/>
<rect x="93.89" y="210.50" width="2.04" height="2.55" fill="rgb(59,28,7)"/>
<rect x="95.88" y="210.50" width="2.04" height="2.55" fill="rgb(62,35,13)"/>
<rect x="97.87" y="210.50" width="2.04" height="2.55" fill="rgb(58,46,18)"/>
<rect x="99.86" y="210.50" width="2.04" height="2.55" fill="rgb(55,54,19)"/>
<rect x="101.84" y="210.50" width="2.04" height="2.55" fill="rgb(114,24,31)"/>
<rect x="103.83" y="210.50" width="2.04" height="2.55" fill="rgb(95,25,12)"/>
<rect x="105.82" y="210.50" width="2.04" height="2.55" fill="rgb(63,29,17)"/>
<rect x="107.81" y="210.50" width="2.04" height="2.55" fill="rgb(59,60,26)"/>
<rect x="109.80" y="210.50" width="2.04" height="2.55" fill="rgb(64,31,19)"/>
<rect x="111.79" y="210.50" width="2.04" height="2.55" fill="rgb(63,29,14)"/>
<rect x="113.78" y="210.50" width="2.04" height="2.55" fill="rgb(63,36,32)"/>
<rect x="115.77" y="210.50" width="2.04" height="2.55" fill="rgb(59,45,19)"/>
<rect x="117.76" y="210.50" width="2.04" height="2.55" fill="rgb(44,41,18)"/>
<rect x="119.74" y="210.50" width="2.04" height="2.55" fill="rgb(68,59,23)"/>
<rect x="121.73" y="210.50" width="2.04" height="2.55" fill="rgb(74,34,12)"/>
<rect x="123.72" y="210.50" width="2.04" height="2.55" fill="rgb(62,43,6)"/>
<rect x="125.71" y="210.50" width="2.04" height="2.55" fill="rgb(64,30,16)"/>
<rect x="127.70" y="210.50" width="2.04" height="2.55" fill="rgb(76,42,26)"/>
<rect x="129.69" y="210.50" width="2.04" height="2.55" fill="rgb(68,34,7)"/>
<rect x="131.68" y="210.50" width="2.04" height="2.55" fill="rgb(71,60,16)"/>
<rect x="133.67" y="210.50" width="2.04" height="2.55" fill="rgb(62,24,22)"/>
<rect x="135.66" y="210.50" width="2.04" height="2.55" fill="rgb(38,60,28)"/>
<rect x="137.64" y="210.50" width="2.04" height="2.55" fill="rgb(66,48,24)"/>
<rect x="139.63" y="210.50" width="2.04" height="2.55" fill="rgb(67,58,26)"/>
<rect x="141.62" y="210.50" width="2.04" height="2.55" fill="rgb(65,41,14)"/>
<rect x="143.61" y="210.50" width="2.04" height="2.55" fill="rgb(52,44,26)"/>
<rect x="145.60" y="210.50" width="2.04" height="2.55" fill="rgb(61,52,21)"/>
<rect x="147.59" y="210.50" width="2.04" height="2.55" fill="rgb(72,68,35)"/>
<rect x="149.58" y="210.50" width="2.04" height="2.55" fill="rgb(81,41,9)"/>
<rect x="151.57" y="210.50" width="2.04" height="2.55" fill="rgb(67,27,21)"/>
<rect x="153.56" y="210.50" width="2.04" height="2.55" fill="rgb(70,58,16)"/>
<rect x="155.54" y="210.50" width="2.04" height="2.55" fill="rgb(53,41,12)"/>
<rect x="157.53" y="210.50" width="2.04" height="2.55" fill="rgb(59,39,12)"/>
<rect x="159.52" y="210.50" width="2.04" height="2.55" fill="rgb(46,41,11)"/>
<rect x="161.51" y="210.50" width="2.04" height="2.55" fill="rgb(52,51,21)"/>
<rect x="163.50" y="210.50" width="2.04" height="2.55" fill="rgb(63,44,22)"/>
<rect x="165.49" y="210.50" width="2.04" height="2.55" fill="rgb(54,44,19)"/>
<rect x="167.48" y="210.50" width="2.04" height="2.55" fill="rgb(76,38,16)"/>
<rect x="169.47" y="210.50" width="2.04" height="2.55" fill="rgb(47,39,11)"/>
<rect x="171.46" y="210.50" width="2.04" height="2.55" fill="rgb(61,65,21)"/>
<rect x="173.44" y="210.50" width="2.04" height="2.55" fill="rgb(55,33,14)"/>
<rect x="175.43" y="210.50" width="2.04" height="2.55" fill="rgb(59,37,20)"/>
<rect x="177.42" y="210.50" width="2.04" height="2.55" fill="rgb(65,43,31)"/>
<rect x="179.41" y="210.50" width="2.04" height="2.55" fill="rgb(49,83,41)"/>
<rect x="181.40" y="210.50" width="2.04" height="2.55" fill="rgb(56,29,13)"/>
<rect x="183.39" y="210.50" width="2.04" height="2.55" fill="rgb(50,49,25)"/>
<rect x="185.38" y="210.50" width="2.04" height="2.55" fill="rgb(41,80,25)"/>
<rect x="187.37" y="210.50" width="2.04" height="2.55" fill="rgb(88,30,17)"/>
<rect x="189.36" y="210.50" width="2.04" height="2.55" fill="rgb(55,39,20)"/>
<rect x="191.34" y="210.50" width="2.04" height="2.55" fill="rgb(69,39,26)"/>
<rect x="193.33" y="210.50" width="2.04" height="2.55" fill="rgb(56,33,23)"/>
<rect x="195.32" y="210.50" width="2.04" height="2.55" fill="rgb(64,36,16)"/>
<rect x="197.31" y="210.50" width="2.04" height="2.55" fill="rgb(61,45,17)"/>
<rect x="199.30" y="210.50" width="2.04" height="2.55" fill="rgb(80,47,13)"/>
<rect x="201.29" y="210.50" width="2.04" height="2.55" fill="rgb(47,62,23)"/>
<rect x="203.28" y="210.50" width="2.04" height="2.55" fill="rgb(51,60,22)"/>
<rect x="205.27" y="210.50" width="2.04" height="2.55" fill="rgb(56,56,21)"/>
<rect x="207.26" y="210.50" width="2.04" height="2.55" fill="rgb(59,52,19)"/>
<rect x="209.24" y="210.50" width="2.04" height="2.55" fill="rgb(54,44,23)"/>
<rect x="211.23" y="210.50" width="2.04" height="2.55" fill="rgb(70,47,27)"/>
<rect x="213.22" y="210.50" width="2.04" height="2.55" fill="rgb(50,62,22)"/>
<rect x="215.21" y="210.50" width="2.04" height="2.55" fill="rgb(52,65,16)"/>
<rect x="217.20" y="210.50" width="2.04" height="2.55" fill="rgb(83,53,16)"/>
<rect x="219.19" y="210.50" width="2.04" height="2.55" fill="rgb(54,36,10)"/>
<rect x="221.18" y="210.50" width="2.04" height="2.55" fill="rgb(52,63,29)"/>
<rect x="223.17" y="210.50" width="2.04" height="2.55" fill="rgb(61,65,30)"/>
<rect x="225.16" y="210.50" width="2.04" height="2.55" fill="rgb(77,44,20)"/>
<rect x="227.14" y="210.50" width="2.04" height="2.55" fill="rgb(47,54,22)"/>
<rect x="229.13" y="210.50" width="2.04" height="2.55" fill="rgb(43,69,25)"/>
<rect x="231.12" y="210.50" width="2.04" height="2.55" fill="rgb(33,55,13)"/>
<rect x="233.11" y="210.50" width="2.04" height="2.55" fill="rgb(63,59,32)"/>
<rect x="235.10" y="210.50" width="2.04" height="2.55" fill="rgb(65,74,21)"/>
<rect x="237.09" y="210.50" width="2.04" height="2.55" fill="rgb(48,50,16)"/>
<rect x="239.08" y="210.50" width="2.04" height="2.55" fill="rgb(60,60,30)"/>
<rect x="241.07" y="210.50" width="2.04" height="2.55" fill="rgb(59,44,16)"/>
<rect x="243.06" y="210.50" width="2.04" height="2.55" fill="rgb(68,67,36)"/>
<rect x="245.04" y="210.50" width="2.04" height="2.55" fill="rgb(60,42,24)"/>
<rect x="247.03" y="210.50" width="2.04" height="2.55" fill="rgb(67,35,26)"/>
<rect x="249.02" y="210.50" width="2.04" height="2.55" fill="rgb(66,43,20)"/>
<rect x="251.01" y="210.50" width="2.04" height="2.55" fill="rgb(75,40,17)"/>
<rect x="74.00" y="168" width="0.5" height="45" fill="#d8c080" fill-opacity="0.12"/>
<rect x="77.98" y="168" width="0.5" height="45" fill="#d8c080" fill-opacity="0.12"/>
<rect x="81.96" y="168" width="0.5" height="45" fill="#d8c080" fill-opacity="0.12"/>
<rect x="85.93" y="168" width="0.5" height="45" fill="#d8c080" fill-opacity="0.12"/>
<rect x="89.91" y="168" width="0.5" height="45" fill="#d8c080" fill-opacity="0.12"/>
<rect x="93.89" y="168" width="0.5" height="45" fill="#d8c080" fill-opacity="0.12"/>
<rect x="97.87" y="168" width="0.5" height="45" fill="#d8c080" fill-opacity="0.12"/>
<rect x="101.84" y="168" width="0.5" height="45" fill="#d8c080" fill-opacity="0.12"/>
<rect x="105.82" y="168" width="0.5" height="45" fill="#d8c080" fill-opacity="0.12"/>
<rect x="109.80" y="168" width="0.5" height="45" fill="#d8c080" fill-opacity="0.12"/>
<rect x="113.78" y="168" width="0.5" height="45" fill="#d8c080" fill-opacity="0.12"/>
<rect x="117.76" y="168" width="0.5" height="45" fill="#d8c080" fill-opacity="0.12"/>
<rect x="121.73" y="168" width="0.5" height="45" fill="#d8c080" fill-opacity="0.12"/>
<rect x="125.71" y="168" width="0.5" height="45" fill="#d8c080" fill-opacity="0.12"/>
<rect x="129.69" y="168" width="0.5" height="45" fill="#d8c080" fill-opacity="0.12"/>
<rect x="133.67" y="168" width="0.5" height="45" fill="#d8c080" fill-opacity="0.12"/>
<rect x="137.64" y="168" width="0.5" height="45" fill="#d8c080" fill-opacity="0.12"/>
<rect x="141.62" y="168" width="0.5" height="45" fill="#d8c080" fill-opacity="0.12"/>
<rect x="145.60" y="168" width="0.5" height="45" fill="#d8c080" fill-opacity="0.12"/>
<rect x="149.58" y="168" width="0.5" height="45" fill="#d8c080" fill-opacity="0.12"/>
<rect x="153.56" y="168" width="0.5" height="45" fill="#d8c080" fill-opacity="0.12"/>
<rect x="157.53" y="168" width="0.5" height="45" fill="#d8c080" fill-opacity="0.12"/>
<rect x="161.51" y="168" width="0.5" height="45" fill="#d8c080" fill-opacity="0.12"/>
<rect x="165.49" y="168" width="0.5" height="45" fill="#d8c080" fill-opacity="0.12"/>
<rect x="169.47" y="168" width="0.5" height="45" fill="#d8c080" fill-opacity="0.12"/>
<rect x="173.44" y="168" width="0.5" height="45" fill="#d8c080" fill-opacity="0.12"/>
<rect x="177.42" y="168" width="0.5" height="45" fill="#d8c080" fill-opacity="0.12"/>
<rect x="181.40" y="168" width="0.5" height="45" fill="#d8c080" fill-opacity="0.12"/>
<rect x="185.38" y="168" width="0.5" height="45" fill="#d8c080" fill-opacity="0.12"/>
<rect x="189.36" y="168" width="0.5" height="45" fill="#d8c080" fill-opacity="0.12"/>
<rect x="193.33" y="168" width="0.5" height="45" fill="#d8c080" fill-opacity="0.12"/>
<rect x="197.31" y="168" width="0.5" height="45" fill="#d8c080" fill-opacity="0.12"/>
<rect x="201.29" y="168" width="0.5" height="45" fill="#d8c080" fill-opacity="0.12"/>
<rect x="205.27" y="168" width="0.5" height="45" fill="#d8c080" fill-opacity="0.12"/>
<rect x="209.24" y="168" width="0.5" height="45" fill="#d8c080" fill-opacity="0.12"/>
<rect x="213.22" y="168" width="0.5" height="45" fill="#d8c080" fill-opacity="0.12"/>
<rect x="217.20" y="168" width="0.5" height="45" fill="#d8c080" fill-opacity="0.12"/>
<rect x="221.18" y="168" width="0.5" height="45" fill="#d8c080" fill-opacity="0.12"/>
<rect x="225.16" y="168" width="0.5" height="45" fill="#d8c080" fill-opacity="0.12"/>
<rect x="229.13" y="168" width="0.5" height="45" fill="#d8c080" fill-opacity="0.12"/>
<rect x="233.11" y="168" width="0.5" height="45" fill="#d8c080" fill-opacity="0.12"/>
<rect x="237.09" y="168" width="0.5" height="45" fill="#d8c080" fill-opacity="0.12"/>
<rect x="241.07" y="168" width="0.5" height="45" fill="#d8c080" fill-opacity="0.12"/>
<rect x="245.04" y="168" width="0.5" height="45" fill="#d8c080" fill-opacity="0.12"/>
<rect x="249.02" y="168" width="0.5" height="45" fill="#d8c080" fill-opacity="0.12"/>
<rect x="74" y="170.25" width="179" height="0.5" fill="#d8c080" fill-opacity="0.08"/>
<rect x="74" y="172.75" width="179" height="0.5" fill="#d8c080" fill-opacity="0.08"/>
<rect x="74" y="175.25" width="179" height="0.5" fill="#d8c080" fill-opacity="0.08"/>
<rect x="74" y="177.75" width="179" height="0.5" fill="#d8c080" fill-opacity="0.08"/>
<rect x="74" y="180.25" width="179" height="0.5" fill="#d8c080" fill-opacity="0.08"/>
<rect x="74" y="182.75" width="179" height="0.5" fill="#d8c080" fill-opacity="0.08"/>
<rect x="74" y="185.25" width="179" height="0.5" fill="#d8c080" fill-opacity="0.08"/>
<rect x="74" y="187.75" width="179" height="0.5" fill="#d8c080" fill-opacity="0.08"/>
<rect x="74" y="190.25" width="179" height="0.5" fill="#d8c080" fill-opacity="0.08"/>
<rect x="74" y="192.75" width="179" height="0.5" fill="#d8c080" fill-opacity="0.08"/>
<rect x="74" y="195.25" width="179" height="0.5" fill="#d8c080" fill-opacity="0.08"/>
<rect x="74" y="197.75" width="179" height="0.5" fill="#d8c080" fill-opacity="0.08"/>
<rect x="74" y="200.25" width="179" height="0.5" fill="#d8c080" fill-opacity="0.08"/>
<rect x="74" y="202.75" width="179" height="0.5" fill="#d8c080" fill-opacity="0.08"/>
<rect x="74" y="205.25" width="179" height="0.5" fill="#d8c080" fill-opacity="0.08"/>
<rect x="74" y="207.75" width="179" height="0.5" fill="#d8c080" fill-opacity="0.08"/>
<rect x="74" y="210.25" width="179" height="0.5" fill="#d8c080" fill-opacity="0.08"/>
</g></g>
<line x1="165.70" y1="117.60" x2="165.70" y2="213.00" stroke="#ec8f2c" stroke-width="2.9" stroke-dasharray="9 8.3"/>
<text x="193" y="109.3" font-size="7.35" fill="#1a1a1a">Tumors sorted by</text>
<text x="193" y="116.4" font-size="7.35" fill="#1a1a1a">all MYC ES targets:</text>
<text x="193" y="123.8" font-size="7.35" fill="#1a1a1a"><tspan font-style="italic">P</tspan> = 0.2</text>
<defs><linearGradient id="cb" x1="0" x2="1" y1="0" y2="0"><stop offset="0" stop-color="#1fc040"/><stop offset="0.5" stop-color="#000"/><stop offset="1" stop-color="#e01010"/></linearGradient></defs>
<rect x="229.60" y="155.60" width="18.00" height="3.80" fill="url(#cb)"/>
<text x="238.6" y="153.6" font-size="5.4" text-anchor="middle" fill="#1a1a1a">fold change</text>
<text x="228.4" y="166.0" font-size="5.8" text-anchor="middle" fill="#1a1a1a">-2</text>
<text x="248.1" y="166.0" font-size="5.8" text-anchor="middle" fill="#1a1a1a">2</text>
<text x="45.5" y="184.3" font-size="7.3" text-anchor="middle" fill="#1a1a1a">HT-29</text>
<text x="45.5" y="192.5" font-size="7.3" text-anchor="middle" fill="#1a1a1a">CDK8-induced</text>
<text x="45.5" y="200.7" font-size="7.3" text-anchor="middle" fill="#1a1a1a">MYC ES targets</text>
<text x="169.5" y="222.7" font-size="7.7" text-anchor="middle" fill="#1a1a1a">Human colon tumors</text>
<text x="13.7" y="240.3" font-size="12.3" font-weight="bold" fill="#000" style="stroke-width:0.5px">D</text>
<text x="61" y="245.4" font-size="6.45" text-anchor="middle" fill="#1a1a1a">Normal</text>
<text x="61" y="251.8" font-size="6.45" text-anchor="middle" fill="#1a1a1a">human colon</text>
<text x="121" y="245.4" font-size="6.45" text-anchor="middle" fill="#1a1a1a">Human</text>
<text x="121" y="251.8" font-size="6.45" text-anchor="middle" fill="#1a1a1a">colon tumors</text>
<text x="195" y="245.4" font-size="6.45" text-anchor="middle" fill="#1a1a1a">Metastatic human</text>
<text x="195" y="251.8" font-size="6.45" text-anchor="middle" fill="#1a1a1a">colon tumors</text>
<path d="M42,257.8 V255 H80 V257.8" fill="none" stroke="#000" stroke-width="1.4"/>
<path d="M85.7,257.8 V255 H156.5 V257.8" fill="none" stroke="#000" stroke-width="1.4"/>
<path d="M162,257.8 V255 H228 V257.8" fill="none" stroke="#000" stroke-width="1.4"/>
<defs><filter id="bf" x="-20%" y="-80%" width="140%" height="260%"><feGaussianBlur stdDeviation="0.55"/></filter><filter id="bf2" x="-20%" y="-80%" width="140%" height="260%"><feGaussianBlur stdDeviation="0.6"/></filter></defs>
<rect x="41.4" y="259.3" width="38.6" height="9.0" fill="#efefef"/>
<rect x="41.4" y="271.8" width="38.6" height="10.5" fill="#efefef"/>
<rect x="41.4" y="285.6" width="38.6" height="9.6" fill="#efefef"/>
<rect x="41.4" y="299.2" width="38.6" height="9.8" fill="#efefef"/>
<rect x="86.3" y="259.3" width="69.7" height="9.0" fill="#efefef"/>
<rect x="86.3" y="271.8" width="69.7" height="10.5" fill="#efefef"/>
<rect x="86.3" y="285.6" width="69.7" height="9.6" fill="#efefef"/>
<rect x="86.3" y="299.2" width="69.7" height="9.8" fill="#efefef"/>
<rect x="161.6" y="259.3" width="65.9" height="9.0" fill="#efefef"/>
<rect x="161.6" y="271.8" width="65.9" height="10.5" fill="#efefef"/>
<rect x="161.6" y="285.6" width="65.9" height="9.6" fill="#efefef"/>
<rect x="161.6" y="299.2" width="65.9" height="9.8" fill="#efefef"/>
<g filter="url(#bf)">
<rect x="44" y="262.55" width="16.0" height="1.3" rx="0.8" fill="rgb(195,195,195)"/>
<rect x="60" y="262.60" width="15.0" height="1.2" rx="0.8" fill="rgb(204,204,204)"/>
<rect x="76" y="261.45" width="2.5" height="1.5" rx="0.8" fill="rgb(190,190,190)"/>
<rect x="87" y="262.65" width="5.5" height="1.5" rx="0.8" fill="rgb(90,90,90)"/>
<rect x="95.5" y="262.95" width="4.0" height="1.3" rx="0.8" fill="rgb(119,119,119)"/>
<rect x="102" y="262.90" width="5.3" height="1.4" rx="0.8" fill="rgb(107,107,107)"/>
<rect x="108.8" y="262.90" width="5.5" height="1.4" rx="0.8" fill="rgb(99,99,99)"/>
<rect x="115.8" y="262.75" width="5.5" height="1.5" rx="0.8" fill="rgb(95,95,95)"/>
<rect x="120" y="262.55" width="4.7" height="1.3" rx="0.8" fill="rgb(154,154,154)"/>
<rect x="129.3" y="262.70" width="7.7" height="1.2" rx="0.8" fill="rgb(190,190,190)"/>
<rect x="138" y="263.00" width="17.0" height="1" rx="0.8" fill="rgb(218,218,218)"/>
<rect x="161.5" y="262.45" width="5.8" height="1.5" rx="0.8" fill="rgb(119,119,119)"/>
<rect x="168" y="262.80" width="21.0" height="1.2" rx="0.8" fill="rgb(209,209,209)"/>
<rect x="190" y="262.60" width="9.3" height="1.8" rx="0.8" fill="rgb(59,59,59)"/>
<rect x="199.3" y="262.60" width="5.5" height="1.8" rx="0.8" fill="rgb(71,71,71)"/>
<rect x="204.8" y="262.40" width="7.7" height="2.2" rx="0.8" fill="rgb(23,23,23)"/>
<rect x="214.8" y="262.75" width="6.2" height="1.5" rx="0.8" fill="rgb(142,142,142)"/>
<rect x="221" y="262.75" width="4.7" height="1.5" rx="0.8" fill="rgb(161,161,161)"/>
<rect x="96" y="275.50" width="14.0" height="1.6" rx="0.8" fill="rgb(202,202,202)"/>
<rect x="98.8" y="275.10" width="8.5" height="1.8" rx="0.8" fill="rgb(166,166,166)"/>
<rect x="193" y="275.40" width="4.8" height="1.8" rx="0.8" fill="rgb(178,178,178)"/>
<rect x="198.5" y="275.40" width="3.9" height="1.8" rx="0.8" fill="rgb(147,147,147)"/>
<rect x="204" y="275.10" width="7.0" height="2.2" rx="0.8" fill="rgb(95,95,95)"/>
<rect x="211.7" y="275.40" width="5.3" height="1.8" rx="0.8" fill="rgb(166,166,166)"/>
<rect x="218" y="275.60" width="6.0" height="1.6" rx="0.8" fill="rgb(178,178,178)"/>
<rect x="45.5" y="290.30" width="4.1" height="1.4" rx="0.8" fill="rgb(195,195,195)"/>
<rect x="87" y="288.50" width="4.8" height="1.4" rx="0.8" fill="rgb(178,178,178)"/>
<rect x="101.4" y="289.00" width="5.9" height="1.8" rx="0.8" fill="rgb(11,11,11)"/>
<rect x="108.8" y="289.25" width="3.9" height="1.5" rx="0.8" fill="rgb(83,83,83)"/>
<rect x="115.8" y="286.30" width="5.5" height="1.8" rx="0.8" fill="rgb(130,130,130)"/>
<rect x="129.3" y="286.65" width="6.2" height="1.3" rx="0.8" fill="rgb(202,202,202)"/>
<rect x="193" y="289.70" width="4.0" height="1.6" rx="0.8" fill="rgb(185,185,185)"/>
<rect x="199.3" y="289.50" width="3.9" height="2" rx="0.8" fill="rgb(130,130,130)"/>
<rect x="205.5" y="289.30" width="7.0" height="2.4" rx="0.8" fill="rgb(11,11,11)"/>
<rect x="213.3" y="289.30" width="6.2" height="2.4" rx="0.8" fill="rgb(23,23,23)"/>
<rect x="220.3" y="288.30" width="5.4" height="3.4" rx="0.8" fill="rgb(119,119,119)"/>
<rect x="53.5" y="302.30" width="15.5" height="1.0" rx="0.8" fill="rgb(199,199,199)"/>
<rect x="75" y="299.20" width="1.2" height="1.2" rx="0.8" fill="rgb(71,71,71)"/>
<rect x="99.5" y="302.60" width="12.5" height="1.2" rx="0.8" fill="rgb(202,202,202)"/>
<rect x="137" y="303.00" width="18.0" height="1.2" rx="0.8" fill="rgb(202,202,202)"/>
<rect x="143" y="303.20" width="10.0" height="1.2" rx="0.8" fill="rgb(190,190,190)"/>
<rect x="205.5" y="301.70" width="6.2" height="4.8" rx="0.8" fill="rgb(119,119,119)"/>
<rect x="213.3" y="302.35" width="6.2" height="2.5" rx="0.8" fill="rgb(171,171,171)"/>
<rect x="200" y="303.00" width="4.0" height="2" rx="0.8" fill="rgb(202,202,202)"/>
</g>
<defs><linearGradient id="stk" x1="0" y1="0" x2="0" y2="1"><stop offset="0" stop-color="#000" stop-opacity="0.15"/><stop offset="0.35" stop-color="#000" stop-opacity="0.8"/><stop offset="0.6" stop-color="#000" stop-opacity="1"/><stop offset="1" stop-color="#000" stop-opacity="0.3"/></linearGradient></defs>
<g filter="url(#bf)">
<rect x="44.2" y="272.6" width="2.4" height="9" fill="url(#stk)" fill-opacity="0.34"/>
<rect x="47.5" y="272.6" width="1.1" height="9" fill="url(#stk)" fill-opacity="0.23"/>
<rect x="55" y="272.6" width="2.5" height="9" fill="url(#stk)" fill-opacity="0.27"/>
<rect x="58.5" y="272.6" width="1.0" height="9" fill="url(#stk)" fill-opacity="0.18"/>
<rect x="64.4" y="272.6" width="2.4" height="9" fill="url(#stk)" fill-opacity="0.34"/>
<rect x="67.5" y="272.6" width="1.0" height="9" fill="url(#stk)" fill-opacity="0.23"/>
<rect x="70.6" y="272.6" width="2.6" height="9" fill="url(#stk)" fill-opacity="0.41"/>
<rect x="73.8" y="272.6" width="1.0" height="9" fill="url(#stk)" fill-opacity="0.32"/>
<rect x="76" y="272.6" width="2.6" height="9" fill="url(#stk)" fill-opacity="0.45"/>
<rect x="87" y="272.6" width="2.5" height="9" fill="url(#stk)" fill-opacity="0.32"/>
<rect x="92.5" y="272.6" width="1.3" height="9" fill="url(#stk)" fill-opacity="0.25"/>
<rect x="111" y="272.6" width="1.6" height="9" fill="url(#stk)" fill-opacity="0.23"/>
<rect x="121" y="272.6" width="2.2" height="9" fill="url(#stk)" fill-opacity="0.20"/>
<rect x="127.8" y="272.6" width="1.2" height="9" fill="url(#stk)" fill-opacity="0.20"/>
<rect x="134" y="272.6" width="1.2" height="9" fill="url(#stk)" fill-opacity="0.18"/>
<rect x="141" y="272.6" width="1.2" height="9" fill="url(#stk)" fill-opacity="0.20"/>
<rect x="147.2" y="272.6" width="1.2" height="9" fill="url(#stk)" fill-opacity="0.20"/>
<rect x="153.4" y="272.6" width="1.2" height="9" fill="url(#stk)" fill-opacity="0.18"/>
<rect x="189" y="272.6" width="1.6" height="9" fill="url(#stk)" fill-opacity="0.16"/>
<rect x="44" y="275.6" width="35" height="1.4" fill="#000" fill-opacity="0.1"/>
</g>
<g filter="url(#bf)">
<ellipse cx="46.8" cy="316.5" rx="4.6" ry="2.7" fill="#222"/>
<ellipse cx="54.5" cy="316.5" rx="4.6" ry="2.3" fill="#222"/>
<ellipse cx="62.5" cy="316.5" rx="4.6" ry="2.6" fill="#222"/>
<ellipse cx="70.4" cy="316.5" rx="4.6" ry="2.3" fill="#222"/>
<ellipse cx="77.3" cy="316.5" rx="4.6" ry="2.4" fill="#222"/>
<rect x="43" y="314.6" width="36" height="3.8" fill="#2a2a2a"/>
<rect x="86.5" y="315.8" width="69.5" height="3.4" rx="1" fill="#262626"/>
<rect x="162" y="315.5" width="65.5" height="3.0" rx="1" fill="#262626"/>
<rect x="95.5" y="316.3" width="2.5" height="2" fill="#666" fill-opacity="0.6"/>
<rect x="110" y="316.3" width="2.5" height="2" fill="#666" fill-opacity="0.6"/>
<rect x="124" y="316.3" width="2.5" height="2" fill="#666" fill-opacity="0.6"/>
<rect x="139" y="316.3" width="2.5" height="2" fill="#666" fill-opacity="0.6"/>
<rect x="150" y="316.3" width="2.5" height="2" fill="#666" fill-opacity="0.6"/>
<rect x="170" y="316.3" width="2.5" height="2" fill="#666" fill-opacity="0.6"/>
<rect x="183" y="316.3" width="2.5" height="2" fill="#666" fill-opacity="0.6"/>
<rect x="197" y="316.3" width="2.5" height="2" fill="#666" fill-opacity="0.6"/>
<rect x="216" y="316.3" width="2.5" height="2" fill="#666" fill-opacity="0.6"/>
<rect x="123" y="320.6" width="3" height="0.8" fill="#888"/>
</g>
<text x="230.8" y="265.2" font-size="6.5" fill="#1a1a1a">CDK8</text>
<text x="230.8" y="278.4" font-size="6.5" fill="#1a1a1a">MYC</text>
<text x="230.8" y="291.6" font-size="6.5" fill="#1a1a1a">MYC-pS62</text>
<text x="230.8" y="304.8" font-size="6.5" fill="#1a1a1a">MYC-pT58</text>
<text x="230.8" y="318.4" font-size="6.5" fill="#1a1a1a">ACTIN</text>
<line x1="40.20" y1="323.80" x2="40.20" y2="371.60" stroke="#000" stroke-width="1.1"/>
<line x1="40.20" y1="371.60" x2="228.50" y2="371.60" stroke="#000" stroke-width="1.1"/>
<line x1="38.60" y1="371.60" x2="40.20" y2="371.60" stroke="#000" stroke-width="0.8"/>
<text x="37.7" y="373.35" font-size="4.9" text-anchor="end" fill="#1a1a1a">0</text>
<line x1="38.60" y1="366.86" x2="40.20" y2="366.86" stroke="#000" stroke-width="0.8"/>
<text x="37.7" y="368.61" font-size="4.9" text-anchor="end" fill="#1a1a1a">2</text>
<line x1="38.60" y1="362.12" x2="40.20" y2="362.12" stroke="#000" stroke-width="0.8"/>
<text x="37.7" y="363.87" font-size="4.9" text-anchor="end" fill="#1a1a1a">4</text>
<line x1="38.60" y1="357.38" x2="40.20" y2="357.38" stroke="#000" stroke-width="0.8"/>
<text x="37.7" y="359.13" font-size="4.9" text-anchor="end" fill="#1a1a1a">6</text>
<line x1="38.60" y1="352.64" x2="40.20" y2="352.64" stroke="#000" stroke-width="0.8"/>
<text x="37.7" y="354.39000000000004" font-size="4.9" text-anchor="end" fill="#1a1a1a">8</text>
<line x1="38.60" y1="347.90" x2="40.20" y2="347.90" stroke="#000" stroke-width="0.8"/>
<text x="37.7" y="349.65000000000003" font-size="4.9" text-anchor="end" fill="#1a1a1a">10</text>
<line x1="38.60" y1="343.16" x2="40.20" y2="343.16" stroke="#000" stroke-width="0.8"/>
<text x="37.7" y="344.91" font-size="4.9" text-anchor="end" fill="#1a1a1a">12</text>
<line x1="38.60" y1="338.42" x2="40.20" y2="338.42" stroke="#000" stroke-width="0.8"/>
<text x="37.7" y="340.17" font-size="4.9" text-anchor="end" fill="#1a1a1a">14</text>
<line x1="38.60" y1="333.68" x2="40.20" y2="333.68" stroke="#000" stroke-width="0.8"/>
<text x="37.7" y="335.43" font-size="4.9" text-anchor="end" fill="#1a1a1a">16</text>
<line x1="38.60" y1="328.94" x2="40.20" y2="328.94" stroke="#000" stroke-width="0.8"/>
<text x="37.7" y="330.69" font-size="4.9" text-anchor="end" fill="#1a1a1a">18</text>
<line x1="38.60" y1="324.20" x2="40.20" y2="324.20" stroke="#000" stroke-width="0.8"/>
<text x="37.7" y="325.95000000000005" font-size="4.9" text-anchor="end" fill="#1a1a1a">20</text>
<text transform="translate(20.6,348.3) rotate(-90)" font-size="6.4" text-anchor="middle" fill="#1a1a1a">Protein levels</text>
<text transform="translate(27.9,348.3) rotate(-90)" font-size="6.35" text-anchor="middle" fill="#1a1a1a">(relative to normal avg)</text>
<rect x="44.10" y="368.52" width="2.0" height="3.08" fill="#9aa2ae" stroke="#333" stroke-width="0.35"/>
<rect x="45.95" y="369.94" width="2.0" height="1.66" fill="#c4844c" stroke="#333" stroke-width="0.35"/>
<rect x="47.80" y="362.83" width="2.0" height="8.77" fill="#2e3c78" stroke="#333" stroke-width="0.35"/>
<rect x="51.10" y="370.42" width="2.0" height="1.19" fill="#9aa2ae" stroke="#333" stroke-width="0.35"/>
<rect x="52.95" y="370.89" width="2.0" height="0.71" fill="#c4844c" stroke="#333" stroke-width="0.35"/>
<rect x="54.80" y="370.65" width="2.0" height="0.95" fill="#2e3c78" stroke="#333" stroke-width="0.35"/>
<rect x="58.60" y="369.47" width="2.0" height="2.13" fill="#9aa2ae" stroke="#333" stroke-width="0.35"/>
<rect x="60.45" y="370.18" width="2.0" height="1.42" fill="#c4844c" stroke="#333" stroke-width="0.35"/>
<rect x="62.30" y="370.65" width="2.0" height="0.95" fill="#2e3c78" stroke="#333" stroke-width="0.35"/>
<rect x="65.50" y="368.05" width="2.0" height="3.56" fill="#9aa2ae" stroke="#333" stroke-width="0.35"/>
<rect x="67.35" y="368.76" width="2.0" height="2.84" fill="#c4844c" stroke="#333" stroke-width="0.35"/>
<rect x="69.20" y="370.18" width="2.0" height="1.42" fill="#2e3c78" stroke="#333" stroke-width="0.35"/>
<rect x="72.40" y="368.52" width="2.0" height="3.08" fill="#9aa2ae" stroke="#333" stroke-width="0.35"/>
<rect x="74.25" y="369.23" width="2.0" height="2.37" fill="#c4844c" stroke="#333" stroke-width="0.35"/>
<rect x="76.10" y="370.18" width="2.0" height="1.42" fill="#2e3c78" stroke="#333" stroke-width="0.35"/>
<rect x="85.80" y="361.88" width="2.0" height="9.72" fill="#9aa2ae" stroke="#333" stroke-width="0.35"/>
<rect x="87.65" y="361.88" width="2.0" height="9.72" fill="#c4844c" stroke="#333" stroke-width="0.35"/>
<rect x="89.50" y="356.67" width="2.0" height="14.93" fill="#2e3c78" stroke="#333" stroke-width="0.35"/>
<rect x="93.10" y="366.62" width="2.0" height="4.98" fill="#9aa2ae" stroke="#333" stroke-width="0.35"/>
<rect x="94.95" y="360.94" width="2.0" height="10.67" fill="#c4844c" stroke="#333" stroke-width="0.35"/>
<rect x="96.80" y="367.33" width="2.0" height="4.27" fill="#2e3c78" stroke="#333" stroke-width="0.35"/>
<rect x="100.00" y="364.96" width="2.0" height="6.64" fill="#9aa2ae" stroke="#333" stroke-width="0.35"/>
<rect x="101.85" y="345.29" width="2.0" height="26.31" fill="#c4844c" stroke="#333" stroke-width="0.35"/>
<rect x="103.70" y="356.67" width="2.0" height="14.93" fill="#2e3c78" stroke="#333" stroke-width="0.35"/>
<rect x="106.90" y="361.17" width="2.0" height="10.43" fill="#9aa2ae" stroke="#333" stroke-width="0.35"/>
<rect x="108.75" y="363.07" width="2.0" height="8.53" fill="#c4844c" stroke="#333" stroke-width="0.35"/>
<rect x="110.60" y="360.94" width="2.0" height="10.67" fill="#2e3c78" stroke="#333" stroke-width="0.35"/>
<rect x="113.90" y="361.65" width="2.0" height="9.95" fill="#9aa2ae" stroke="#333" stroke-width="0.35"/>
<rect x="115.75" y="370.42" width="2.0" height="1.19" fill="#c4844c" stroke="#333" stroke-width="0.35"/>
<rect x="117.60" y="366.39" width="2.0" height="5.21" fill="#2e3c78" stroke="#333" stroke-width="0.35"/>
<rect x="121.60" y="370.18" width="2.0" height="1.42" fill="#9aa2ae" stroke="#333" stroke-width="0.35"/>
<rect x="123.45" y="370.65" width="2.0" height="0.95" fill="#c4844c" stroke="#333" stroke-width="0.35"/>
<rect x="125.30" y="370.18" width="2.0" height="1.42" fill="#2e3c78" stroke="#333" stroke-width="0.35"/>
<rect x="128.60" y="365.20" width="2.0" height="6.40" fill="#9aa2ae" stroke="#333" stroke-width="0.35"/>
<rect x="130.45" y="370.42" width="2.0" height="1.19" fill="#c4844c" stroke="#333" stroke-width="0.35"/>
<rect x="132.30" y="368.28" width="2.0" height="3.32" fill="#2e3c78" stroke="#333" stroke-width="0.35"/>
<rect x="135.80" y="369.23" width="2.0" height="2.37" fill="#9aa2ae" stroke="#333" stroke-width="0.35"/>
<rect x="137.65" y="370.89" width="2.0" height="0.71" fill="#c4844c" stroke="#333" stroke-width="0.35"/>
<rect x="139.50" y="370.89" width="2.0" height="0.71" fill="#2e3c78" stroke="#333" stroke-width="0.35"/>
<rect x="143.55" y="370.18" width="2.0" height="1.42" fill="#9aa2ae" stroke="#333" stroke-width="0.35"/>
<rect x="145.40" y="370.89" width="2.0" height="0.71" fill="#c4844c" stroke="#333" stroke-width="0.35"/>
<rect x="147.25" y="370.42" width="2.0" height="1.19" fill="#2e3c78" stroke="#333" stroke-width="0.35"/>
<rect x="151.20" y="370.18" width="2.0" height="1.42" fill="#9aa2ae" stroke="#333" stroke-width="0.35"/>
<rect x="153.05" y="370.65" width="2.0" height="0.95" fill="#c4844c" stroke="#333" stroke-width="0.35"/>
<rect x="154.90" y="370.42" width="2.0" height="1.19" fill="#2e3c78" stroke="#333" stroke-width="0.35"/>
<rect x="162.80" y="364.49" width="2.0" height="7.11" fill="#9aa2ae" stroke="#333" stroke-width="0.35"/>
<rect x="164.65" y="370.42" width="2.0" height="1.19" fill="#c4844c" stroke="#333" stroke-width="0.35"/>
<rect x="166.50" y="366.86" width="2.0" height="4.74" fill="#2e3c78" stroke="#333" stroke-width="0.35"/>
<rect x="170.50" y="369.23" width="2.0" height="2.37" fill="#9aa2ae" stroke="#333" stroke-width="0.35"/>
<rect x="172.35" y="370.65" width="2.0" height="0.95" fill="#c4844c" stroke="#333" stroke-width="0.35"/>
<rect x="174.20" y="370.89" width="2.0" height="0.71" fill="#2e3c78" stroke="#333" stroke-width="0.35"/>
<rect x="177.60" y="370.18" width="2.0" height="1.42" fill="#9aa2ae" stroke="#333" stroke-width="0.35"/>
<rect x="179.45" y="370.65" width="2.0" height="0.95" fill="#c4844c" stroke="#333" stroke-width="0.35"/>
<rect x="181.30" y="370.42" width="2.0" height="1.19" fill="#2e3c78" stroke="#333" stroke-width="0.35"/>
<rect x="184.60" y="370.18" width="2.0" height="1.42" fill="#9aa2ae" stroke="#333" stroke-width="0.35"/>
<rect x="186.45" y="370.65" width="2.0" height="0.95" fill="#c4844c" stroke="#333" stroke-width="0.35"/>
<rect x="188.30" y="370.42" width="2.0" height="1.19" fill="#2e3c78" stroke="#333" stroke-width="0.35"/>
<rect x="191.70" y="352.64" width="2.0" height="18.96" fill="#9aa2ae" stroke="#333" stroke-width="0.35"/>
<rect x="193.55" y="364.49" width="2.0" height="7.11" fill="#c4844c" stroke="#333" stroke-width="0.35"/>
<rect x="195.40" y="356.20" width="2.0" height="15.41" fill="#2e3c78" stroke="#333" stroke-width="0.35"/>
<rect x="198.80" y="355.01" width="2.0" height="16.59" fill="#9aa2ae" stroke="#333" stroke-width="0.35"/>
<rect x="200.65" y="356.20" width="2.0" height="15.41" fill="#c4844c" stroke="#333" stroke-width="0.35"/>
<rect x="202.50" y="357.62" width="2.0" height="13.98" fill="#2e3c78" stroke="#333" stroke-width="0.35"/>
<rect x="206.20" y="338.42" width="2.0" height="33.18" fill="#9aa2ae" stroke="#333" stroke-width="0.35"/>
<rect x="208.05" y="328.94" width="2.0" height="42.66" fill="#c4844c" stroke="#333" stroke-width="0.35"/>
<rect x="209.90" y="368.05" width="2.0" height="3.56" fill="#2e3c78" stroke="#333" stroke-width="0.35"/>
<rect x="213.60" y="365.20" width="2.0" height="6.40" fill="#9aa2ae" stroke="#333" stroke-width="0.35"/>
<rect x="215.45" y="357.14" width="2.0" height="14.46" fill="#c4844c" stroke="#333" stroke-width="0.35"/>
<rect x="217.30" y="350.51" width="2.0" height="21.09" fill="#2e3c78" stroke="#333" stroke-width="0.35"/>
<rect x="220.60" y="360.22" width="2.0" height="11.38" fill="#9aa2ae" stroke="#333" stroke-width="0.35"/>
<rect x="222.45" y="361.17" width="2.0" height="10.43" fill="#c4844c" stroke="#333" stroke-width="0.35"/>
<rect x="224.30" y="347.90" width="2.0" height="23.70" fill="#2e3c78" stroke="#333" stroke-width="0.35"/>
<rect x="84.20" y="379.50" width="3.60" height="3.60" fill="#c8c8c8" stroke="#111" stroke-width="0.9"/>
<rect x="84.20" y="387.30" width="3.60" height="3.60" fill="#c07838" stroke="#111" stroke-width="0.9"/>
<rect x="84.20" y="395.10" width="3.60" height="3.60" fill="#2a3a78" stroke="#111" stroke-width="0.9"/>
<text x="89.4" y="383.7" font-size="6.4" fill="#1a1a1a">CDK8</text>
<text x="89.4" y="391.1" font-size="6.4" fill="#1a1a1a">MYC</text>
<text x="89.4" y="398.6" font-size="6.4" fill="#1a1a1a">MYC-pS62 /</text>
<text x="94.8" y="405.8" font-size="6.4" fill="#1a1a1a">pT58 ratio</text>
<text x="134.3" y="382.4" font-size="6.35" fill="#1a1a1a">Pearson to CDK8:</text>
<line x1="134.30" y1="383.60" x2="185.50" y2="383.60" stroke="#333" stroke-width="0.7"/>
<text x="134.3" y="390.9" font-size="6.35" fill="#1a1a1a">0.8 (<tspan font-style="italic">P</tspan> = 10<tspan dy="-2.4" font-size="4.2">–6</tspan><tspan dy="2.4">)</tspan></text>
<text x="134.3" y="398.4" font-size="6.35" fill="#1a1a1a">0.4 (<tspan font-style="italic">P</tspan> = 0.02)</text>
<text x="272.8" y="125.3" font-size="12.3" font-weight="bold" fill="#000" style="stroke-width:0.5px">E</text>
<line x1="318.20" y1="128.20" x2="318.20" y2="203.80" stroke="#000" stroke-width="1.1"/>
<line x1="316.40" y1="128.80" x2="318.20" y2="128.80" stroke="#000" stroke-width="0.9"/>
<text x="314.7" y="130.99999999999997" font-size="6.4" text-anchor="end" fill="#1a1a1a">0.4</text>
<line x1="316.40" y1="136.25" x2="318.20" y2="136.25" stroke="#000" stroke-width="0.9"/>
<text x="314.7" y="138.45" font-size="6.4" text-anchor="end" fill="#1a1a1a">0.3</text>
<line x1="316.40" y1="143.70" x2="318.20" y2="143.70" stroke="#000" stroke-width="0.9"/>
<text x="314.7" y="145.89999999999998" font-size="6.4" text-anchor="end" fill="#1a1a1a">0.2</text>
<line x1="316.40" y1="151.15" x2="318.20" y2="151.15" stroke="#000" stroke-width="0.9"/>
<text x="314.7" y="153.35" font-size="6.4" text-anchor="end" fill="#1a1a1a">0.1</text>
<line x1="316.40" y1="158.60" x2="318.20" y2="158.60" stroke="#000" stroke-width="0.9"/>
<text x="314.7" y="160.79999999999998" font-size="6.4" text-anchor="end" fill="#1a1a1a">0.0</text>
<line x1="316.40" y1="166.05" x2="318.20" y2="166.05" stroke="#000" stroke-width="0.9"/>
<text x="314.7" y="168.24999999999997" font-size="6.4" text-anchor="end" fill="#1a1a1a">–0.1</text>
<line x1="316.40" y1="173.50" x2="318.20" y2="173.50" stroke="#000" stroke-width="0.9"/>
<text x="314.7" y="175.7" font-size="6.4" text-anchor="end" fill="#1a1a1a">–0.2</text>
<line x1="316.40" y1="180.95" x2="318.20" y2="180.95" stroke="#000" stroke-width="0.9"/>
<text x="314.7" y="183.14999999999998" font-size="6.4" text-anchor="end" fill="#1a1a1a">–0.3</text>
<line x1="316.40" y1="188.40" x2="318.20" y2="188.40" stroke="#000" stroke-width="0.9"/>
<text x="314.7" y="190.6" font-size="6.4" text-anchor="end" fill="#1a1a1a">–0.4</text>
<line x1="316.40" y1="195.85" x2="318.20" y2="195.85" stroke="#000" stroke-width="0.9"/>
<text x="314.7" y="198.04999999999998" font-size="6.4" text-anchor="end" fill="#1a1a1a">–0.5</text>
<line x1="316.40" y1="203.30" x2="318.20" y2="203.30" stroke="#000" stroke-width="0.9"/>
<text x="314.7" y="205.49999999999997" font-size="6.4" text-anchor="end" fill="#1a1a1a">–0.6</text>
<path d="M319.6,158.6 L319.6,139.97 L322,139.97 L325.5,140.72 L327.5,141.84 L330,143.70 L332,145.56 L336,146.68 L340,147.28 L344,148.17 L348,148.54 L355,149.29 L362,150.41 L370,151.15 L380,153.01 L390,154.88 L400,156.36 L408,157.48 L414,158.30 L416,158.60 L416,158.6 Z" fill="#f29c9e"/>
<path d="M420,158.6 L420,158.60 L430,158.97 L438,160.46 L446,162.10 L453,163.81 L460,165.60 L467,167.32 L474,169.03 L481,171.12 L488,173.50 L492,176.11 L495,178.72 L497,180.58 L499.5,183.93 L501.6,188.40 L503,193.62 L503.6,199.57 L504.3,199.57 L504.3,158.60 Z" fill="#8cc6a6"/>
<rect x="320.60" y="136.60" width="0.55" height="48" fill="#fff" fill-opacity="0.35"/>
<rect x="323.05" y="136.60" width="0.55" height="48" fill="#fff" fill-opacity="0.35"/>
<rect x="325.50" y="136.60" width="0.55" height="48" fill="#fff" fill-opacity="0.35"/>
<rect x="327.95" y="136.60" width="0.55" height="48" fill="#fff" fill-opacity="0.35"/>
<rect x="330.40" y="136.60" width="0.55" height="48" fill="#fff" fill-opacity="0.35"/>
<rect x="332.85" y="136.60" width="0.55" height="48" fill="#fff" fill-opacity="0.35"/>
<rect x="335.30" y="136.60" width="0.55" height="48" fill="#fff" fill-opacity="0.35"/>
<rect x="337.75" y="136.60" width="0.55" height="48" fill="#fff" fill-opacity="0.35"/>
<rect x="340.20" y="136.60" width="0.55" height="48" fill="#fff" fill-opacity="0.35"/>
<rect x="342.65" y="136.60" width="0.55" height="48" fill="#fff" fill-opacity="0.35"/>
<rect x="345.10" y="136.60" width="0.55" height="48" fill="#fff" fill-opacity="0.35"/>
<rect x="347.55" y="136.60" width="0.55" height="48" fill="#fff" fill-opacity="0.35"/>
<rect x="350.00" y="136.60" width="0.55" height="48" fill="#fff" fill-opacity="0.35"/>
<rect x="352.45" y="136.60" width="0.55" height="48" fill="#fff" fill-opacity="0.35"/>
<rect x="354.90" y="136.60" width="0.55" height="48" fill="#fff" fill-opacity="0.35"/>
<rect x="357.35" y="136.60" width="0.55" height="48" fill="#fff" fill-opacity="0.35"/>
<rect x="359.80" y="136.60" width="0.55" height="48" fill="#fff" fill-opacity="0.35"/>
<rect x="362.25" y="136.60" width="0.55" height="48" fill="#fff" fill-opacity="0.35"/>
<rect x="364.70" y="136.60" width="0.55" height="48" fill="#fff" fill-opacity="0.35"/>
<rect x="367.15" y="136.60" width="0.55" height="48" fill="#fff" fill-opacity="0.35"/>
<rect x="369.60" y="136.60" width="0.55" height="48" fill="#fff" fill-opacity="0.35"/>
<rect x="372.05" y="136.60" width="0.55" height="48" fill="#fff" fill-opacity="0.35"/>
<rect x="374.50" y="136.60" width="0.55" height="48" fill="#fff" fill-opacity="0.35"/>
<rect x="376.95" y="136.60" width="0.55" height="48" fill="#fff" fill-opacity="0.35"/>
<rect x="379.40" y="136.60" width="0.55" height="48" fill="#fff" fill-opacity="0.35"/>
<rect x="381.85" y="136.60" width="0.55" height="48" fill="#fff" fill-opacity="0.35"/>
<rect x="384.30" y="136.60" width="0.55" height="48" fill="#fff" fill-opacity="0.35"/>
<rect x="386.75" y="136.60" width="0.55" height="48" fill="#fff" fill-opacity="0.35"/>
<rect x="389.20" y="136.60" width="0.55" height="48" fill="#fff" fill-opacity="0.35"/>
<rect x="391.65" y="136.60" width="0.55" height="48" fill="#fff" fill-opacity="0.35"/>
<rect x="394.10" y="136.60" width="0.55" height="48" fill="#fff" fill-opacity="0.35"/>
<rect x="396.55" y="136.60" width="0.55" height="48" fill="#fff" fill-opacity="0.35"/>
<rect x="399.00" y="136.60" width="0.55" height="48" fill="#fff" fill-opacity="0.35"/>
<rect x="401.45" y="136.60" width="0.55" height="48" fill="#fff" fill-opacity="0.35"/>
<rect x="403.90" y="136.60" width="0.55" height="48" fill="#fff" fill-opacity="0.35"/>
<rect x="406.35" y="136.60" width="0.55" height="48" fill="#fff" fill-opacity="0.35"/>
<rect x="408.80" y="136.60" width="0.55" height="48" fill="#fff" fill-opacity="0.35"/>
<rect x="411.25" y="136.60" width="0.55" height="48" fill="#fff" fill-opacity="0.35"/>
<rect x="413.70" y="136.60" width="0.55" height="48" fill="#fff" fill-opacity="0.35"/>
<rect x="416.15" y="136.60" width="0.55" height="48" fill="#fff" fill-opacity="0.35"/>
<rect x="418.60" y="136.60" width="0.55" height="48" fill="#fff" fill-opacity="0.35"/>
<rect x="421.05" y="136.60" width="0.55" height="48" fill="#fff" fill-opacity="0.35"/>
<rect x="423.50" y="136.60" width="0.55" height="48" fill="#fff" fill-opacity="0.35"/>
<rect x="425.95" y="136.60" width="0.55" height="48" fill="#fff" fill-opacity="0.35"/>
<rect x="428.40" y="136.60" width="0.55" height="48" fill="#fff" fill-opacity="0.35"/>
<rect x="430.85" y="136.60" width="0.55" height="48" fill="#fff" fill-opacity="0.35"/>
<rect x="433.30" y="136.60" width="0.55" height="48" fill="#fff" fill-opacity="0.35"/>
<rect x="435.75" y="136.60" width="0.55" height="48" fill="#fff" fill-opacity="0.35"/>
<rect x="438.20" y="136.60" width="0.55" height="48" fill="#fff" fill-opacity="0.35"/>
<rect x="440.65" y="136.60" width="0.55" height="48" fill="#fff" fill-opacity="0.35"/>
<rect x="443.10" y="136.60" width="0.55" height="48" fill="#fff" fill-opacity="0.35"/>
<rect x="445.55" y="136.60" width="0.55" height="48" fill="#fff" fill-opacity="0.35"/>
<rect x="448.00" y="136.60" width="0.55" height="48" fill="#fff" fill-opacity="0.35"/>
<rect x="450.45" y="136.60" width="0.55" height="48" fill="#fff" fill-opacity="0.35"/>
<rect x="452.90" y="136.60" width="0.55" height="48" fill="#fff" fill-opacity="0.35"/>
<rect x="455.35" y="136.60" width="0.55" height="48" fill="#fff" fill-opacity="0.35"/>
<rect x="457.80" y="136.60" width="0.55" height="48" fill="#fff" fill-opacity="0.35"/>
<rect x="460.25" y="136.60" width="0.55" height="48" fill="#fff" fill-opacity="0.35"/>
<rect x="462.70" y="136.60" width="0.55" height="48" fill="#fff" fill-opacity="0.35"/>
<rect x="465.15" y="136.60" width="0.55" height="48" fill="#fff" fill-opacity="0.35"/>
<rect x="467.60" y="136.60" width="0.55" height="48" fill="#fff" fill-opacity="0.35"/>
<rect x="470.05" y="136.60" width="0.55" height="48" fill="#fff" fill-opacity="0.35"/>
<rect x="472.50" y="136.60" width="0.55" height="48" fill="#fff" fill-opacity="0.35"/>
<rect x="474.95" y="136.60" width="0.55" height="48" fill="#fff" fill-opacity="0.35"/>
<rect x="477.40" y="136.60" width="0.55" height="48" fill="#fff" fill-opacity="0.35"/>
<rect x="479.85" y="136.60" width="0.55" height="48" fill="#fff" fill-opacity="0.35"/>
<rect x="482.30" y="136.60" width="0.55" height="48" fill="#fff" fill-opacity="0.35"/>
<rect x="484.75" y="136.60" width="0.55" height="48" fill="#fff" fill-opacity="0.35"/>
<rect x="487.20" y="136.60" width="0.55" height="48" fill="#fff" fill-opacity="0.35"/>
<rect x="489.65" y="136.60" width="0.55" height="48" fill="#fff" fill-opacity="0.35"/>
<rect x="492.10" y="136.60" width="0.55" height="48" fill="#fff" fill-opacity="0.35"/>
<rect x="494.55" y="136.60" width="0.55" height="48" fill="#fff" fill-opacity="0.35"/>
<rect x="497.00" y="136.60" width="0.55" height="48" fill="#fff" fill-opacity="0.35"/>
<rect x="499.45" y="136.60" width="0.55" height="48" fill="#fff" fill-opacity="0.35"/>
<rect x="501.90" y="136.60" width="0.55" height="48" fill="#fff" fill-opacity="0.35"/>
<rect x="504.35" y="136.60" width="0.55" height="48" fill="#fff" fill-opacity="0.35"/>
<line x1="318.20" y1="158.60" x2="506.60" y2="158.60" stroke="#3d3535" stroke-width="1.4"/>
<line x1="417.70" y1="125.00" x2="417.70" y2="131.00" stroke="#c6c6c6" stroke-width="2.3"/>
<line x1="417.70" y1="140.00" x2="417.70" y2="148.40" stroke="#c6c6c6" stroke-width="2.3"/>
<line x1="417.70" y1="156.60" x2="417.70" y2="164.50" stroke="#c6c6c6" stroke-width="2.3"/>
<line x1="417.70" y1="174.40" x2="417.70" y2="183.60" stroke="#c6c6c6" stroke-width="2.3"/>
<rect x="325.00" y="128.40" width="1.30" height="6.80" fill="#7c4490"/>
<rect x="326.30" y="128.40" width="1.30" height="6.80" fill="#7c4490"/>
<rect x="327.70" y="128.40" width="1.30" height="6.80" fill="#7c4490"/>
<rect x="332.00" y="128.40" width="1.30" height="6.80" fill="#7c4490"/>
<rect x="334.90" y="128.40" width="1.30" height="6.80" fill="#7c4490"/>
<rect x="337.60" y="128.40" width="1.30" height="6.80" fill="#7c4490"/>
<rect x="345.60" y="128.40" width="1.30" height="6.80" fill="#7c4490"/>
<rect x="348.80" y="128.40" width="1.30" height="6.80" fill="#7c4490"/>
<rect x="350.20" y="128.40" width="1.30" height="6.80" fill="#7c4490"/>
<rect x="351.80" y="128.40" width="1.30" height="6.80" fill="#7c4490"/>
<rect x="357.00" y="128.40" width="1.30" height="6.80" fill="#7c4490"/>
<rect x="370.00" y="128.40" width="1.30" height="6.80" fill="#7c4490"/>
<rect x="375.40" y="128.40" width="1.30" height="6.80" fill="#7c4490"/>
<rect x="383.80" y="128.40" width="1.30" height="6.80" fill="#7c4490"/>
<rect x="387.60" y="128.40" width="1.30" height="6.80" fill="#7c4490"/>
<rect x="389.20" y="128.40" width="1.30" height="6.80" fill="#7c4490"/>
<rect x="401.00" y="128.40" width="1.30" height="6.80" fill="#7c4490"/>
<rect x="414.50" y="128.40" width="1.30" height="6.80" fill="#7c4490"/>
<rect x="419.80" y="128.40" width="1.30" height="6.80" fill="#7c4490"/>
<rect x="434.00" y="128.40" width="1.30" height="6.80" fill="#7c4490"/>
<rect x="441.00" y="128.40" width="1.30" height="6.80" fill="#7c4490"/>
<rect x="454.60" y="128.40" width="1.30" height="6.80" fill="#7c4490"/>
<rect x="462.10" y="128.40" width="1.30" height="6.80" fill="#7c4490"/>
<rect x="468.70" y="128.40" width="1.30" height="6.80" fill="#7c4490"/>
<rect x="469.70" y="128.40" width="1.30" height="6.80" fill="#7c4490"/>
<rect x="477.10" y="128.40" width="1.30" height="6.80" fill="#7c4490"/>
<text x="390.9" y="142.9" font-size="6.3" fill="#1a1a1a"><tspan font-style="italic">P</tspan> = 0.02</text>
<rect x="321.90" y="163.40" width="1.70" height="6.30" fill="#7c4490"/>
<text x="325.6" y="168.4" font-size="6.4" fill="#1a1a1a">= Poorly differentiated</text>
<text x="321.8" y="189.2" font-size="7.3" fill="#1a1a1a">Tumors sorted by</text>
<text x="321.8" y="196.2" font-size="7.3" fill="#1a1a1a">all MYC ES targets:</text>
<text x="321.8" y="203.2" font-size="7.3" fill="#1a1a1a"><tspan font-style="italic">P</tspan> = 0.3</text>
<text x="418.2" y="193.1" font-size="6.6" text-anchor="middle" fill="#1a1a1a">Human</text>
<text x="418.2" y="200.0" font-size="6.6" text-anchor="middle" fill="#1a1a1a">colon tumors</text>
<text transform="translate(285.0,165.6) rotate(-90)" font-size="7.3" text-anchor="middle" fill="#1a1a1a">Avg expression</text>
<text transform="translate(292.2,165.6) rotate(-90)" font-size="7.3" text-anchor="middle" fill="#1a1a1a">HT-29 CDK8-induced</text>
<text transform="translate(299.7,165.6) rotate(-90)" font-size="7.3" text-anchor="middle" fill="#1a1a1a">MYC ES targets</text>
<text x="273.4" y="219.0" font-size="12.3" font-weight="bold" fill="#000" style="stroke-width:0.5px">F</text>
<line x1="318.60" y1="223.60" x2="318.60" y2="274.80" stroke="#000" stroke-width="1.1"/>
<line x1="316.80" y1="224.00" x2="318.60" y2="224.00" stroke="#000" stroke-width="0.9"/>
<text x="314.9" y="226.2" font-size="6.4" text-anchor="end" fill="#1a1a1a">0.3</text>
<line x1="316.80" y1="230.20" x2="318.60" y2="230.20" stroke="#000" stroke-width="0.9"/>
<text x="314.9" y="232.39999999999998" font-size="6.4" text-anchor="end" fill="#1a1a1a">0.2</text>
<line x1="316.80" y1="236.40" x2="318.60" y2="236.40" stroke="#000" stroke-width="0.9"/>
<text x="314.9" y="238.6" font-size="6.4" text-anchor="end" fill="#1a1a1a">0.1</text>
<line x1="316.80" y1="242.60" x2="318.60" y2="242.60" stroke="#000" stroke-width="0.9"/>
<text x="314.9" y="244.79999999999998" font-size="6.4" text-anchor="end" fill="#1a1a1a">0.0</text>
<line x1="316.80" y1="248.80" x2="318.60" y2="248.80" stroke="#000" stroke-width="0.9"/>
<text x="314.9" y="250.99999999999997" font-size="6.4" text-anchor="end" fill="#1a1a1a">–0.1</text>
<line x1="316.80" y1="255.00" x2="318.60" y2="255.00" stroke="#000" stroke-width="0.9"/>
<text x="314.9" y="257.2" font-size="6.4" text-anchor="end" fill="#1a1a1a">–0.2</text>
<line x1="316.80" y1="261.20" x2="318.60" y2="261.20" stroke="#000" stroke-width="0.9"/>
<text x="314.9" y="263.4" font-size="6.4" text-anchor="end" fill="#1a1a1a">–0.3</text>
<line x1="316.80" y1="267.40" x2="318.60" y2="267.40" stroke="#000" stroke-width="0.9"/>
<text x="314.9" y="269.59999999999997" font-size="6.4" text-anchor="end" fill="#1a1a1a">–0.4</text>
<line x1="316.80" y1="273.60" x2="318.60" y2="273.60" stroke="#000" stroke-width="0.9"/>
<text x="314.9" y="275.8" font-size="6.4" text-anchor="end" fill="#1a1a1a">–0.5</text>
<line x1="318.60" y1="242.60" x2="492.60" y2="242.60" stroke="#333" stroke-width="1.4"/>
<rect x="320.25" y="231.00" width="1.50" height="11.60" fill="#d8404c"/>
<rect x="323.53" y="231.00" width="1.50" height="11.60" fill="#d8404c"/>
<rect x="326.81" y="231.50" width="1.50" height="11.10" fill="#d8404c"/>
<rect x="330.09" y="234.10" width="1.50" height="8.50" fill="#d8404c"/>
<rect x="333.37" y="234.60" width="1.50" height="8.00" fill="#d8404c"/>
<rect x="336.65" y="236.00" width="1.50" height="6.60" fill="#d8404c"/>
<rect x="339.93" y="236.30" width="1.50" height="6.30" fill="#d8404c"/>
<rect x="343.21" y="236.70" width="1.50" height="5.90" fill="#d8404c"/>
<rect x="346.49" y="237.00" width="1.50" height="5.60" fill="#d8404c"/>
<rect x="349.77" y="237.00" width="1.50" height="5.60" fill="#d8404c"/>
<rect x="353.05" y="237.50" width="1.50" height="5.10" fill="#d8404c"/>
<rect x="356.33" y="238.00" width="1.50" height="4.60" fill="#d8404c"/>
<rect x="359.61" y="238.50" width="1.50" height="4.10" fill="#d8404c"/>
<rect x="362.89" y="239.00" width="1.50" height="3.60" fill="#d8404c"/>
<rect x="366.17" y="239.40" width="1.50" height="3.20" fill="#d8404c"/>
<rect x="369.45" y="239.90" width="1.50" height="2.70" fill="#d8404c"/>
<rect x="372.73" y="241.30" width="1.50" height="1.30" fill="#d8404c"/>
<rect x="376.01" y="241.50" width="1.50" height="1.10" fill="#d8404c"/>
<rect x="379.29" y="242.00" width="1.50" height="0.60" fill="#d8404c"/>
<rect x="408.55" y="242.60" width="1.50" height="0.60" fill="#2f8a5a"/>
<rect x="411.80" y="242.60" width="1.50" height="1.50" fill="#2f8a5a"/>
<rect x="415.06" y="242.60" width="1.50" height="2.00" fill="#2f8a5a"/>
<rect x="418.31" y="242.60" width="1.50" height="3.00" fill="#2f8a5a"/>
<rect x="421.56" y="242.60" width="1.50" height="3.40" fill="#2f8a5a"/>
<rect x="424.81" y="242.60" width="1.50" height="3.40" fill="#2f8a5a"/>
<rect x="428.07" y="242.60" width="1.50" height="3.90" fill="#2f8a5a"/>
<rect x="431.32" y="242.60" width="1.50" height="3.90" fill="#2f8a5a"/>
<rect x="434.57" y="242.60" width="1.50" height="4.90" fill="#2f8a5a"/>
<rect x="437.83" y="242.60" width="1.50" height="5.40" fill="#2f8a5a"/>
<rect x="441.08" y="242.60" width="1.50" height="5.90" fill="#2f8a5a"/>
<rect x="444.33" y="242.60" width="1.50" height="6.30" fill="#2f8a5a"/>
<rect x="447.59" y="242.60" width="1.50" height="6.30" fill="#2f8a5a"/>
<rect x="450.84" y="242.60" width="1.50" height="8.70" fill="#2f8a5a"/>
<rect x="454.09" y="242.60" width="1.50" height="9.70" fill="#2f8a5a"/>
<rect x="457.35" y="242.60" width="1.50" height="10.70" fill="#2f8a5a"/>
<rect x="460.60" y="242.60" width="1.50" height="10.70" fill="#2f8a5a"/>
<rect x="463.85" y="242.60" width="1.50" height="11.60" fill="#2f8a5a"/>
<rect x="467.10" y="242.60" width="1.50" height="14.50" fill="#2f8a5a"/>
<rect x="470.36" y="242.60" width="1.50" height="14.50" fill="#2f8a5a"/>
<rect x="473.61" y="242.60" width="1.50" height="16.00" fill="#2f8a5a"/>
<rect x="476.86" y="242.60" width="1.50" height="18.60" fill="#2f8a5a"/>
<rect x="480.12" y="242.60" width="1.50" height="19.10" fill="#2f8a5a"/>
<rect x="483.37" y="242.60" width="1.50" height="27.50" fill="#2f8a5a"/>
<rect x="486.62" y="242.60" width="1.50" height="28.90" fill="#2f8a5a"/>
<text x="321.9" y="266.5" font-size="6.6" fill="#1a1a1a">Human</text>
<text x="321.9" y="273.5" font-size="6.6" fill="#1a1a1a">colon tumors</text>
<text transform="translate(285.0,249.2) rotate(-90)" font-size="7.3" text-anchor="middle" fill="#1a1a1a">Avg expression</text>
<text transform="translate(292.2,249.2) rotate(-90)" font-size="7.3" text-anchor="middle" fill="#1a1a1a">HT-29 CDK8-induced</text>
<text transform="translate(299.7,249.2) rotate(-90)" font-size="7.3" text-anchor="middle" fill="#1a1a1a">MYC ES targets</text>
<line x1="394.30" y1="224.90" x2="394.30" y2="408.50" stroke="#c8c8c8" stroke-width="2.3" stroke-dasharray="9 8.42"/>
<line x1="318.80" y1="287.40" x2="318.80" y2="338.30" stroke="#000" stroke-width="1.1"/>
<line x1="318.80" y1="338.30" x2="392.70" y2="338.30" stroke="#000" stroke-width="1.1"/>
<line x1="395.90" y1="338.30" x2="493.20" y2="338.30" stroke="#000" stroke-width="1.1"/>
<line x1="317.00" y1="338.30" x2="318.80" y2="338.30" stroke="#000" stroke-width="0.9"/>
<text x="316.0" y="340.5" font-size="6.5" text-anchor="end" fill="#1a1a1a">0</text>
<line x1="317.00" y1="328.20" x2="318.80" y2="328.20" stroke="#000" stroke-width="0.9"/>
<text x="316.0" y="330.4" font-size="6.5" text-anchor="end" fill="#1a1a1a">20</text>
<line x1="317.00" y1="318.10" x2="318.80" y2="318.10" stroke="#000" stroke-width="0.9"/>
<text x="316.0" y="320.3" font-size="6.5" text-anchor="end" fill="#1a1a1a">40</text>
<line x1="317.00" y1="308.00" x2="318.80" y2="308.00" stroke="#000" stroke-width="0.9"/>
<text x="316.0" y="310.2" font-size="6.5" text-anchor="end" fill="#1a1a1a">60</text>
<line x1="317.00" y1="297.90" x2="318.80" y2="297.90" stroke="#000" stroke-width="0.9"/>
<text x="316.0" y="300.1" font-size="6.5" text-anchor="end" fill="#1a1a1a">80</text>
<line x1="317.00" y1="287.80" x2="318.80" y2="287.80" stroke="#000" stroke-width="0.9"/>
<text x="316.0" y="290.0" font-size="6.5" text-anchor="end" fill="#1a1a1a">100</text>
<rect x="319.60" y="336.28" width="1.40" height="2.02" fill="#000"/>
<rect x="323.10" y="331.23" width="1.40" height="7.07" fill="#000"/>
<rect x="326.30" y="330.98" width="1.40" height="7.32" fill="#000"/>
<rect x="329.30" y="333.75" width="1.40" height="4.54" fill="#000"/>
<rect x="332.50" y="336.28" width="1.40" height="2.02" fill="#000"/>
<rect x="335.80" y="337.90" width="1.40" height="0.40" fill="#000"/>
<rect x="339.00" y="325.68" width="1.40" height="12.62" fill="#000"/>
<rect x="342.30" y="333.25" width="1.40" height="5.05" fill="#000"/>
<rect x="345.50" y="323.15" width="1.40" height="15.15" fill="#000"/>
<rect x="348.80" y="319.62" width="1.40" height="18.68" fill="#000"/>
<rect x="352.20" y="321.63" width="1.40" height="16.66" fill="#000"/>
<rect x="355.50" y="335.78" width="1.40" height="2.52" fill="#000"/>
<rect x="358.80" y="329.21" width="1.40" height="9.09" fill="#000"/>
<rect x="361.90" y="324.41" width="1.40" height="13.89" fill="#000"/>
<rect x="365.20" y="324.41" width="1.40" height="13.89" fill="#000"/>
<rect x="368.30" y="317.60" width="1.40" height="20.71" fill="#000"/>
<rect x="371.70" y="334.26" width="1.40" height="4.04" fill="#000"/>
<rect x="374.80" y="332.49" width="1.40" height="5.81" fill="#000"/>
<rect x="378.10" y="328.96" width="1.40" height="9.34" fill="#000"/>
<rect x="381.30" y="331.23" width="1.40" height="7.07" fill="#000"/>
<rect x="384.60" y="333.75" width="1.40" height="4.54" fill="#000"/>
<rect x="387.90" y="333.25" width="1.40" height="5.05" fill="#000"/>
<rect x="399.30" y="331.23" width="1.40" height="7.07" fill="#000"/>
<rect x="402.30" y="319.11" width="1.40" height="19.19" fill="#000"/>
<rect x="405.50" y="333.75" width="1.40" height="4.54" fill="#000"/>
<rect x="408.90" y="326.18" width="1.40" height="12.12" fill="#000"/>
<rect x="411.90" y="335.78" width="1.40" height="2.52" fill="#000"/>
<rect x="415.30" y="324.16" width="1.40" height="14.14" fill="#000"/>
<rect x="418.50" y="337.04" width="1.40" height="1.26" fill="#000"/>
<rect x="421.90" y="328.70" width="1.40" height="9.60" fill="#000"/>
<rect x="425.30" y="324.67" width="1.40" height="13.63" fill="#000"/>
<rect x="428.30" y="331.23" width="1.40" height="7.07" fill="#000"/>
<rect x="431.50" y="327.44" width="1.40" height="10.86" fill="#000"/>
<rect x="434.90" y="333.75" width="1.40" height="4.54" fill="#000"/>
<rect x="438.30" y="326.69" width="1.40" height="11.62" fill="#000"/>
<rect x="441.30" y="330.22" width="1.40" height="8.08" fill="#000"/>
<rect x="444.60" y="328.20" width="1.40" height="10.10" fill="#000"/>
<rect x="447.90" y="298.15" width="1.40" height="40.15" fill="#000"/>
<rect x="451.20" y="318.61" width="1.40" height="19.70" fill="#000"/>
<rect x="454.50" y="330.73" width="1.40" height="7.58" fill="#000"/>
<rect x="457.80" y="328.20" width="1.40" height="10.10" fill="#000"/>
<rect x="460.80" y="335.78" width="1.40" height="2.52" fill="#000"/>
<rect x="464.20" y="331.48" width="1.40" height="6.82" fill="#000"/>
<rect x="467.20" y="327.44" width="1.40" height="10.86" fill="#000"/>
<rect x="470.60" y="295.38" width="1.40" height="42.92" fill="#000"/>
<rect x="473.80" y="321.13" width="1.40" height="17.17" fill="#000"/>
<rect x="477.20" y="325.68" width="1.40" height="12.62" fill="#000"/>
<rect x="480.40" y="291.34" width="1.40" height="46.97" fill="#000"/>
<rect x="483.60" y="320.12" width="1.40" height="18.18" fill="#000"/>
<rect x="486.80" y="301.44" width="1.40" height="36.87" fill="#000"/>
<text transform="translate(284.7,312.2) rotate(-90)" font-size="7.35" text-anchor="middle" fill="#1a1a1a">Time to</text>
<text transform="translate(292.3,312.1) rotate(-90)" font-size="7.35" text-anchor="middle" fill="#1a1a1a">recur</text>
<text transform="translate(299.6,312.0) rotate(-90)" font-size="7.25" text-anchor="middle" fill="#1a1a1a">(months)</text>
<line x1="360.00" y1="357.80" x2="360.00" y2="408.00" stroke="#000" stroke-width="1.1"/>
<line x1="360.00" y1="408.00" x2="420.50" y2="408.00" stroke="#000" stroke-width="1.1"/>
<line x1="358.20" y1="408.00" x2="360.00" y2="408.00" stroke="#000" stroke-width="0.9"/>
<text x="358.0" y="410.2" font-size="6.5" text-anchor="end" fill="#1a1a1a">0</text>
<line x1="358.20" y1="395.55" x2="360.00" y2="395.55" stroke="#000" stroke-width="0.9"/>
<text x="358.0" y="397.75" font-size="6.5" text-anchor="end" fill="#1a1a1a">10</text>
<line x1="358.20" y1="383.10" x2="360.00" y2="383.10" stroke="#000" stroke-width="0.9"/>
<text x="358.0" y="385.3" font-size="6.5" text-anchor="end" fill="#1a1a1a">20</text>
<line x1="358.20" y1="370.65" x2="360.00" y2="370.65" stroke="#000" stroke-width="0.9"/>
<text x="358.0" y="372.84999999999997" font-size="6.5" text-anchor="end" fill="#1a1a1a">30</text>
<line x1="358.20" y1="358.20" x2="360.00" y2="358.20" stroke="#000" stroke-width="0.9"/>
<text x="358.0" y="360.4" font-size="6.5" text-anchor="end" fill="#1a1a1a">40</text>
<rect x="370.90" y="386.21" width="12.90" height="21.79" fill="#000"/>
<line x1="377.35" y1="382.30" x2="377.35" y2="386.21" stroke="#000" stroke-width="1"/>
<line x1="374.00" y1="382.30" x2="381.00" y2="382.30" stroke="#000" stroke-width="1"/>
<rect x="405.00" y="369.16" width="12.70" height="38.84" fill="#000"/>
<line x1="411.35" y1="364.70" x2="411.35" y2="369.16" stroke="#000" stroke-width="1"/>
<line x1="407.60" y1="364.70" x2="415.30" y2="364.70" stroke="#000" stroke-width="1"/>
<rect x="381.00" y="349.40" width="28.00" height="8.60" fill="#fff"/>
<path d="M377.35,380.6 V358.6 H411.4 V363.8" fill="none" stroke="#000" stroke-width="0.9"/>
<text x="383" y="356.7" font-size="6.3" fill="#1a1a1a"><tspan font-style="italic">P</tspan> = 0.02</text>
<text transform="translate(336.6,382.8) rotate(-90)" font-size="7.4" text-anchor="middle" fill="#1a1a1a">Average time to</text>
<text transform="translate(343.8,382.5) rotate(-90)" font-size="7.4" text-anchor="middle" fill="#1a1a1a">recur (months)</text>
<text x="429" y="359.6" font-size="7.6" fill="#1a1a1a">Tumors sorted by</text>
<text x="429" y="366.9" font-size="7.6" fill="#1a1a1a">all MYC ES targets:</text>
<text x="429" y="373.7" font-size="7.6" fill="#1a1a1a"><tspan font-style="italic">P</tspan> = 0.1</text>
<rect x="0.5" y="0.5" width="518.8" height="423.2" fill="none" stroke="#8c8c8c" stroke-width="1"/>
<line x1="0" y1="424.5" x2="520" y2="424.5" stroke="#9a9a9a" stroke-width="1"/>
</g>
</svg>
</body></html>
